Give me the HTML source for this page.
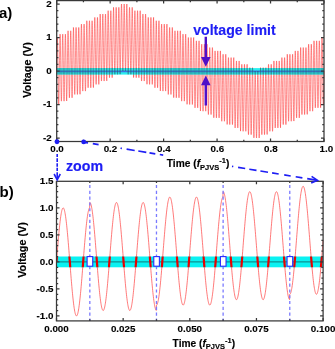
<!DOCTYPE html><html><head><meta charset="utf-8"><style>html,body{margin:0;padding:0;background:#fff;width:335px;height:349px;overflow:hidden}svg{display:block;will-change:transform}text{font-family:"Liberation Sans",sans-serif;font-weight:bold}.tk{font-size:9.8px;stroke:#000;stroke-width:0.12px}.tt{stroke:#000;stroke-width:0.15px}</style></head><body>
<svg width="335" height="349" viewBox="0 0 335 349">
<defs>
<clipPath id="clA"><rect x="56.7" y="68.1" width="267.3" height="6.5"/></clipPath></defs>
<polyline points="56.7,71 56.74,67.5 56.79,64.03 56.83,60.65 56.88,57.37 56.92,54.25 56.97,51.31 57.01,48.58 57.06,46.1 57.1,43.9 57.15,41.99 57.19,40.4 57.23,39.14 57.28,38.23 57.32,37.68 57.37,37.5 57.41,37.68 57.46,38.23 57.5,39.14 57.55,40.4 57.59,41.99 57.64,43.9 57.68,46.1 57.72,48.58 57.77,51.31 57.81,54.25 57.86,57.37 57.9,60.65 57.95,64.03 57.99,67.5 58.04,71 58.08,74.5 58.13,77.97 58.17,81.35 58.21,84.63 58.26,87.75 58.3,90.69 58.35,93.42 58.39,95.9 58.44,98.1 58.48,100.01 58.53,101.6 58.57,102.86 58.62,103.77 58.66,104.32 58.7,104.5 58.75,104.32 58.79,103.77 58.84,102.86 58.88,101.6 58.93,100.01 58.97,98.1 59.02,95.9 59.06,93.42 59.11,90.69 59.15,87.75 59.19,84.63 59.24,81.35 59.28,77.97 59.33,74.5 59.37,71 59.42,67.5 59.46,64.03 59.51,60.65 59.55,57.37 59.6,54.25 59.64,51.31 59.68,48.58 59.73,46.1 59.77,43.9 59.82,41.99 59.86,40.4 59.91,39.14 59.95,38.23 60,37.68 60.04,34.15 60.09,34.33 60.13,34.88 60.17,35.79 60.22,37.05 60.26,38.64 60.31,40.55 60.35,42.75 60.4,45.23 60.44,47.96 60.49,50.9 60.53,54.02 60.58,57.3 60.62,60.68 60.66,64.15 60.71,67.65 60.75,71.15 60.8,74.62 60.84,78 60.89,81.28 60.93,84.4 60.98,87.34 61.02,90.07 61.07,92.55 61.11,94.75 61.16,96.66 61.2,98.25 61.24,99.51 61.29,100.42 61.33,100.97 61.38,101.15 61.42,100.97 61.47,100.42 61.51,99.51 61.56,98.25 61.6,96.66 61.65,94.75 61.69,92.55 61.73,90.07 61.78,87.34 61.82,84.4 61.87,81.28 61.91,78 61.96,74.62 62,71.15 62.05,67.65 62.09,64.15 62.14,60.68 62.18,57.3 62.22,54.02 62.27,50.9 62.31,47.96 62.36,45.23 62.4,42.75 62.45,40.55 62.49,38.64 62.54,37.05 62.58,35.79 62.63,34.88 62.67,34.33 62.71,34.15 62.76,34.33 62.8,34.88 62.85,35.79 62.89,37.05 62.94,38.64 62.98,40.55 63.03,42.75 63.07,45.23 63.12,47.96 63.16,50.9 63.2,54.02 63.25,57.3 63.29,60.68 63.34,64.15 63.38,67.65 63.43,71.15 63.47,74.62 63.52,78 63.56,81.28 63.61,84.4 63.65,87.34 63.69,90.07 63.74,92.55 63.78,94.75 63.83,96.66 63.87,98.25 63.92,99.51 63.96,100.42 64.01,100.97 64.05,101.15 64.1,100.97 64.14,100.42 64.18,99.51 64.23,98.25 64.27,96.66 64.32,94.75 64.36,92.55 64.41,90.07 64.45,87.34 64.5,84.4 64.54,81.28 64.59,78 64.63,74.62 64.67,71.15 64.72,67.65 64.76,64.15 64.81,60.68 64.85,57.3 64.9,54.02 64.94,50.9 64.99,47.96 65.03,45.23 65.08,42.75 65.12,40.55 65.16,38.64 65.21,37.05 65.25,35.79 65.3,34.88 65.34,34.33 65.39,34.15 65.43,34.33 65.48,34.88 65.52,35.79 65.57,37.05 65.61,38.64 65.65,40.55 65.7,42.75 65.74,45.23 65.79,47.96 65.83,50.9 65.88,54.02 65.92,57.3 65.97,60.68 66.01,64.15 66.06,67.65 66.1,71.15 66.14,74.62 66.19,78 66.23,81.28 66.28,84.4 66.32,87.34 66.37,90.07 66.41,92.55 66.46,94.75 66.5,96.66 66.55,98.25 66.59,99.51 66.63,100.42 66.68,100.97 66.72,97.8 66.77,97.62 66.81,97.07 66.86,96.16 66.9,94.9 66.95,93.31 66.99,91.4 67.04,89.2 67.08,86.72 67.12,83.99 67.17,81.05 67.21,77.93 67.26,74.65 67.3,71.27 67.35,67.8 67.39,64.3 67.44,60.8 67.48,57.33 67.53,53.95 67.57,50.67 67.61,47.55 67.66,44.61 67.7,41.88 67.75,39.4 67.79,37.2 67.84,35.29 67.88,33.7 67.93,32.44 67.97,31.53 68.02,30.98 68.06,30.8 68.1,30.98 68.15,31.53 68.19,32.44 68.24,33.7 68.28,35.29 68.33,37.2 68.37,39.4 68.42,41.88 68.46,44.61 68.51,47.55 68.55,50.67 68.59,53.95 68.64,57.33 68.68,60.8 68.73,64.3 68.77,67.8 68.82,71.27 68.86,74.65 68.91,77.93 68.95,81.05 69,83.99 69.04,86.72 69.08,89.2 69.13,91.4 69.17,93.31 69.22,94.9 69.26,96.16 69.31,97.07 69.35,97.62 69.4,97.8 69.44,97.62 69.49,97.07 69.53,96.16 69.57,94.9 69.62,93.31 69.66,91.4 69.71,89.2 69.75,86.72 69.8,83.99 69.84,81.05 69.89,77.93 69.93,74.65 69.98,71.27 70.02,67.8 70.06,64.3 70.11,60.8 70.15,57.33 70.2,53.95 70.24,50.67 70.29,47.55 70.33,44.61 70.38,41.88 70.42,39.4 70.47,37.2 70.51,35.29 70.56,33.7 70.6,32.44 70.64,31.53 70.69,30.98 70.73,30.8 70.78,30.98 70.82,31.53 70.87,32.44 70.91,33.7 70.96,35.29 71,37.2 71.05,39.4 71.09,41.88 71.13,44.61 71.18,47.55 71.22,50.67 71.27,53.95 71.31,57.33 71.36,60.8 71.4,64.3 71.45,67.8 71.49,71.27 71.54,74.65 71.58,77.93 71.62,81.05 71.67,83.99 71.71,86.72 71.76,89.2 71.8,91.4 71.85,93.31 71.89,94.9 71.94,96.16 71.98,97.07 72.03,97.62 72.07,97.8 72.11,97.62 72.16,97.07 72.2,96.16 72.25,94.9 72.29,93.31 72.34,91.4 72.38,89.2 72.43,86.72 72.47,83.99 72.52,81.05 72.56,77.93 72.6,74.65 72.65,71.27 72.69,67.8 72.74,64.3 72.78,60.8 72.83,57.33 72.87,53.95 72.92,50.67 72.96,47.55 73.01,44.61 73.05,41.88 73.09,39.4 73.14,37.2 73.18,35.29 73.23,33.7 73.27,32.44 73.32,31.53 73.36,30.98 73.41,27.45 73.45,27.63 73.5,28.18 73.54,29.09 73.58,30.35 73.63,31.94 73.67,33.85 73.72,36.05 73.76,38.53 73.81,41.26 73.85,44.2 73.9,47.32 73.94,50.6 73.99,53.98 74.03,57.45 74.07,60.95 74.12,64.45 74.16,67.92 74.21,71.3 74.25,74.58 74.3,77.7 74.34,80.64 74.39,83.37 74.43,85.85 74.48,88.05 74.52,89.96 74.56,91.55 74.61,92.81 74.65,93.72 74.7,94.27 74.74,94.45 74.79,94.27 74.83,93.72 74.88,92.81 74.92,91.55 74.97,89.96 75.01,88.05 75.05,85.85 75.1,83.37 75.14,80.64 75.19,77.7 75.23,74.58 75.28,71.3 75.32,67.92 75.37,64.45 75.41,60.95 75.46,57.45 75.5,53.98 75.54,50.6 75.59,47.32 75.63,44.2 75.68,41.26 75.72,38.53 75.77,36.05 75.81,33.85 75.86,31.94 75.9,30.35 75.95,29.09 75.99,28.18 76.03,27.63 76.08,27.45 76.12,27.63 76.17,28.18 76.21,29.09 76.26,30.35 76.3,31.94 76.35,33.85 76.39,36.05 76.44,38.53 76.48,41.26 76.52,44.2 76.57,47.32 76.61,50.6 76.66,53.98 76.7,57.45 76.75,60.95 76.79,64.45 76.84,67.92 76.88,71.3 76.93,74.58 76.97,77.7 77.01,80.64 77.06,83.37 77.1,85.85 77.15,88.05 77.19,89.96 77.24,91.55 77.28,92.81 77.33,93.72 77.37,94.27 77.42,94.45 77.46,94.27 77.5,93.72 77.55,92.81 77.59,91.55 77.64,89.96 77.68,88.05 77.73,85.85 77.77,83.37 77.82,80.64 77.86,77.7 77.91,74.58 77.95,71.3 77.99,67.92 78.04,64.45 78.08,60.95 78.13,57.45 78.17,53.98 78.22,50.6 78.26,47.32 78.31,44.2 78.35,41.26 78.4,38.53 78.44,36.05 78.48,33.85 78.53,31.94 78.57,30.35 78.62,29.09 78.66,28.18 78.71,27.63 78.75,27.45 78.8,27.63 78.84,28.18 78.89,29.09 78.93,30.35 78.97,31.94 79.02,33.85 79.06,36.05 79.11,38.53 79.15,41.26 79.2,44.2 79.24,47.32 79.29,50.6 79.33,53.98 79.38,57.45 79.42,60.95 79.47,64.45 79.51,67.92 79.55,71.3 79.6,74.58 79.64,77.7 79.69,80.64 79.73,83.37 79.78,85.85 79.82,88.05 79.87,89.96 79.91,91.55 79.96,92.81 80,93.72 80.04,94.27 80.09,91.1 80.13,90.92 80.18,90.37 80.22,89.46 80.27,88.2 80.31,86.61 80.36,84.7 80.4,82.5 80.45,80.02 80.49,77.29 80.53,74.35 80.58,71.23 80.62,67.95 80.67,64.57 80.71,61.1 80.76,57.6 80.8,54.1 80.85,50.63 80.89,47.25 80.94,43.97 80.98,40.85 81.02,37.91 81.07,35.18 81.11,32.7 81.16,30.5 81.2,28.59 81.25,27 81.29,25.74 81.34,24.83 81.38,24.28 81.43,24.1 81.47,24.28 81.51,24.83 81.56,25.74 81.6,27 81.65,28.59 81.69,30.5 81.74,32.7 81.78,35.18 81.83,37.91 81.87,40.85 81.92,43.97 81.96,47.25 82,50.63 82.05,54.1 82.09,57.6 82.14,61.1 82.18,64.57 82.23,67.95 82.27,71.23 82.32,74.35 82.36,77.29 82.41,80.02 82.45,82.5 82.49,84.7 82.54,86.61 82.58,88.2 82.63,89.46 82.67,90.37 82.72,90.92 82.76,91.1 82.81,90.92 82.85,90.37 82.9,89.46 82.94,88.2 82.98,86.61 83.03,84.7 83.07,82.5 83.12,80.02 83.16,77.29 83.21,74.35 83.25,71.23 83.3,67.95 83.34,64.57 83.39,61.1 83.43,57.6 83.47,54.1 83.52,50.63 83.56,47.25 83.61,43.97 83.65,40.85 83.7,37.91 83.74,35.18 83.79,32.7 83.83,30.5 83.88,28.59 83.92,27 83.96,25.74 84.01,24.83 84.05,24.28 84.1,24.1 84.14,24.28 84.19,24.83 84.23,25.74 84.28,27 84.32,28.59 84.37,30.5 84.41,32.7 84.45,35.18 84.5,37.91 84.54,40.85 84.59,43.97 84.63,47.25 84.68,50.63 84.72,54.1 84.77,57.6 84.81,61.1 84.86,64.57 84.9,67.95 84.94,71.23 84.99,74.35 85.03,77.29 85.08,80.02 85.12,82.5 85.17,84.7 85.21,86.61 85.26,88.2 85.3,89.46 85.35,90.37 85.39,90.92 85.43,91.1 85.48,90.92 85.52,90.37 85.57,89.46 85.61,88.2 85.66,86.61 85.7,84.7 85.75,82.5 85.79,80.02 85.84,77.29 85.88,74.35 85.92,71.23 85.97,67.95 86.01,64.57 86.06,61.1 86.1,57.6 86.15,54.1 86.19,50.63 86.24,47.25 86.28,43.97 86.33,40.85 86.37,37.91 86.41,35.18 86.46,32.7 86.5,30.5 86.55,28.59 86.59,27 86.64,25.74 86.68,24.83 86.73,24.28 86.77,20.75 86.82,20.93 86.86,21.48 86.9,22.39 86.95,23.65 86.99,25.24 87.04,27.15 87.08,29.35 87.13,31.83 87.17,34.56 87.22,37.5 87.26,40.62 87.31,43.9 87.35,47.28 87.39,50.75 87.44,54.25 87.48,57.75 87.53,61.22 87.57,64.6 87.62,67.88 87.66,71 87.71,73.94 87.75,76.67 87.8,79.15 87.84,81.35 87.89,83.26 87.93,84.85 87.97,86.11 88.02,87.02 88.06,87.57 88.11,87.75 88.15,87.57 88.2,87.02 88.24,86.11 88.29,84.85 88.33,83.26 88.38,81.35 88.42,79.15 88.46,76.67 88.51,73.94 88.55,71 88.6,67.88 88.64,64.6 88.69,61.22 88.73,57.75 88.78,54.25 88.82,50.75 88.87,47.28 88.91,43.9 88.95,40.62 89,37.5 89.04,34.56 89.09,31.83 89.13,29.35 89.18,27.15 89.22,25.24 89.27,23.65 89.31,22.39 89.36,21.48 89.4,20.93 89.44,20.75 89.49,20.93 89.53,21.48 89.58,22.39 89.62,23.65 89.67,25.24 89.71,27.15 89.76,29.35 89.8,31.83 89.85,34.56 89.89,37.5 89.93,40.62 89.98,43.9 90.02,47.28 90.07,50.75 90.11,54.25 90.16,57.75 90.2,61.22 90.25,64.6 90.29,67.88 90.34,71 90.38,73.94 90.42,76.67 90.47,79.15 90.51,81.35 90.56,83.26 90.6,84.85 90.65,86.11 90.69,87.02 90.74,87.57 90.78,87.75 90.83,87.57 90.87,87.02 90.91,86.11 90.96,84.85 91,83.26 91.05,81.35 91.09,79.15 91.14,76.67 91.18,73.94 91.23,71 91.27,67.88 91.32,64.6 91.36,61.22 91.4,57.75 91.45,54.25 91.49,50.75 91.54,47.28 91.58,43.9 91.63,40.62 91.67,37.5 91.72,34.56 91.76,31.83 91.81,29.35 91.85,27.15 91.89,25.24 91.94,23.65 91.98,22.39 92.03,21.48 92.07,20.93 92.12,20.75 92.16,20.93 92.21,21.48 92.25,22.39 92.3,23.65 92.34,25.24 92.38,27.15 92.43,29.35 92.47,31.83 92.52,34.56 92.56,37.5 92.61,40.62 92.65,43.9 92.7,47.28 92.74,50.75 92.79,54.25 92.83,57.75 92.87,61.22 92.92,64.6 92.96,67.88 93.01,71 93.05,73.94 93.1,76.67 93.14,79.15 93.19,81.35 93.23,83.26 93.28,84.85 93.32,86.11 93.36,87.02 93.41,87.57 93.45,84.4 93.5,84.22 93.54,83.67 93.59,82.76 93.63,81.5 93.68,79.91 93.72,78 93.77,75.8 93.81,73.32 93.85,70.59 93.9,67.65 93.94,64.53 93.99,61.25 94.03,57.87 94.08,54.4 94.12,50.9 94.17,47.4 94.21,43.93 94.26,40.55 94.3,37.27 94.34,34.15 94.39,31.21 94.43,28.48 94.48,26 94.52,23.8 94.57,21.89 94.61,20.3 94.66,19.04 94.7,18.13 94.75,17.58 94.79,17.4 94.83,17.58 94.88,18.13 94.92,19.04 94.97,20.3 95.01,21.89 95.06,23.8 95.1,26 95.15,28.48 95.19,31.21 95.24,34.15 95.28,37.27 95.32,40.55 95.37,43.93 95.41,47.4 95.46,50.9 95.5,54.4 95.55,57.87 95.59,61.25 95.64,64.53 95.68,67.65 95.73,70.59 95.77,73.32 95.81,75.8 95.86,78 95.9,79.91 95.95,81.5 95.99,82.76 96.04,83.67 96.08,84.22 96.13,84.4 96.17,84.22 96.22,83.67 96.26,82.76 96.3,81.5 96.35,79.91 96.39,78 96.44,75.8 96.48,73.32 96.53,70.59 96.57,67.65 96.62,64.53 96.66,61.25 96.71,57.87 96.75,54.4 96.8,50.9 96.84,47.4 96.88,43.93 96.93,40.55 96.97,37.27 97.02,34.15 97.06,31.21 97.11,28.48 97.15,26 97.2,23.8 97.24,21.89 97.29,20.3 97.33,19.04 97.37,18.13 97.42,17.58 97.46,17.4 97.51,17.58 97.55,18.13 97.6,19.04 97.64,20.3 97.69,21.89 97.73,23.8 97.78,26 97.82,28.48 97.86,31.21 97.91,34.15 97.95,37.27 98,40.55 98.04,43.93 98.09,47.4 98.13,50.9 98.18,54.4 98.22,57.87 98.27,61.25 98.31,64.53 98.35,67.65 98.4,70.59 98.44,73.32 98.49,75.8 98.53,78 98.58,79.91 98.62,81.5 98.67,82.76 98.71,83.67 98.76,84.22 98.8,84.4 98.84,84.22 98.89,83.67 98.93,82.76 98.98,81.5 99.02,79.91 99.07,78 99.11,75.8 99.16,73.32 99.2,70.59 99.25,67.65 99.29,64.53 99.33,61.25 99.38,57.87 99.42,54.4 99.47,50.9 99.51,47.4 99.56,43.93 99.6,40.55 99.65,37.27 99.69,34.15 99.74,31.21 99.78,28.48 99.82,26 99.87,23.8 99.91,21.89 99.96,20.3 100,19.04 100.05,18.13 100.09,17.58 100.14,14.05 100.18,14.23 100.23,14.78 100.27,15.69 100.31,16.95 100.36,18.54 100.4,20.45 100.45,22.65 100.49,25.13 100.54,27.86 100.58,30.8 100.63,33.92 100.67,37.2 100.72,40.58 100.76,44.05 100.8,47.55 100.85,51.05 100.89,54.52 100.94,57.9 100.98,61.18 101.03,64.3 101.07,67.24 101.12,69.97 101.16,72.45 101.21,74.65 101.25,76.56 101.29,78.15 101.34,79.41 101.38,80.32 101.43,80.87 101.47,81.05 101.52,80.87 101.56,80.32 101.61,79.41 101.65,78.15 101.7,76.56 101.74,74.65 101.78,72.45 101.83,69.97 101.87,67.24 101.92,64.3 101.96,61.18 102.01,57.9 102.05,54.52 102.1,51.05 102.14,47.55 102.19,44.05 102.23,40.58 102.27,37.2 102.32,33.92 102.36,30.8 102.41,27.86 102.45,25.13 102.5,22.65 102.54,20.45 102.59,18.54 102.63,16.95 102.68,15.69 102.72,14.78 102.76,14.23 102.81,14.05 102.85,14.23 102.9,14.78 102.94,15.69 102.99,16.95 103.03,18.54 103.08,20.45 103.12,22.65 103.17,25.13 103.21,27.86 103.25,30.8 103.3,33.92 103.34,37.2 103.39,40.58 103.43,44.05 103.48,47.55 103.52,51.05 103.57,54.52 103.61,57.9 103.66,61.18 103.7,64.3 103.74,67.24 103.79,69.97 103.83,72.45 103.88,74.65 103.92,76.56 103.97,78.15 104.01,79.41 104.06,80.32 104.1,80.87 104.15,81.05 104.19,80.87 104.23,80.32 104.28,79.41 104.32,78.15 104.37,76.56 104.41,74.65 104.46,72.45 104.5,69.97 104.55,67.24 104.59,64.3 104.64,61.18 104.68,57.9 104.72,54.52 104.77,51.05 104.81,47.55 104.86,44.05 104.9,40.58 104.95,37.2 104.99,33.92 105.04,30.8 105.08,27.86 105.13,25.13 105.17,22.65 105.21,20.45 105.26,18.54 105.3,16.95 105.35,15.69 105.39,14.78 105.44,14.23 105.48,14.05 105.53,14.23 105.57,14.78 105.62,15.69 105.66,16.95 105.7,18.54 105.75,20.45 105.79,22.65 105.84,25.13 105.88,27.86 105.93,30.8 105.97,33.92 106.02,37.2 106.06,40.58 106.11,44.05 106.15,47.55 106.2,51.05 106.24,54.52 106.28,57.9 106.33,61.18 106.37,64.3 106.42,67.24 106.46,69.97 106.51,72.45 106.55,74.65 106.6,76.56 106.64,78.15 106.69,79.41 106.73,80.32 106.77,80.87 106.82,77.7 106.86,77.52 106.91,76.97 106.95,76.06 107,74.8 107.04,73.21 107.09,71.3 107.13,69.1 107.18,66.62 107.22,63.89 107.26,60.95 107.31,57.83 107.35,54.55 107.4,51.17 107.44,47.7 107.49,44.2 107.53,40.7 107.58,37.23 107.62,33.85 107.67,30.57 107.71,27.45 107.75,24.51 107.8,21.78 107.84,19.3 107.89,17.1 107.93,15.19 107.98,13.6 108.02,12.34 108.07,11.43 108.11,10.88 108.16,10.7 108.2,10.88 108.24,11.43 108.29,12.34 108.33,13.6 108.38,15.19 108.42,17.1 108.47,19.3 108.51,21.78 108.56,24.51 108.6,27.45 108.65,30.57 108.69,33.85 108.73,37.23 108.78,40.7 108.82,44.2 108.87,47.7 108.91,51.17 108.96,54.55 109,57.83 109.05,60.95 109.09,63.89 109.14,66.62 109.18,69.1 109.22,71.3 109.27,73.21 109.31,74.8 109.36,76.06 109.4,76.97 109.45,77.52 109.49,77.7 109.54,77.52 109.58,76.97 109.63,76.06 109.67,74.8 109.71,73.21 109.76,71.3 109.8,69.1 109.85,66.62 109.89,63.89 109.94,60.95 109.98,57.83 110.03,54.55 110.07,51.17 110.12,47.7 110.16,44.2 110.2,40.7 110.25,37.23 110.29,33.85 110.34,30.57 110.38,27.45 110.43,24.51 110.47,21.78 110.52,19.3 110.56,17.1 110.61,15.19 110.65,13.6 110.69,12.34 110.74,11.43 110.78,10.88 110.83,10.7 110.87,10.88 110.92,11.43 110.96,12.34 111.01,13.6 111.05,15.19 111.1,17.1 111.14,19.3 111.18,21.78 111.23,24.51 111.27,27.45 111.32,30.57 111.36,33.85 111.41,37.23 111.45,40.7 111.5,44.2 111.54,47.7 111.59,51.17 111.63,54.55 111.67,57.83 111.72,60.95 111.76,63.89 111.81,66.62 111.85,69.1 111.9,71.3 111.94,73.21 111.99,74.8 112.03,76.06 112.08,76.97 112.12,77.52 112.16,77.7 112.21,77.52 112.25,76.97 112.3,76.06 112.34,74.8 112.39,73.21 112.43,71.3 112.48,69.1 112.52,66.62 112.57,63.89 112.61,60.95 112.65,57.83 112.7,54.55 112.74,51.17 112.79,47.7 112.83,44.2 112.88,40.7 112.92,37.23 112.97,33.85 113.01,30.57 113.06,27.45 113.1,24.51 113.14,21.78 113.19,19.3 113.23,17.1 113.28,15.19 113.32,13.6 113.37,12.34 113.41,11.43 113.46,10.88 113.5,7.35 113.55,7.53 113.59,8.08 113.63,8.99 113.68,10.25 113.72,11.84 113.77,13.75 113.81,15.95 113.86,18.43 113.9,21.16 113.95,24.1 113.99,27.22 114.04,30.5 114.08,33.88 114.12,37.35 114.17,40.85 114.21,44.35 114.26,47.82 114.3,51.2 114.35,54.48 114.39,57.6 114.44,60.54 114.48,63.27 114.53,65.75 114.57,67.95 114.62,69.86 114.66,71.45 114.7,72.71 114.75,73.62 114.79,74.17 114.84,74.35 114.88,74.17 114.93,73.62 114.97,72.71 115.02,71.45 115.06,69.86 115.11,67.95 115.15,65.75 115.19,63.27 115.24,60.54 115.28,57.6 115.33,54.48 115.37,51.2 115.42,47.82 115.46,44.35 115.51,40.85 115.55,37.35 115.6,33.88 115.64,30.5 115.68,27.22 115.73,24.1 115.77,21.16 115.82,18.43 115.86,15.95 115.91,13.75 115.95,11.84 116,10.25 116.04,8.99 116.09,8.08 116.13,7.53 116.17,7.35 116.22,7.53 116.26,8.08 116.31,8.99 116.35,10.25 116.4,11.84 116.44,13.75 116.49,15.95 116.53,18.43 116.58,21.16 116.62,24.1 116.66,27.22 116.71,30.5 116.75,33.88 116.8,37.35 116.84,40.85 116.89,44.35 116.93,47.82 116.98,51.2 117.02,54.48 117.07,57.6 117.11,60.54 117.15,63.27 117.2,65.75 117.24,67.95 117.29,69.86 117.33,71.45 117.38,72.71 117.42,73.62 117.47,74.17 117.51,74.35 117.56,74.17 117.6,73.62 117.64,72.71 117.69,71.45 117.73,69.86 117.78,67.95 117.82,65.75 117.87,63.27 117.91,60.54 117.96,57.6 118,54.48 118.05,51.2 118.09,47.82 118.13,44.35 118.18,40.85 118.22,37.35 118.27,33.88 118.31,30.5 118.36,27.22 118.4,24.1 118.45,21.16 118.49,18.43 118.54,15.95 118.58,13.75 118.62,11.84 118.67,10.25 118.71,8.99 118.76,8.08 118.8,7.53 118.85,7.35 118.89,7.53 118.94,8.08 118.98,8.99 119.03,10.25 119.07,11.84 119.11,13.75 119.16,15.95 119.2,18.43 119.25,21.16 119.29,24.1 119.34,27.22 119.38,30.5 119.43,33.88 119.47,37.35 119.52,40.85 119.56,44.35 119.6,47.82 119.65,51.2 119.69,54.48 119.74,57.6 119.78,60.54 119.83,63.27 119.87,65.75 119.92,67.95 119.96,69.86 120.01,71.45 120.05,72.71 120.09,73.62 120.14,74.17 120.18,71 120.23,70.82 120.27,70.27 120.32,69.36 120.36,68.1 120.41,66.51 120.45,64.6 120.5,62.4 120.54,59.92 120.58,57.19 120.63,54.25 120.67,51.13 120.72,47.85 120.76,44.47 120.81,41 120.85,37.5 120.9,34 120.94,30.53 120.99,27.15 121.03,23.87 121.07,20.75 121.12,17.81 121.16,15.08 121.21,12.6 121.25,10.4 121.3,8.49 121.34,6.9 121.39,5.64 121.43,4.73 121.48,4.18 121.52,4 121.56,4.18 121.61,4.73 121.65,5.64 121.7,6.9 121.74,8.49 121.79,10.4 121.83,12.6 121.88,15.08 121.92,17.81 121.97,20.75 122.01,23.87 122.05,27.15 122.1,30.53 122.14,34 122.19,37.5 122.23,41 122.28,44.47 122.32,47.85 122.37,51.13 122.41,54.25 122.46,57.19 122.5,59.92 122.54,62.4 122.59,64.6 122.63,66.51 122.68,68.1 122.72,69.36 122.77,70.27 122.81,70.82 122.86,71 122.9,70.82 122.95,70.27 122.99,69.36 123.03,68.1 123.08,66.51 123.12,64.6 123.17,62.4 123.21,59.92 123.26,57.19 123.3,54.25 123.35,51.13 123.39,47.85 123.44,44.47 123.48,41 123.53,37.5 123.57,34 123.61,30.53 123.66,27.15 123.7,23.87 123.75,20.75 123.79,17.81 123.84,15.08 123.88,12.6 123.93,10.4 123.97,8.49 124.02,6.9 124.06,5.64 124.1,4.73 124.15,4.18 124.19,4 124.24,4.18 124.28,4.73 124.33,5.64 124.37,6.9 124.42,8.49 124.46,10.4 124.51,12.6 124.55,15.08 124.59,17.81 124.64,20.75 124.68,23.87 124.73,27.15 124.77,30.53 124.82,34 124.86,37.5 124.91,41 124.95,44.47 125,47.85 125.04,51.13 125.08,54.25 125.13,57.19 125.17,59.92 125.22,62.4 125.26,64.6 125.31,66.51 125.35,68.1 125.4,69.36 125.44,70.27 125.49,70.82 125.53,71 125.57,70.82 125.62,70.27 125.66,69.36 125.71,68.1 125.75,66.51 125.8,64.6 125.84,62.4 125.89,59.92 125.93,57.19 125.98,54.25 126.02,51.13 126.06,47.85 126.11,44.47 126.15,41 126.2,37.5 126.24,34 126.29,30.53 126.33,27.15 126.38,23.87 126.42,20.75 126.47,17.81 126.51,15.08 126.55,12.6 126.6,10.4 126.64,8.49 126.69,6.9 126.73,5.64 126.78,4.73 126.82,4.18 126.87,4 126.91,7.53 126.96,8.08 127,8.99 127.04,10.25 127.09,11.84 127.13,13.75 127.18,15.95 127.22,18.43 127.27,21.16 127.31,24.1 127.36,27.22 127.4,30.5 127.45,33.88 127.49,37.35 127.53,40.85 127.58,44.35 127.62,47.82 127.67,51.2 127.71,54.48 127.76,57.6 127.8,60.54 127.85,63.27 127.89,65.75 127.94,67.95 127.98,69.86 128.02,71.45 128.07,72.71 128.11,73.62 128.16,74.17 128.2,74.35 128.25,74.17 128.29,73.62 128.34,72.71 128.38,71.45 128.43,69.86 128.47,67.95 128.51,65.75 128.56,63.27 128.6,60.54 128.65,57.6 128.69,54.48 128.74,51.2 128.78,47.82 128.83,44.35 128.87,40.85 128.92,37.35 128.96,33.88 129,30.5 129.05,27.22 129.09,24.1 129.14,21.16 129.18,18.43 129.23,15.95 129.27,13.75 129.32,11.84 129.36,10.25 129.41,8.99 129.45,8.08 129.49,7.53 129.54,7.35 129.58,7.53 129.63,8.08 129.67,8.99 129.72,10.25 129.76,11.84 129.81,13.75 129.85,15.95 129.9,18.43 129.94,21.16 129.98,24.1 130.03,27.22 130.07,30.5 130.12,33.88 130.16,37.35 130.21,40.85 130.25,44.35 130.3,47.82 130.34,51.2 130.39,54.48 130.43,57.6 130.47,60.54 130.52,63.27 130.56,65.75 130.61,67.95 130.65,69.86 130.7,71.45 130.74,72.71 130.79,73.62 130.83,74.17 130.88,74.35 130.92,74.17 130.96,73.62 131.01,72.71 131.05,71.45 131.1,69.86 131.14,67.95 131.19,65.75 131.23,63.27 131.28,60.54 131.32,57.6 131.37,54.48 131.41,51.2 131.45,47.82 131.5,44.35 131.54,40.85 131.59,37.35 131.63,33.88 131.68,30.5 131.72,27.22 131.77,24.1 131.81,21.16 131.86,18.43 131.9,15.95 131.94,13.75 131.99,11.84 132.03,10.25 132.08,8.99 132.12,8.08 132.17,7.53 132.21,7.35 132.26,7.53 132.3,8.08 132.35,8.99 132.39,10.25 132.44,11.84 132.48,13.75 132.52,15.95 132.57,18.43 132.61,21.16 132.66,24.1 132.7,27.22 132.75,30.5 132.79,33.88 132.84,37.35 132.88,40.85 132.93,44.35 132.97,47.82 133.01,51.2 133.06,54.48 133.1,57.6 133.15,60.54 133.19,63.27 133.24,65.75 133.28,67.95 133.33,69.86 133.37,71.45 133.42,72.71 133.46,73.62 133.5,74.17 133.55,74.35 133.59,77.52 133.64,76.97 133.68,76.06 133.73,74.8 133.77,73.21 133.82,71.3 133.86,69.1 133.91,66.62 133.95,63.89 133.99,60.95 134.04,57.83 134.08,54.55 134.13,51.17 134.17,47.7 134.22,44.2 134.26,40.7 134.31,37.23 134.35,33.85 134.4,30.57 134.44,27.45 134.48,24.51 134.53,21.78 134.57,19.3 134.62,17.1 134.66,15.19 134.71,13.6 134.75,12.34 134.8,11.43 134.84,10.88 134.89,10.7 134.93,10.88 134.97,11.43 135.02,12.34 135.06,13.6 135.11,15.19 135.15,17.1 135.2,19.3 135.24,21.78 135.29,24.51 135.33,27.45 135.38,30.57 135.42,33.85 135.46,37.23 135.51,40.7 135.55,44.2 135.6,47.7 135.64,51.17 135.69,54.55 135.73,57.83 135.78,60.95 135.82,63.89 135.87,66.62 135.91,69.1 135.95,71.3 136,73.21 136.04,74.8 136.09,76.06 136.13,76.97 136.18,77.52 136.22,77.7 136.27,77.52 136.31,76.97 136.36,76.06 136.4,74.8 136.44,73.21 136.49,71.3 136.53,69.1 136.58,66.62 136.62,63.89 136.67,60.95 136.71,57.83 136.76,54.55 136.8,51.17 136.85,47.7 136.89,44.2 136.93,40.7 136.98,37.23 137.02,33.85 137.07,30.57 137.11,27.45 137.16,24.51 137.2,21.78 137.25,19.3 137.29,17.1 137.34,15.19 137.38,13.6 137.42,12.34 137.47,11.43 137.51,10.88 137.56,10.7 137.6,10.88 137.65,11.43 137.69,12.34 137.74,13.6 137.78,15.19 137.83,17.1 137.87,19.3 137.91,21.78 137.96,24.51 138,27.45 138.05,30.57 138.09,33.85 138.14,37.23 138.18,40.7 138.23,44.2 138.27,47.7 138.32,51.17 138.36,54.55 138.4,57.83 138.45,60.95 138.49,63.89 138.54,66.62 138.58,69.1 138.63,71.3 138.67,73.21 138.72,74.8 138.76,76.06 138.81,76.97 138.85,77.52 138.89,77.7 138.94,77.52 138.98,76.97 139.03,76.06 139.07,74.8 139.12,73.21 139.16,71.3 139.21,69.1 139.25,66.62 139.3,63.89 139.34,60.95 139.38,57.83 139.43,54.55 139.47,51.17 139.52,47.7 139.56,44.2 139.61,40.7 139.65,37.23 139.7,33.85 139.74,30.57 139.79,27.45 139.83,24.51 139.87,21.78 139.92,19.3 139.96,17.1 140.01,15.19 140.05,13.6 140.1,12.34 140.14,11.43 140.19,10.88 140.23,10.7 140.28,14.23 140.32,14.78 140.36,15.69 140.41,16.95 140.45,18.54 140.5,20.45 140.54,22.65 140.59,25.13 140.63,27.86 140.68,30.8 140.72,33.92 140.77,37.2 140.81,40.58 140.85,44.05 140.9,47.55 140.94,51.05 140.99,54.52 141.03,57.9 141.08,61.18 141.12,64.3 141.17,67.24 141.21,69.97 141.26,72.45 141.3,74.65 141.34,76.56 141.39,78.15 141.43,79.41 141.48,80.32 141.52,80.87 141.57,81.05 141.61,80.87 141.66,80.32 141.7,79.41 141.75,78.15 141.79,76.56 141.84,74.65 141.88,72.45 141.92,69.97 141.97,67.24 142.01,64.3 142.06,61.18 142.1,57.9 142.15,54.52 142.19,51.05 142.24,47.55 142.28,44.05 142.33,40.58 142.37,37.2 142.41,33.92 142.46,30.8 142.5,27.86 142.55,25.13 142.59,22.65 142.64,20.45 142.68,18.54 142.73,16.95 142.77,15.69 142.82,14.78 142.86,14.23 142.9,14.05 142.95,14.23 142.99,14.78 143.04,15.69 143.08,16.95 143.13,18.54 143.17,20.45 143.22,22.65 143.26,25.13 143.31,27.86 143.35,30.8 143.39,33.92 143.44,37.2 143.48,40.58 143.53,44.05 143.57,47.55 143.62,51.05 143.66,54.52 143.71,57.9 143.75,61.18 143.8,64.3 143.84,67.24 143.88,69.97 143.93,72.45 143.97,74.65 144.02,76.56 144.06,78.15 144.11,79.41 144.15,80.32 144.2,80.87 144.24,81.05 144.29,80.87 144.33,80.32 144.37,79.41 144.42,78.15 144.46,76.56 144.51,74.65 144.55,72.45 144.6,69.97 144.64,67.24 144.69,64.3 144.73,61.18 144.78,57.9 144.82,54.52 144.86,51.05 144.91,47.55 144.95,44.05 145,40.58 145.04,37.2 145.09,33.92 145.13,30.8 145.18,27.86 145.22,25.13 145.27,22.65 145.31,20.45 145.35,18.54 145.4,16.95 145.44,15.69 145.49,14.78 145.53,14.23 145.58,14.05 145.62,14.23 145.67,14.78 145.71,15.69 145.76,16.95 145.8,18.54 145.84,20.45 145.89,22.65 145.93,25.13 145.98,27.86 146.02,30.8 146.07,33.92 146.11,37.2 146.16,40.58 146.2,44.05 146.25,47.55 146.29,51.05 146.33,54.52 146.38,57.9 146.42,61.18 146.47,64.3 146.51,67.24 146.56,69.97 146.6,72.45 146.65,74.65 146.69,76.56 146.74,78.15 146.78,79.41 146.82,80.32 146.87,80.87 146.91,81.05 146.96,84.22 147,83.67 147.05,82.76 147.09,81.5 147.14,79.91 147.18,78 147.23,75.8 147.27,73.32 147.31,70.59 147.36,67.65 147.4,64.53 147.45,61.25 147.49,57.87 147.54,54.4 147.58,50.9 147.63,47.4 147.67,43.93 147.72,40.55 147.76,37.27 147.8,34.15 147.85,31.21 147.89,28.48 147.94,26 147.98,23.8 148.03,21.89 148.07,20.3 148.12,19.04 148.16,18.13 148.21,17.58 148.25,17.4 148.29,17.58 148.34,18.13 148.38,19.04 148.43,20.3 148.47,21.89 148.52,23.8 148.56,26 148.61,28.48 148.65,31.21 148.7,34.15 148.74,37.27 148.78,40.55 148.83,43.93 148.87,47.4 148.92,50.9 148.96,54.4 149.01,57.87 149.05,61.25 149.1,64.53 149.14,67.65 149.19,70.59 149.23,73.32 149.27,75.8 149.32,78 149.36,79.91 149.41,81.5 149.45,82.76 149.5,83.67 149.54,84.22 149.59,84.4 149.63,84.22 149.68,83.67 149.72,82.76 149.76,81.5 149.81,79.91 149.85,78 149.9,75.8 149.94,73.32 149.99,70.59 150.03,67.65 150.08,64.53 150.12,61.25 150.17,57.87 150.21,54.4 150.25,50.9 150.3,47.4 150.34,43.93 150.39,40.55 150.43,37.27 150.48,34.15 150.52,31.21 150.57,28.48 150.61,26 150.66,23.8 150.7,21.89 150.75,20.3 150.79,19.04 150.83,18.13 150.88,17.58 150.92,17.4 150.97,17.58 151.01,18.13 151.06,19.04 151.1,20.3 151.15,21.89 151.19,23.8 151.24,26 151.28,28.48 151.32,31.21 151.37,34.15 151.41,37.27 151.46,40.55 151.5,43.93 151.55,47.4 151.59,50.9 151.64,54.4 151.68,57.87 151.73,61.25 151.77,64.53 151.81,67.65 151.86,70.59 151.9,73.32 151.95,75.8 151.99,78 152.04,79.91 152.08,81.5 152.13,82.76 152.17,83.67 152.22,84.22 152.26,84.4 152.3,84.22 152.35,83.67 152.39,82.76 152.44,81.5 152.48,79.91 152.53,78 152.57,75.8 152.62,73.32 152.66,70.59 152.71,67.65 152.75,64.53 152.79,61.25 152.84,57.87 152.88,54.4 152.93,50.9 152.97,47.4 153.02,43.93 153.06,40.55 153.11,37.27 153.15,34.15 153.2,31.21 153.24,28.48 153.28,26 153.33,23.8 153.37,21.89 153.42,20.3 153.46,19.04 153.51,18.13 153.55,17.58 153.6,17.4 153.64,20.93 153.69,21.48 153.73,22.39 153.77,23.65 153.82,25.24 153.86,27.15 153.91,29.35 153.95,31.83 154,34.56 154.04,37.5 154.09,40.62 154.13,43.9 154.18,47.28 154.22,50.75 154.26,54.25 154.31,57.75 154.35,61.22 154.4,64.6 154.44,67.88 154.49,71 154.53,73.94 154.58,76.67 154.62,79.15 154.67,81.35 154.71,83.26 154.75,84.85 154.8,86.11 154.84,87.02 154.89,87.57 154.93,87.75 154.98,87.57 155.02,87.02 155.07,86.11 155.11,84.85 155.16,83.26 155.2,81.35 155.24,79.15 155.29,76.67 155.33,73.94 155.38,71 155.42,67.88 155.47,64.6 155.51,61.22 155.56,57.75 155.6,54.25 155.65,50.75 155.69,47.28 155.73,43.9 155.78,40.62 155.82,37.5 155.87,34.56 155.91,31.83 155.96,29.35 156,27.15 156.05,25.24 156.09,23.65 156.14,22.39 156.18,21.48 156.22,20.93 156.27,20.75 156.31,20.93 156.36,21.48 156.4,22.39 156.45,23.65 156.49,25.24 156.54,27.15 156.58,29.35 156.63,31.83 156.67,34.56 156.71,37.5 156.76,40.62 156.8,43.9 156.85,47.28 156.89,50.75 156.94,54.25 156.98,57.75 157.03,61.22 157.07,64.6 157.12,67.88 157.16,71 157.2,73.94 157.25,76.67 157.29,79.15 157.34,81.35 157.38,83.26 157.43,84.85 157.47,86.11 157.52,87.02 157.56,87.57 157.61,87.75 157.65,87.57 157.69,87.02 157.74,86.11 157.78,84.85 157.83,83.26 157.87,81.35 157.92,79.15 157.96,76.67 158.01,73.94 158.05,71 158.1,67.88 158.14,64.6 158.18,61.22 158.23,57.75 158.27,54.25 158.32,50.75 158.36,47.28 158.41,43.9 158.45,40.62 158.5,37.5 158.54,34.56 158.59,31.83 158.63,29.35 158.67,27.15 158.72,25.24 158.76,23.65 158.81,22.39 158.85,21.48 158.9,20.93 158.94,20.75 158.99,20.93 159.03,21.48 159.08,22.39 159.12,23.65 159.17,25.24 159.21,27.15 159.25,29.35 159.3,31.83 159.34,34.56 159.39,37.5 159.43,40.62 159.48,43.9 159.52,47.28 159.57,50.75 159.61,54.25 159.66,57.75 159.7,61.22 159.74,64.6 159.79,67.88 159.83,71 159.88,73.94 159.92,76.67 159.97,79.15 160.01,81.35 160.06,83.26 160.1,84.85 160.15,86.11 160.19,87.02 160.23,87.57 160.28,87.75 160.32,90.92 160.37,90.37 160.41,89.46 160.46,88.2 160.5,86.61 160.55,84.7 160.59,82.5 160.64,80.02 160.68,77.29 160.72,74.35 160.77,71.23 160.81,67.95 160.86,64.57 160.9,61.1 160.95,57.6 160.99,54.1 161.04,50.63 161.08,47.25 161.13,43.97 161.17,40.85 161.21,37.91 161.26,35.18 161.3,32.7 161.35,30.5 161.39,28.59 161.44,27 161.48,25.74 161.53,24.83 161.57,24.28 161.62,24.1 161.66,24.28 161.7,24.83 161.75,25.74 161.79,27 161.84,28.59 161.88,30.5 161.93,32.7 161.97,35.18 162.02,37.91 162.06,40.85 162.11,43.97 162.15,47.25 162.19,50.63 162.24,54.1 162.28,57.6 162.33,61.1 162.37,64.57 162.42,67.95 162.46,71.23 162.51,74.35 162.55,77.29 162.6,80.02 162.64,82.5 162.68,84.7 162.73,86.61 162.77,88.2 162.82,89.46 162.86,90.37 162.91,90.92 162.95,91.1 163,90.92 163.04,90.37 163.09,89.46 163.13,88.2 163.17,86.61 163.22,84.7 163.26,82.5 163.31,80.02 163.35,77.29 163.4,74.35 163.44,71.23 163.49,67.95 163.53,64.57 163.58,61.1 163.62,57.6 163.66,54.1 163.71,50.63 163.75,47.25 163.8,43.97 163.84,40.85 163.89,37.91 163.93,35.18 163.98,32.7 164.02,30.5 164.07,28.59 164.11,27 164.15,25.74 164.2,24.83 164.24,24.28 164.29,24.1 164.33,24.28 164.38,24.83 164.42,25.74 164.47,27 164.51,28.59 164.56,30.5 164.6,32.7 164.64,35.18 164.69,37.91 164.73,40.85 164.78,43.97 164.82,47.25 164.87,50.63 164.91,54.1 164.96,57.6 165,61.1 165.05,64.57 165.09,67.95 165.13,71.23 165.18,74.35 165.22,77.29 165.27,80.02 165.31,82.5 165.36,84.7 165.4,86.61 165.45,88.2 165.49,89.46 165.54,90.37 165.58,90.92 165.62,91.1 165.67,90.92 165.71,90.37 165.76,89.46 165.8,88.2 165.85,86.61 165.89,84.7 165.94,82.5 165.98,80.02 166.03,77.29 166.07,74.35 166.11,71.23 166.16,67.95 166.2,64.57 166.25,61.1 166.29,57.6 166.34,54.1 166.38,50.63 166.43,47.25 166.47,43.97 166.52,40.85 166.56,37.91 166.6,35.18 166.65,32.7 166.69,30.5 166.74,28.59 166.78,27 166.83,25.74 166.87,24.83 166.92,24.28 166.96,24.1 167.01,27.63 167.05,28.18 167.09,29.09 167.14,30.35 167.18,31.94 167.23,33.85 167.27,36.05 167.32,38.53 167.36,41.26 167.41,44.2 167.45,47.32 167.5,50.6 167.54,53.98 167.58,57.45 167.63,60.95 167.67,64.45 167.72,67.92 167.76,71.3 167.81,74.58 167.85,77.7 167.9,80.64 167.94,83.37 167.99,85.85 168.03,88.05 168.08,89.96 168.12,91.55 168.16,92.81 168.21,93.72 168.25,94.27 168.3,94.45 168.34,94.27 168.39,93.72 168.43,92.81 168.48,91.55 168.52,89.96 168.57,88.05 168.61,85.85 168.65,83.37 168.7,80.64 168.74,77.7 168.79,74.58 168.83,71.3 168.88,67.92 168.92,64.45 168.97,60.95 169.01,57.45 169.06,53.98 169.1,50.6 169.14,47.32 169.19,44.2 169.23,41.26 169.28,38.53 169.32,36.05 169.37,33.85 169.41,31.94 169.46,30.35 169.5,29.09 169.55,28.18 169.59,27.63 169.63,27.45 169.68,27.63 169.72,28.18 169.77,29.09 169.81,30.35 169.86,31.94 169.9,33.85 169.95,36.05 169.99,38.53 170.04,41.26 170.08,44.2 170.12,47.32 170.17,50.6 170.21,53.98 170.26,57.45 170.3,60.95 170.35,64.45 170.39,67.92 170.44,71.3 170.48,74.58 170.53,77.7 170.57,80.64 170.61,83.37 170.66,85.85 170.7,88.05 170.75,89.96 170.79,91.55 170.84,92.81 170.88,93.72 170.93,94.27 170.97,94.45 171.02,94.27 171.06,93.72 171.1,92.81 171.15,91.55 171.19,89.96 171.24,88.05 171.28,85.85 171.33,83.37 171.37,80.64 171.42,77.7 171.46,74.58 171.51,71.3 171.55,67.92 171.59,64.45 171.64,60.95 171.68,57.45 171.73,53.98 171.77,50.6 171.82,47.32 171.86,44.2 171.91,41.26 171.95,38.53 172,36.05 172.04,33.85 172.08,31.94 172.13,30.35 172.17,29.09 172.22,28.18 172.26,27.63 172.31,27.45 172.35,27.63 172.4,28.18 172.44,29.09 172.49,30.35 172.53,31.94 172.57,33.85 172.62,36.05 172.66,38.53 172.71,41.26 172.75,44.2 172.8,47.32 172.84,50.6 172.89,53.98 172.93,57.45 172.98,60.95 173.02,64.45 173.06,67.92 173.11,71.3 173.15,74.58 173.2,77.7 173.24,80.64 173.29,83.37 173.33,85.85 173.38,88.05 173.42,89.96 173.47,91.55 173.51,92.81 173.55,93.72 173.6,94.27 173.64,94.45 173.69,97.62 173.73,97.07 173.78,96.16 173.82,94.9 173.87,93.31 173.91,91.4 173.96,89.2 174,86.72 174.04,83.99 174.09,81.05 174.13,77.93 174.18,74.65 174.22,71.27 174.27,67.8 174.31,64.3 174.36,60.8 174.4,57.33 174.45,53.95 174.49,50.67 174.53,47.55 174.58,44.61 174.62,41.88 174.67,39.4 174.71,37.2 174.76,35.29 174.8,33.7 174.85,32.44 174.89,31.53 174.94,30.98 174.98,30.8 175.02,30.98 175.07,31.53 175.11,32.44 175.16,33.7 175.2,35.29 175.25,37.2 175.29,39.4 175.34,41.88 175.38,44.61 175.43,47.55 175.47,50.67 175.51,53.95 175.56,57.33 175.6,60.8 175.65,64.3 175.69,67.8 175.74,71.27 175.78,74.65 175.83,77.93 175.87,81.05 175.92,83.99 175.96,86.72 176,89.2 176.05,91.4 176.09,93.31 176.14,94.9 176.18,96.16 176.23,97.07 176.27,97.62 176.32,97.8 176.36,97.62 176.41,97.07 176.45,96.16 176.49,94.9 176.54,93.31 176.58,91.4 176.63,89.2 176.67,86.72 176.72,83.99 176.76,81.05 176.81,77.93 176.85,74.65 176.9,71.27 176.94,67.8 176.99,64.3 177.03,60.8 177.07,57.33 177.12,53.95 177.16,50.67 177.21,47.55 177.25,44.61 177.3,41.88 177.34,39.4 177.39,37.2 177.43,35.29 177.48,33.7 177.52,32.44 177.56,31.53 177.61,30.98 177.65,30.8 177.7,30.98 177.74,31.53 177.79,32.44 177.83,33.7 177.88,35.29 177.92,37.2 177.97,39.4 178.01,41.88 178.05,44.61 178.1,47.55 178.14,50.67 178.19,53.95 178.23,57.33 178.28,60.8 178.32,64.3 178.37,67.8 178.41,71.27 178.46,74.65 178.5,77.93 178.54,81.05 178.59,83.99 178.63,86.72 178.68,89.2 178.72,91.4 178.77,93.31 178.81,94.9 178.86,96.16 178.9,97.07 178.95,97.62 178.99,97.8 179.03,97.62 179.08,97.07 179.12,96.16 179.17,94.9 179.21,93.31 179.26,91.4 179.3,89.2 179.35,86.72 179.39,83.99 179.44,81.05 179.48,77.93 179.52,74.65 179.57,71.27 179.61,67.8 179.66,64.3 179.7,60.8 179.75,57.33 179.79,53.95 179.84,50.67 179.88,47.55 179.93,44.61 179.97,41.88 180.01,39.4 180.06,37.2 180.1,35.29 180.15,33.7 180.19,32.44 180.24,31.53 180.28,30.98 180.33,30.8 180.37,34.33 180.42,34.88 180.46,35.79 180.5,37.05 180.55,38.64 180.59,40.55 180.64,42.75 180.68,45.23 180.73,47.96 180.77,50.9 180.82,54.02 180.86,57.3 180.91,60.68 180.95,64.15 180.99,67.65 181.04,71.15 181.08,74.62 181.13,78 181.17,81.28 181.22,84.4 181.26,87.34 181.31,90.07 181.35,92.55 181.4,94.75 181.44,96.66 181.48,98.25 181.53,99.51 181.57,100.42 181.62,100.97 181.66,101.15 181.71,100.97 181.75,100.42 181.8,99.51 181.84,98.25 181.89,96.66 181.93,94.75 181.97,92.55 182.02,90.07 182.06,87.34 182.11,84.4 182.15,81.28 182.2,78 182.24,74.62 182.29,71.15 182.33,67.65 182.38,64.15 182.42,60.68 182.46,57.3 182.51,54.02 182.55,50.9 182.6,47.96 182.64,45.23 182.69,42.75 182.73,40.55 182.78,38.64 182.82,37.05 182.87,35.79 182.91,34.88 182.95,34.33 183,34.15 183.04,34.33 183.09,34.88 183.13,35.79 183.18,37.05 183.22,38.64 183.27,40.55 183.31,42.75 183.36,45.23 183.4,47.96 183.44,50.9 183.49,54.02 183.53,57.3 183.58,60.68 183.62,64.15 183.67,67.65 183.71,71.15 183.76,74.62 183.8,78 183.85,81.28 183.89,84.4 183.93,87.34 183.98,90.07 184.02,92.55 184.07,94.75 184.11,96.66 184.16,98.25 184.2,99.51 184.25,100.42 184.29,100.97 184.34,101.15 184.38,100.97 184.42,100.42 184.47,99.51 184.51,98.25 184.56,96.66 184.6,94.75 184.65,92.55 184.69,90.07 184.74,87.34 184.78,84.4 184.83,81.28 184.87,78 184.91,74.62 184.96,71.15 185,67.65 185.05,64.15 185.09,60.68 185.14,57.3 185.18,54.02 185.23,50.9 185.27,47.96 185.32,45.23 185.36,42.75 185.4,40.55 185.45,38.64 185.49,37.05 185.54,35.79 185.58,34.88 185.63,34.33 185.67,34.15 185.72,34.33 185.76,34.88 185.81,35.79 185.85,37.05 185.89,38.64 185.94,40.55 185.98,42.75 186.03,45.23 186.07,47.96 186.12,50.9 186.16,54.02 186.21,57.3 186.25,60.68 186.3,64.15 186.34,67.65 186.39,71.15 186.43,74.62 186.47,78 186.52,81.28 186.56,84.4 186.61,87.34 186.65,90.07 186.7,92.55 186.74,94.75 186.79,96.66 186.83,98.25 186.88,99.51 186.92,100.42 186.96,100.97 187.01,101.15 187.05,104.32 187.1,103.77 187.14,102.86 187.19,101.6 187.23,100.01 187.28,98.1 187.32,95.9 187.37,93.42 187.41,90.69 187.45,87.75 187.5,84.63 187.54,81.35 187.59,77.97 187.63,74.5 187.68,71 187.72,67.5 187.77,64.03 187.81,60.65 187.86,57.37 187.9,54.25 187.94,51.31 187.99,48.58 188.03,46.1 188.08,43.9 188.12,41.99 188.17,40.4 188.21,39.14 188.26,38.23 188.3,37.68 188.35,37.5 188.39,37.68 188.43,38.23 188.48,39.14 188.52,40.4 188.57,41.99 188.61,43.9 188.66,46.1 188.7,48.58 188.75,51.31 188.79,54.25 188.84,57.37 188.88,60.65 188.92,64.03 188.97,67.5 189.01,71 189.06,74.5 189.1,77.97 189.15,81.35 189.19,84.63 189.24,87.75 189.28,90.69 189.33,93.42 189.37,95.9 189.41,98.1 189.46,100.01 189.5,101.6 189.55,102.86 189.59,103.77 189.64,104.32 189.68,104.5 189.73,104.32 189.77,103.77 189.82,102.86 189.86,101.6 189.9,100.01 189.95,98.1 189.99,95.9 190.04,93.42 190.08,90.69 190.13,87.75 190.17,84.63 190.22,81.35 190.26,77.97 190.31,74.5 190.35,71 190.39,67.5 190.44,64.03 190.48,60.65 190.53,57.37 190.57,54.25 190.62,51.31 190.66,48.58 190.71,46.1 190.75,43.9 190.8,41.99 190.84,40.4 190.88,39.14 190.93,38.23 190.97,37.68 191.02,37.5 191.06,37.68 191.11,38.23 191.15,39.14 191.2,40.4 191.24,41.99 191.29,43.9 191.33,46.1 191.37,48.58 191.42,51.31 191.46,54.25 191.51,57.37 191.55,60.65 191.6,64.03 191.64,67.5 191.69,71 191.73,74.5 191.78,77.97 191.82,81.35 191.86,84.63 191.91,87.75 191.95,90.69 192,93.42 192.04,95.9 192.09,98.1 192.13,100.01 192.18,101.6 192.22,102.86 192.27,103.77 192.31,104.32 192.35,104.5 192.4,104.32 192.44,103.77 192.49,102.86 192.53,101.6 192.58,100.01 192.62,98.1 192.67,95.9 192.71,93.42 192.76,90.69 192.8,87.75 192.84,84.63 192.89,81.35 192.93,77.97 192.98,74.5 193.02,71 193.07,67.5 193.11,64.03 193.16,60.65 193.2,57.37 193.25,54.25 193.29,51.31 193.33,48.58 193.38,46.1 193.42,43.9 193.47,41.99 193.51,40.4 193.56,39.14 193.6,38.23 193.65,37.68 193.69,37.5 193.74,41.03 193.78,41.58 193.82,42.49 193.87,43.75 193.91,45.34 193.96,47.25 194,49.45 194.05,51.93 194.09,54.66 194.14,57.6 194.18,60.72 194.23,64 194.27,67.38 194.31,70.85 194.36,74.35 194.4,77.85 194.45,81.32 194.49,84.7 194.54,87.98 194.58,91.1 194.63,94.04 194.67,96.77 194.72,99.25 194.76,101.45 194.81,103.36 194.85,104.95 194.89,106.21 194.94,107.12 194.98,107.67 195.03,107.85 195.07,107.67 195.12,107.12 195.16,106.21 195.21,104.95 195.25,103.36 195.3,101.45 195.34,99.25 195.38,96.77 195.43,94.04 195.47,91.1 195.52,87.98 195.56,84.7 195.61,81.32 195.65,77.85 195.7,74.35 195.74,70.85 195.79,67.38 195.83,64 195.87,60.72 195.92,57.6 195.96,54.66 196.01,51.93 196.05,49.45 196.1,47.25 196.14,45.34 196.19,43.75 196.23,42.49 196.28,41.58 196.32,41.03 196.36,40.85 196.41,41.03 196.45,41.58 196.5,42.49 196.54,43.75 196.59,45.34 196.63,47.25 196.68,49.45 196.72,51.93 196.77,54.66 196.81,57.6 196.85,60.72 196.9,64 196.94,67.38 196.99,70.85 197.03,74.35 197.08,77.85 197.12,81.32 197.17,84.7 197.21,87.98 197.26,91.1 197.3,94.04 197.34,96.77 197.39,99.25 197.43,101.45 197.48,103.36 197.52,104.95 197.57,106.21 197.61,107.12 197.66,107.67 197.7,107.85 197.75,107.67 197.79,107.12 197.83,106.21 197.88,104.95 197.92,103.36 197.97,101.45 198.01,99.25 198.06,96.77 198.1,94.04 198.15,91.1 198.19,87.98 198.24,84.7 198.28,81.32 198.32,77.85 198.37,74.35 198.41,70.85 198.46,67.38 198.5,64 198.55,60.72 198.59,57.6 198.64,54.66 198.68,51.93 198.73,49.45 198.77,47.25 198.81,45.34 198.86,43.75 198.9,42.49 198.95,41.58 198.99,41.03 199.04,40.85 199.08,41.03 199.13,41.58 199.17,42.49 199.22,43.75 199.26,45.34 199.3,47.25 199.35,49.45 199.39,51.93 199.44,54.66 199.48,57.6 199.53,60.72 199.57,64 199.62,67.38 199.66,70.85 199.71,74.35 199.75,77.85 199.79,81.32 199.84,84.7 199.88,87.98 199.93,91.1 199.97,94.04 200.02,96.77 200.06,99.25 200.11,101.45 200.15,103.36 200.2,104.95 200.24,106.21 200.28,107.12 200.33,107.67 200.37,107.85 200.42,111.02 200.46,110.47 200.51,109.56 200.55,108.3 200.6,106.71 200.64,104.8 200.69,102.6 200.73,100.12 200.77,97.39 200.82,94.45 200.86,91.33 200.91,88.05 200.95,84.67 201,81.2 201.04,77.7 201.09,74.2 201.13,70.73 201.18,67.35 201.22,64.07 201.26,60.95 201.31,58.01 201.35,55.28 201.4,52.8 201.44,50.6 201.49,48.69 201.53,47.1 201.58,45.84 201.62,44.93 201.67,44.38 201.71,44.2 201.75,44.38 201.8,44.93 201.84,45.84 201.89,47.1 201.93,48.69 201.98,50.6 202.02,52.8 202.07,55.28 202.11,58.01 202.16,60.95 202.2,64.07 202.24,67.35 202.29,70.73 202.33,74.2 202.38,77.7 202.42,81.2 202.47,84.67 202.51,88.05 202.56,91.33 202.6,94.45 202.65,97.39 202.69,100.12 202.73,102.6 202.78,104.8 202.82,106.71 202.87,108.3 202.91,109.56 202.96,110.47 203,111.02 203.05,111.2 203.09,111.02 203.14,110.47 203.18,109.56 203.22,108.3 203.27,106.71 203.31,104.8 203.36,102.6 203.4,100.12 203.45,97.39 203.49,94.45 203.54,91.33 203.58,88.05 203.63,84.67 203.67,81.2 203.72,77.7 203.76,74.2 203.8,70.73 203.85,67.35 203.89,64.07 203.94,60.95 203.98,58.01 204.03,55.28 204.07,52.8 204.12,50.6 204.16,48.69 204.21,47.1 204.25,45.84 204.29,44.93 204.34,44.38 204.38,44.2 204.43,44.38 204.47,44.93 204.52,45.84 204.56,47.1 204.61,48.69 204.65,50.6 204.7,52.8 204.74,55.28 204.78,58.01 204.83,60.95 204.87,64.07 204.92,67.35 204.96,70.73 205.01,74.2 205.05,77.7 205.1,81.2 205.14,84.67 205.19,88.05 205.23,91.33 205.27,94.45 205.32,97.39 205.36,100.12 205.41,102.6 205.45,104.8 205.5,106.71 205.54,108.3 205.59,109.56 205.63,110.47 205.68,111.02 205.72,111.2 205.76,111.02 205.81,110.47 205.85,109.56 205.9,108.3 205.94,106.71 205.99,104.8 206.03,102.6 206.08,100.12 206.12,97.39 206.17,94.45 206.21,91.33 206.25,88.05 206.3,84.67 206.34,81.2 206.39,77.7 206.43,74.2 206.48,70.73 206.52,67.35 206.57,64.07 206.61,60.95 206.66,58.01 206.7,55.28 206.74,52.8 206.79,50.6 206.83,48.69 206.88,47.1 206.92,45.84 206.97,44.93 207.01,44.38 207.06,44.2 207.1,47.73 207.15,48.28 207.19,49.19 207.23,50.45 207.28,52.04 207.32,53.95 207.37,56.15 207.41,58.63 207.46,61.36 207.5,64.3 207.55,67.42 207.59,70.7 207.64,74.08 207.68,77.55 207.72,81.05 207.77,84.55 207.81,88.02 207.86,91.4 207.9,94.68 207.95,97.8 207.99,100.74 208.04,103.47 208.08,105.95 208.13,108.15 208.17,110.06 208.21,111.65 208.26,112.91 208.3,113.82 208.35,114.37 208.39,114.55 208.44,114.37 208.48,113.82 208.53,112.91 208.57,111.65 208.62,110.06 208.66,108.15 208.7,105.95 208.75,103.47 208.79,100.74 208.84,97.8 208.88,94.68 208.93,91.4 208.97,88.02 209.02,84.55 209.06,81.05 209.11,77.55 209.15,74.08 209.19,70.7 209.24,67.42 209.28,64.3 209.33,61.36 209.37,58.63 209.42,56.15 209.46,53.95 209.51,52.04 209.55,50.45 209.6,49.19 209.64,48.28 209.68,47.73 209.73,47.55 209.77,47.73 209.82,48.28 209.86,49.19 209.91,50.45 209.95,52.04 210,53.95 210.04,56.15 210.09,58.63 210.13,61.36 210.17,64.3 210.22,67.42 210.26,70.7 210.31,74.08 210.35,77.55 210.4,81.05 210.44,84.55 210.49,88.02 210.53,91.4 210.58,94.68 210.62,97.8 210.66,100.74 210.71,103.47 210.75,105.95 210.8,108.15 210.84,110.06 210.89,111.65 210.93,112.91 210.98,113.82 211.02,114.37 211.07,114.55 211.11,114.37 211.15,113.82 211.2,112.91 211.24,111.65 211.29,110.06 211.33,108.15 211.38,105.95 211.42,103.47 211.47,100.74 211.51,97.8 211.56,94.68 211.6,91.4 211.64,88.02 211.69,84.55 211.73,81.05 211.78,77.55 211.82,74.08 211.87,70.7 211.91,67.42 211.96,64.3 212,61.36 212.05,58.63 212.09,56.15 212.13,53.95 212.18,52.04 212.22,50.45 212.27,49.19 212.31,48.28 212.36,47.73 212.4,47.55 212.45,47.73 212.49,48.28 212.54,49.19 212.58,50.45 212.62,52.04 212.67,53.95 212.71,56.15 212.76,58.63 212.8,61.36 212.85,64.3 212.89,67.42 212.94,70.7 212.98,74.08 213.03,77.55 213.07,81.05 213.12,84.55 213.16,88.02 213.2,91.4 213.25,94.68 213.29,97.8 213.34,100.74 213.38,103.47 213.43,105.95 213.47,108.15 213.52,110.06 213.56,111.65 213.61,112.91 213.65,113.82 213.69,114.37 213.74,114.55 213.78,117.72 213.83,117.17 213.87,116.26 213.92,115 213.96,113.41 214.01,111.5 214.05,109.3 214.1,106.82 214.14,104.09 214.18,101.15 214.23,98.03 214.27,94.75 214.32,91.37 214.36,87.9 214.41,84.4 214.45,80.9 214.5,77.43 214.54,74.05 214.59,70.77 214.63,67.65 214.67,64.71 214.72,61.98 214.76,59.5 214.81,57.3 214.85,55.39 214.9,53.8 214.94,52.54 214.99,51.63 215.03,51.08 215.08,50.9 215.12,51.08 215.16,51.63 215.21,52.54 215.25,53.8 215.3,55.39 215.34,57.3 215.39,59.5 215.43,61.98 215.48,64.71 215.52,67.65 215.57,70.77 215.61,74.05 215.65,77.43 215.7,80.9 215.74,84.4 215.79,87.9 215.83,91.37 215.88,94.75 215.92,98.03 215.97,101.15 216.01,104.09 216.06,106.82 216.1,109.3 216.14,111.5 216.19,113.41 216.23,115 216.28,116.26 216.32,117.17 216.37,117.72 216.41,117.9 216.46,117.72 216.5,117.17 216.55,116.26 216.59,115 216.63,113.41 216.68,111.5 216.72,109.3 216.77,106.82 216.81,104.09 216.86,101.15 216.9,98.03 216.95,94.75 216.99,91.37 217.04,87.9 217.08,84.4 217.12,80.9 217.17,77.43 217.21,74.05 217.26,70.77 217.3,67.65 217.35,64.71 217.39,61.98 217.44,59.5 217.48,57.3 217.53,55.39 217.57,53.8 217.61,52.54 217.66,51.63 217.7,51.08 217.75,50.9 217.79,51.08 217.84,51.63 217.88,52.54 217.93,53.8 217.97,55.39 218.02,57.3 218.06,59.5 218.1,61.98 218.15,64.71 218.19,67.65 218.24,70.77 218.28,74.05 218.33,77.43 218.37,80.9 218.42,84.4 218.46,87.9 218.51,91.37 218.55,94.75 218.59,98.03 218.64,101.15 218.68,104.09 218.73,106.82 218.77,109.3 218.82,111.5 218.86,113.41 218.91,115 218.95,116.26 219,117.17 219.04,117.72 219.08,117.9 219.13,117.72 219.17,117.17 219.22,116.26 219.26,115 219.31,113.41 219.35,111.5 219.4,109.3 219.44,106.82 219.49,104.09 219.53,101.15 219.57,98.03 219.62,94.75 219.66,91.37 219.71,87.9 219.75,84.4 219.8,80.9 219.84,77.43 219.89,74.05 219.93,70.77 219.98,67.65 220.02,64.71 220.06,61.98 220.11,59.5 220.15,57.3 220.2,55.39 220.24,53.8 220.29,52.54 220.33,51.63 220.38,51.08 220.42,50.9 220.47,54.43 220.51,54.98 220.55,55.89 220.6,57.15 220.64,58.74 220.69,60.65 220.73,62.85 220.78,65.33 220.82,68.06 220.87,71 220.91,74.12 220.96,77.4 221,80.78 221.04,84.25 221.09,87.75 221.13,91.25 221.18,94.72 221.22,98.1 221.27,101.38 221.31,104.5 221.36,107.44 221.4,110.17 221.45,112.65 221.49,114.85 221.54,116.76 221.58,118.35 221.62,119.61 221.67,120.52 221.71,121.07 221.76,121.25 221.8,121.07 221.85,120.52 221.89,119.61 221.94,118.35 221.98,116.76 222.03,114.85 222.07,112.65 222.11,110.17 222.16,107.44 222.2,104.5 222.25,101.38 222.29,98.1 222.34,94.72 222.38,91.25 222.43,87.75 222.47,84.25 222.52,80.78 222.56,77.4 222.6,74.12 222.65,71 222.69,68.06 222.74,65.33 222.78,62.85 222.83,60.65 222.87,58.74 222.92,57.15 222.96,55.89 223.01,54.98 223.05,54.43 223.09,54.25 223.14,54.43 223.18,54.98 223.23,55.89 223.27,57.15 223.32,58.74 223.36,60.65 223.41,62.85 223.45,65.33 223.5,68.06 223.54,71 223.58,74.12 223.63,77.4 223.67,80.78 223.72,84.25 223.76,87.75 223.81,91.25 223.85,94.72 223.9,98.1 223.94,101.38 223.99,104.5 224.03,107.44 224.07,110.17 224.12,112.65 224.16,114.85 224.21,116.76 224.25,118.35 224.3,119.61 224.34,120.52 224.39,121.07 224.43,121.25 224.48,121.07 224.52,120.52 224.56,119.61 224.61,118.35 224.65,116.76 224.7,114.85 224.74,112.65 224.79,110.17 224.83,107.44 224.88,104.5 224.92,101.38 224.97,98.1 225.01,94.72 225.05,91.25 225.1,87.75 225.14,84.25 225.19,80.78 225.23,77.4 225.28,74.12 225.32,71 225.37,68.06 225.41,65.33 225.46,62.85 225.5,60.65 225.54,58.74 225.59,57.15 225.63,55.89 225.68,54.98 225.72,54.43 225.77,54.25 225.81,54.43 225.86,54.98 225.9,55.89 225.95,57.15 225.99,58.74 226.03,60.65 226.08,62.85 226.12,65.33 226.17,68.06 226.21,71 226.26,74.12 226.3,77.4 226.35,80.78 226.39,84.25 226.44,87.75 226.48,91.25 226.52,94.72 226.57,98.1 226.61,101.38 226.66,104.5 226.7,107.44 226.75,110.17 226.79,112.65 226.84,114.85 226.88,116.76 226.93,118.35 226.97,119.61 227.01,120.52 227.06,121.07 227.1,121.25 227.15,124.42 227.19,123.87 227.24,122.96 227.28,121.7 227.33,120.11 227.37,118.2 227.42,116 227.46,113.52 227.5,110.79 227.55,107.85 227.59,104.73 227.64,101.45 227.68,98.07 227.73,94.6 227.77,91.1 227.82,87.6 227.86,84.13 227.91,80.75 227.95,77.47 227.99,74.35 228.04,71.41 228.08,68.68 228.13,66.2 228.17,64 228.22,62.09 228.26,60.5 228.31,59.24 228.35,58.33 228.4,57.78 228.44,57.6 228.48,57.78 228.53,58.33 228.57,59.24 228.62,60.5 228.66,62.09 228.71,64 228.75,66.2 228.8,68.68 228.84,71.41 228.89,74.35 228.93,77.47 228.97,80.75 229.02,84.13 229.06,87.6 229.11,91.1 229.15,94.6 229.2,98.07 229.24,101.45 229.29,104.73 229.33,107.85 229.38,110.79 229.42,113.52 229.46,116 229.51,118.2 229.55,120.11 229.6,121.7 229.64,122.96 229.69,123.87 229.73,124.42 229.78,124.6 229.82,124.42 229.87,123.87 229.91,122.96 229.95,121.7 230,120.11 230.04,118.2 230.09,116 230.13,113.52 230.18,110.79 230.22,107.85 230.27,104.73 230.31,101.45 230.36,98.07 230.4,94.6 230.44,91.1 230.49,87.6 230.53,84.13 230.58,80.75 230.62,77.47 230.67,74.35 230.71,71.41 230.76,68.68 230.8,66.2 230.85,64 230.89,62.09 230.94,60.5 230.98,59.24 231.02,58.33 231.07,57.78 231.11,57.6 231.16,57.78 231.2,58.33 231.25,59.24 231.29,60.5 231.34,62.09 231.38,64 231.43,66.2 231.47,68.68 231.51,71.41 231.56,74.35 231.6,77.47 231.65,80.75 231.69,84.13 231.74,87.6 231.78,91.1 231.83,94.6 231.87,98.07 231.92,101.45 231.96,104.73 232,107.85 232.05,110.79 232.09,113.52 232.14,116 232.18,118.2 232.23,120.11 232.27,121.7 232.32,122.96 232.36,123.87 232.41,124.42 232.45,124.6 232.49,124.42 232.54,123.87 232.58,122.96 232.63,121.7 232.67,120.11 232.72,118.2 232.76,116 232.81,113.52 232.85,110.79 232.9,107.85 232.94,104.73 232.98,101.45 233.03,98.07 233.07,94.6 233.12,91.1 233.16,87.6 233.21,84.13 233.25,80.75 233.3,77.47 233.34,74.35 233.39,71.41 233.43,68.68 233.47,66.2 233.52,64 233.56,62.09 233.61,60.5 233.65,59.24 233.7,58.33 233.74,57.78 233.79,57.6 233.83,61.13 233.88,61.68 233.92,62.59 233.96,63.85 234.01,65.44 234.05,67.35 234.1,69.55 234.14,72.03 234.19,74.76 234.23,77.7 234.28,80.82 234.32,84.1 234.37,87.48 234.41,90.95 234.45,94.45 234.5,97.95 234.54,101.42 234.59,104.8 234.63,108.08 234.68,111.2 234.72,114.14 234.77,116.87 234.81,119.35 234.86,121.55 234.9,123.46 234.94,125.05 234.99,126.31 235.03,127.22 235.08,127.77 235.12,127.95 235.17,127.77 235.21,127.22 235.26,126.31 235.3,125.05 235.35,123.46 235.39,121.55 235.43,119.35 235.48,116.87 235.52,114.14 235.57,111.2 235.61,108.08 235.66,104.8 235.7,101.42 235.75,97.95 235.79,94.45 235.84,90.95 235.88,87.48 235.92,84.1 235.97,80.82 236.01,77.7 236.06,74.76 236.1,72.03 236.15,69.55 236.19,67.35 236.24,65.44 236.28,63.85 236.33,62.59 236.37,61.68 236.41,61.13 236.46,60.95 236.5,61.13 236.55,61.68 236.59,62.59 236.64,63.85 236.68,65.44 236.73,67.35 236.77,69.55 236.82,72.03 236.86,74.76 236.9,77.7 236.95,80.82 236.99,84.1 237.04,87.48 237.08,90.95 237.13,94.45 237.17,97.95 237.22,101.42 237.26,104.8 237.31,108.08 237.35,111.2 237.39,114.14 237.44,116.87 237.48,119.35 237.53,121.55 237.57,123.46 237.62,125.05 237.66,126.31 237.71,127.22 237.75,127.77 237.8,127.95 237.84,127.77 237.88,127.22 237.93,126.31 237.97,125.05 238.02,123.46 238.06,121.55 238.11,119.35 238.15,116.87 238.2,114.14 238.24,111.2 238.29,108.08 238.33,104.8 238.37,101.42 238.42,97.95 238.46,94.45 238.51,90.95 238.55,87.48 238.6,84.1 238.64,80.82 238.69,77.7 238.73,74.76 238.78,72.03 238.82,69.55 238.86,67.35 238.91,65.44 238.95,63.85 239,62.59 239.04,61.68 239.09,61.13 239.13,60.95 239.18,61.13 239.22,61.68 239.27,62.59 239.31,63.85 239.36,65.44 239.4,67.35 239.44,69.55 239.49,72.03 239.53,74.76 239.58,77.7 239.62,80.82 239.67,84.1 239.71,87.48 239.76,90.95 239.8,94.45 239.85,97.95 239.89,101.42 239.93,104.8 239.98,108.08 240.02,111.2 240.07,114.14 240.11,116.87 240.16,119.35 240.2,121.55 240.25,123.46 240.29,125.05 240.34,126.31 240.38,127.22 240.42,127.77 240.47,127.95 240.51,131.12 240.56,130.57 240.6,129.66 240.65,128.4 240.69,126.81 240.74,124.9 240.78,122.7 240.83,120.22 240.87,117.49 240.91,114.55 240.96,111.43 241,108.15 241.05,104.77 241.09,101.3 241.14,97.8 241.18,94.3 241.23,90.83 241.27,87.45 241.32,84.17 241.36,81.05 241.4,78.11 241.45,75.38 241.49,72.9 241.54,70.7 241.58,68.79 241.63,67.2 241.67,65.94 241.72,65.03 241.76,64.48 241.81,64.3 241.85,64.48 241.89,65.03 241.94,65.94 241.98,67.2 242.03,68.79 242.07,70.7 242.12,72.9 242.16,75.38 242.21,78.11 242.25,81.05 242.3,84.17 242.34,87.45 242.38,90.83 242.43,94.3 242.47,97.8 242.52,101.3 242.56,104.77 242.61,108.15 242.65,111.43 242.7,114.55 242.74,117.49 242.79,120.22 242.83,122.7 242.87,124.9 242.92,126.81 242.96,128.4 243.01,129.66 243.05,130.57 243.1,131.12 243.14,131.3 243.19,131.12 243.23,130.57 243.28,129.66 243.32,128.4 243.36,126.81 243.41,124.9 243.45,122.7 243.5,120.22 243.54,117.49 243.59,114.55 243.63,111.43 243.68,108.15 243.72,104.77 243.77,101.3 243.81,97.8 243.85,94.3 243.9,90.83 243.94,87.45 243.99,84.17 244.03,81.05 244.08,78.11 244.12,75.38 244.17,72.9 244.21,70.7 244.26,68.79 244.3,67.2 244.34,65.94 244.39,65.03 244.43,64.48 244.48,64.3 244.52,64.48 244.57,65.03 244.61,65.94 244.66,67.2 244.7,68.79 244.75,70.7 244.79,72.9 244.83,75.38 244.88,78.11 244.92,81.05 244.97,84.17 245.01,87.45 245.06,90.83 245.1,94.3 245.15,97.8 245.19,101.3 245.24,104.77 245.28,108.15 245.32,111.43 245.37,114.55 245.41,117.49 245.46,120.22 245.5,122.7 245.55,124.9 245.59,126.81 245.64,128.4 245.68,129.66 245.73,130.57 245.77,131.12 245.81,131.3 245.86,131.12 245.9,130.57 245.95,129.66 245.99,128.4 246.04,126.81 246.08,124.9 246.13,122.7 246.17,120.22 246.22,117.49 246.26,114.55 246.3,111.43 246.35,108.15 246.39,104.77 246.44,101.3 246.48,97.8 246.53,94.3 246.57,90.83 246.62,87.45 246.66,84.17 246.71,81.05 246.75,78.11 246.79,75.38 246.84,72.9 246.88,70.7 246.93,68.79 246.97,67.2 247.02,65.94 247.06,65.03 247.11,64.48 247.15,64.3 247.2,67.83 247.24,68.38 247.28,69.29 247.33,70.55 247.37,72.14 247.42,74.05 247.46,76.25 247.51,78.73 247.55,81.46 247.6,84.4 247.64,87.52 247.69,90.8 247.73,94.18 247.77,97.65 247.82,101.15 247.86,104.65 247.91,108.12 247.95,111.5 248,114.78 248.04,117.9 248.09,120.84 248.13,123.57 248.18,126.05 248.22,128.25 248.26,130.16 248.31,131.75 248.35,133.01 248.4,133.92 248.44,134.47 248.49,134.65 248.53,134.47 248.58,133.92 248.62,133.01 248.67,131.75 248.71,130.16 248.76,128.25 248.8,126.05 248.84,123.57 248.89,120.84 248.93,117.9 248.98,114.78 249.02,111.5 249.07,108.12 249.11,104.65 249.16,101.15 249.2,97.65 249.25,94.18 249.29,90.8 249.33,87.52 249.38,84.4 249.42,81.46 249.47,78.73 249.51,76.25 249.56,74.05 249.6,72.14 249.65,70.55 249.69,69.29 249.74,68.38 249.78,67.83 249.82,67.65 249.87,67.83 249.91,68.38 249.96,69.29 250,70.55 250.05,72.14 250.09,74.05 250.14,76.25 250.18,78.73 250.23,81.46 250.27,84.4 250.31,87.52 250.36,90.8 250.4,94.18 250.45,97.65 250.49,101.15 250.54,104.65 250.58,108.12 250.63,111.5 250.67,114.78 250.72,117.9 250.76,120.84 250.8,123.57 250.85,126.05 250.89,128.25 250.94,130.16 250.98,131.75 251.03,133.01 251.07,133.92 251.12,134.47 251.16,134.65 251.21,134.47 251.25,133.92 251.29,133.01 251.34,131.75 251.38,130.16 251.43,128.25 251.47,126.05 251.52,123.57 251.56,120.84 251.61,117.9 251.65,114.78 251.7,111.5 251.74,108.12 251.78,104.65 251.83,101.15 251.87,97.65 251.92,94.18 251.96,90.8 252.01,87.52 252.05,84.4 252.1,81.46 252.14,78.73 252.19,76.25 252.23,74.05 252.27,72.14 252.32,70.55 252.36,69.29 252.41,68.38 252.45,67.83 252.5,67.65 252.54,67.83 252.59,68.38 252.63,69.29 252.68,70.55 252.72,72.14 252.76,74.05 252.81,76.25 252.85,78.73 252.9,81.46 252.94,84.4 252.99,87.52 253.03,90.8 253.08,94.18 253.12,97.65 253.17,101.15 253.21,104.65 253.25,108.12 253.3,111.5 253.34,114.78 253.39,117.9 253.43,120.84 253.48,123.57 253.52,126.05 253.57,128.25 253.61,130.16 253.66,131.75 253.7,133.01 253.74,133.92 253.79,134.47 253.83,134.65 253.88,137.82 253.92,137.27 253.97,136.36 254.01,135.1 254.06,133.51 254.1,131.6 254.15,129.4 254.19,126.92 254.23,124.19 254.28,121.25 254.32,118.13 254.37,114.85 254.41,111.47 254.46,108 254.5,104.5 254.55,101 254.59,97.53 254.64,94.15 254.68,90.87 254.72,87.75 254.77,84.81 254.81,82.08 254.86,79.6 254.9,77.4 254.95,75.49 254.99,73.9 255.04,72.64 255.08,71.73 255.13,71.18 255.17,71 255.21,71.18 255.26,71.73 255.3,72.64 255.35,73.9 255.39,75.49 255.44,77.4 255.48,79.6 255.53,82.08 255.57,84.81 255.62,87.75 255.66,90.87 255.7,94.15 255.75,97.53 255.79,101 255.84,104.5 255.88,108 255.93,111.47 255.97,114.85 256.02,118.13 256.06,121.25 256.11,124.19 256.15,126.92 256.19,129.4 256.24,131.6 256.28,133.51 256.33,135.1 256.37,136.36 256.42,137.27 256.46,137.82 256.51,138 256.55,137.82 256.6,137.27 256.64,136.36 256.68,135.1 256.73,133.51 256.77,131.6 256.82,129.4 256.86,126.92 256.91,124.19 256.95,121.25 257,118.13 257.04,114.85 257.09,111.47 257.13,108 257.18,104.5 257.22,101 257.26,97.53 257.31,94.15 257.35,90.87 257.4,87.75 257.44,84.81 257.49,82.08 257.53,79.6 257.58,77.4 257.62,75.49 257.67,73.9 257.71,72.64 257.75,71.73 257.8,71.18 257.84,71 257.89,71.18 257.93,71.73 257.98,72.64 258.02,73.9 258.07,75.49 258.11,77.4 258.16,79.6 258.2,82.08 258.24,84.81 258.29,87.75 258.33,90.87 258.38,94.15 258.42,97.53 258.47,101 258.51,104.5 258.56,108 258.6,111.47 258.65,114.85 258.69,118.13 258.73,121.25 258.78,124.19 258.82,126.92 258.87,129.4 258.91,131.6 258.96,133.51 259,135.1 259.05,136.36 259.09,137.27 259.14,137.82 259.18,138 259.22,137.82 259.27,137.27 259.31,136.36 259.36,135.1 259.4,133.51 259.45,131.6 259.49,129.4 259.54,126.92 259.58,124.19 259.63,121.25 259.67,118.13 259.71,114.85 259.76,111.47 259.8,108 259.85,104.5 259.89,101 259.94,97.53 259.98,94.15 260.03,90.87 260.07,87.75 260.12,84.81 260.16,82.08 260.2,79.6 260.25,77.4 260.29,75.49 260.34,73.9 260.38,72.64 260.43,71.73 260.47,71.18 260.52,67.65 260.56,67.83 260.61,68.38 260.65,69.29 260.69,70.55 260.74,72.14 260.78,74.05 260.83,76.25 260.87,78.73 260.92,81.46 260.96,84.4 261.01,87.52 261.05,90.8 261.1,94.18 261.14,97.65 261.18,101.15 261.23,104.65 261.27,108.12 261.32,111.5 261.36,114.78 261.41,117.9 261.45,120.84 261.5,123.57 261.54,126.05 261.59,128.25 261.63,130.16 261.67,131.75 261.72,133.01 261.76,133.92 261.81,134.47 261.85,134.65 261.9,134.47 261.94,133.92 261.99,133.01 262.03,131.75 262.08,130.16 262.12,128.25 262.16,126.05 262.21,123.57 262.25,120.84 262.3,117.9 262.34,114.78 262.39,111.5 262.43,108.12 262.48,104.65 262.52,101.15 262.57,97.65 262.61,94.18 262.65,90.8 262.7,87.52 262.74,84.4 262.79,81.46 262.83,78.73 262.88,76.25 262.92,74.05 262.97,72.14 263.01,70.55 263.06,69.29 263.1,68.38 263.14,67.83 263.19,67.65 263.23,67.83 263.28,68.38 263.32,69.29 263.37,70.55 263.41,72.14 263.46,74.05 263.5,76.25 263.55,78.73 263.59,81.46 263.63,84.4 263.68,87.52 263.72,90.8 263.77,94.18 263.81,97.65 263.86,101.15 263.9,104.65 263.95,108.12 263.99,111.5 264.04,114.78 264.08,117.9 264.12,120.84 264.17,123.57 264.21,126.05 264.26,128.25 264.3,130.16 264.35,131.75 264.39,133.01 264.44,133.92 264.48,134.47 264.53,134.65 264.57,134.47 264.61,133.92 264.66,133.01 264.7,131.75 264.75,130.16 264.79,128.25 264.84,126.05 264.88,123.57 264.93,120.84 264.97,117.9 265.02,114.78 265.06,111.5 265.1,108.12 265.15,104.65 265.19,101.15 265.24,97.65 265.28,94.18 265.33,90.8 265.37,87.52 265.42,84.4 265.46,81.46 265.51,78.73 265.55,76.25 265.59,74.05 265.64,72.14 265.68,70.55 265.73,69.29 265.77,68.38 265.82,67.83 265.86,67.65 265.91,67.83 265.95,68.38 266,69.29 266.04,70.55 266.09,72.14 266.13,74.05 266.17,76.25 266.22,78.73 266.26,81.46 266.31,84.4 266.35,87.52 266.4,90.8 266.44,94.18 266.49,97.65 266.53,101.15 266.58,104.65 266.62,108.12 266.66,111.5 266.71,114.78 266.75,117.9 266.8,120.84 266.84,123.57 266.89,126.05 266.93,128.25 266.98,130.16 267.02,131.75 267.07,133.01 267.11,133.92 267.15,134.47 267.2,131.3 267.24,131.12 267.29,130.57 267.33,129.66 267.38,128.4 267.42,126.81 267.47,124.9 267.51,122.7 267.56,120.22 267.6,117.49 267.64,114.55 267.69,111.43 267.73,108.15 267.78,104.77 267.82,101.3 267.87,97.8 267.91,94.3 267.96,90.83 268,87.45 268.05,84.17 268.09,81.05 268.13,78.11 268.18,75.38 268.22,72.9 268.27,70.7 268.31,68.79 268.36,67.2 268.4,65.94 268.45,65.03 268.49,64.48 268.54,64.3 268.58,64.48 268.62,65.03 268.67,65.94 268.71,67.2 268.76,68.79 268.8,70.7 268.85,72.9 268.89,75.38 268.94,78.11 268.98,81.05 269.03,84.17 269.07,87.45 269.11,90.83 269.16,94.3 269.2,97.8 269.25,101.3 269.29,104.77 269.34,108.15 269.38,111.43 269.43,114.55 269.47,117.49 269.52,120.22 269.56,122.7 269.6,124.9 269.65,126.81 269.69,128.4 269.74,129.66 269.78,130.57 269.83,131.12 269.87,131.3 269.92,131.12 269.96,130.57 270.01,129.66 270.05,128.4 270.09,126.81 270.14,124.9 270.18,122.7 270.23,120.22 270.27,117.49 270.32,114.55 270.36,111.43 270.41,108.15 270.45,104.77 270.5,101.3 270.54,97.8 270.58,94.3 270.63,90.83 270.67,87.45 270.72,84.17 270.76,81.05 270.81,78.11 270.85,75.38 270.9,72.9 270.94,70.7 270.99,68.79 271.03,67.2 271.07,65.94 271.12,65.03 271.16,64.48 271.21,64.3 271.25,64.48 271.3,65.03 271.34,65.94 271.39,67.2 271.43,68.79 271.48,70.7 271.52,72.9 271.56,75.38 271.61,78.11 271.65,81.05 271.7,84.17 271.74,87.45 271.79,90.83 271.83,94.3 271.88,97.8 271.92,101.3 271.97,104.77 272.01,108.15 272.05,111.43 272.1,114.55 272.14,117.49 272.19,120.22 272.23,122.7 272.28,124.9 272.32,126.81 272.37,128.4 272.41,129.66 272.46,130.57 272.5,131.12 272.54,131.3 272.59,131.12 272.63,130.57 272.68,129.66 272.72,128.4 272.77,126.81 272.81,124.9 272.86,122.7 272.9,120.22 272.95,117.49 272.99,114.55 273.03,111.43 273.08,108.15 273.12,104.77 273.17,101.3 273.21,97.8 273.26,94.3 273.3,90.83 273.35,87.45 273.39,84.17 273.44,81.05 273.48,78.11 273.52,75.38 273.57,72.9 273.61,70.7 273.66,68.79 273.7,67.2 273.75,65.94 273.79,65.03 273.84,64.48 273.88,60.95 273.93,61.13 273.97,61.68 274.01,62.59 274.06,63.85 274.1,65.44 274.15,67.35 274.19,69.55 274.24,72.03 274.28,74.76 274.33,77.7 274.37,80.82 274.42,84.1 274.46,87.48 274.5,90.95 274.55,94.45 274.59,97.95 274.64,101.42 274.68,104.8 274.73,108.08 274.77,111.2 274.82,114.14 274.86,116.87 274.91,119.35 274.95,121.55 275,123.46 275.04,125.05 275.08,126.31 275.13,127.22 275.17,127.77 275.22,127.95 275.26,127.77 275.31,127.22 275.35,126.31 275.4,125.05 275.44,123.46 275.49,121.55 275.53,119.35 275.57,116.87 275.62,114.14 275.66,111.2 275.71,108.08 275.75,104.8 275.8,101.42 275.84,97.95 275.89,94.45 275.93,90.95 275.98,87.48 276.02,84.1 276.06,80.82 276.11,77.7 276.15,74.76 276.2,72.03 276.24,69.55 276.29,67.35 276.33,65.44 276.38,63.85 276.42,62.59 276.47,61.68 276.51,61.13 276.55,60.95 276.6,61.13 276.64,61.68 276.69,62.59 276.73,63.85 276.78,65.44 276.82,67.35 276.87,69.55 276.91,72.03 276.96,74.76 277,77.7 277.04,80.82 277.09,84.1 277.13,87.48 277.18,90.95 277.22,94.45 277.27,97.95 277.31,101.42 277.36,104.8 277.4,108.08 277.45,111.2 277.49,114.14 277.53,116.87 277.58,119.35 277.62,121.55 277.67,123.46 277.71,125.05 277.76,126.31 277.8,127.22 277.85,127.77 277.89,127.95 277.94,127.77 277.98,127.22 278.02,126.31 278.07,125.05 278.11,123.46 278.16,121.55 278.2,119.35 278.25,116.87 278.29,114.14 278.34,111.2 278.38,108.08 278.43,104.8 278.47,101.42 278.51,97.95 278.56,94.45 278.6,90.95 278.65,87.48 278.69,84.1 278.74,80.82 278.78,77.7 278.83,74.76 278.87,72.03 278.92,69.55 278.96,67.35 279,65.44 279.05,63.85 279.09,62.59 279.14,61.68 279.18,61.13 279.23,60.95 279.27,61.13 279.32,61.68 279.36,62.59 279.41,63.85 279.45,65.44 279.49,67.35 279.54,69.55 279.58,72.03 279.63,74.76 279.67,77.7 279.72,80.82 279.76,84.1 279.81,87.48 279.85,90.95 279.9,94.45 279.94,97.95 279.98,101.42 280.03,104.8 280.07,108.08 280.12,111.2 280.16,114.14 280.21,116.87 280.25,119.35 280.3,121.55 280.34,123.46 280.39,125.05 280.43,126.31 280.47,127.22 280.52,127.77 280.56,124.6 280.61,124.42 280.65,123.87 280.7,122.96 280.74,121.7 280.79,120.11 280.83,118.2 280.88,116 280.92,113.52 280.96,110.79 281.01,107.85 281.05,104.73 281.1,101.45 281.14,98.07 281.19,94.6 281.23,91.1 281.28,87.6 281.32,84.13 281.37,80.75 281.41,77.47 281.45,74.35 281.5,71.41 281.54,68.68 281.59,66.2 281.63,64 281.68,62.09 281.72,60.5 281.77,59.24 281.81,58.33 281.86,57.78 281.9,57.6 281.94,57.78 281.99,58.33 282.03,59.24 282.08,60.5 282.12,62.09 282.17,64 282.21,66.2 282.26,68.68 282.3,71.41 282.35,74.35 282.39,77.47 282.43,80.75 282.48,84.13 282.52,87.6 282.57,91.1 282.61,94.6 282.66,98.07 282.7,101.45 282.75,104.73 282.79,107.85 282.84,110.79 282.88,113.52 282.92,116 282.97,118.2 283.01,120.11 283.06,121.7 283.1,122.96 283.15,123.87 283.19,124.42 283.24,124.6 283.28,124.42 283.33,123.87 283.37,122.96 283.41,121.7 283.46,120.11 283.5,118.2 283.55,116 283.59,113.52 283.64,110.79 283.68,107.85 283.73,104.73 283.77,101.45 283.82,98.07 283.86,94.6 283.91,91.1 283.95,87.6 283.99,84.13 284.04,80.75 284.08,77.47 284.13,74.35 284.17,71.41 284.22,68.68 284.26,66.2 284.31,64 284.35,62.09 284.4,60.5 284.44,59.24 284.48,58.33 284.53,57.78 284.57,57.6 284.62,57.78 284.66,58.33 284.71,59.24 284.75,60.5 284.8,62.09 284.84,64 284.89,66.2 284.93,68.68 284.97,71.41 285.02,74.35 285.06,77.47 285.11,80.75 285.15,84.13 285.2,87.6 285.24,91.1 285.29,94.6 285.33,98.07 285.38,101.45 285.42,104.73 285.46,107.85 285.51,110.79 285.55,113.52 285.6,116 285.64,118.2 285.69,120.11 285.73,121.7 285.78,122.96 285.82,123.87 285.87,124.42 285.91,124.6 285.95,124.42 286,123.87 286.04,122.96 286.09,121.7 286.13,120.11 286.18,118.2 286.22,116 286.27,113.52 286.31,110.79 286.36,107.85 286.4,104.73 286.44,101.45 286.49,98.07 286.53,94.6 286.58,91.1 286.62,87.6 286.67,84.13 286.71,80.75 286.76,77.47 286.8,74.35 286.85,71.41 286.89,68.68 286.93,66.2 286.98,64 287.02,62.09 287.07,60.5 287.11,59.24 287.16,58.33 287.2,57.78 287.25,54.25 287.29,54.43 287.34,54.98 287.38,55.89 287.42,57.15 287.47,58.74 287.51,60.65 287.56,62.85 287.6,65.33 287.65,68.06 287.69,71 287.74,74.12 287.78,77.4 287.83,80.78 287.87,84.25 287.91,87.75 287.96,91.25 288,94.72 288.05,98.1 288.09,101.38 288.14,104.5 288.18,107.44 288.23,110.17 288.27,112.65 288.32,114.85 288.36,116.76 288.4,118.35 288.45,119.61 288.49,120.52 288.54,121.07 288.58,121.25 288.63,121.07 288.67,120.52 288.72,119.61 288.76,118.35 288.81,116.76 288.85,114.85 288.89,112.65 288.94,110.17 288.98,107.44 289.03,104.5 289.07,101.38 289.12,98.1 289.16,94.72 289.21,91.25 289.25,87.75 289.3,84.25 289.34,80.78 289.38,77.4 289.43,74.12 289.47,71 289.52,68.06 289.56,65.33 289.61,62.85 289.65,60.65 289.7,58.74 289.74,57.15 289.79,55.89 289.83,54.98 289.87,54.43 289.92,54.25 289.96,54.43 290.01,54.98 290.05,55.89 290.1,57.15 290.14,58.74 290.19,60.65 290.23,62.85 290.28,65.33 290.32,68.06 290.36,71 290.41,74.12 290.45,77.4 290.5,80.78 290.54,84.25 290.59,87.75 290.63,91.25 290.68,94.72 290.72,98.1 290.77,101.38 290.81,104.5 290.85,107.44 290.9,110.17 290.94,112.65 290.99,114.85 291.03,116.76 291.08,118.35 291.12,119.61 291.17,120.52 291.21,121.07 291.26,121.25 291.3,121.07 291.34,120.52 291.39,119.61 291.43,118.35 291.48,116.76 291.52,114.85 291.57,112.65 291.61,110.17 291.66,107.44 291.7,104.5 291.75,101.38 291.79,98.1 291.83,94.72 291.88,91.25 291.92,87.75 291.97,84.25 292.01,80.78 292.06,77.4 292.1,74.12 292.15,71 292.19,68.06 292.24,65.33 292.28,62.85 292.32,60.65 292.37,58.74 292.41,57.15 292.46,55.89 292.5,54.98 292.55,54.43 292.59,54.25 292.64,54.43 292.68,54.98 292.73,55.89 292.77,57.15 292.81,58.74 292.86,60.65 292.9,62.85 292.95,65.33 292.99,68.06 293.04,71 293.08,74.12 293.13,77.4 293.17,80.78 293.22,84.25 293.26,87.75 293.31,91.25 293.35,94.72 293.39,98.1 293.44,101.38 293.48,104.5 293.53,107.44 293.57,110.17 293.62,112.65 293.66,114.85 293.71,116.76 293.75,118.35 293.8,119.61 293.84,120.52 293.88,121.07 293.93,117.9 293.97,117.72 294.02,117.17 294.06,116.26 294.11,115 294.15,113.41 294.2,111.5 294.24,109.3 294.29,106.82 294.33,104.09 294.37,101.15 294.42,98.03 294.46,94.75 294.51,91.37 294.55,87.9 294.6,84.4 294.64,80.9 294.69,77.43 294.73,74.05 294.78,70.77 294.82,67.65 294.86,64.71 294.91,61.98 294.95,59.5 295,57.3 295.04,55.39 295.09,53.8 295.13,52.54 295.18,51.63 295.22,51.08 295.27,50.9 295.31,51.08 295.35,51.63 295.4,52.54 295.44,53.8 295.49,55.39 295.53,57.3 295.58,59.5 295.62,61.98 295.67,64.71 295.71,67.65 295.76,70.77 295.8,74.05 295.84,77.43 295.89,80.9 295.93,84.4 295.98,87.9 296.02,91.37 296.07,94.75 296.11,98.03 296.16,101.15 296.2,104.09 296.25,106.82 296.29,109.3 296.33,111.5 296.38,113.41 296.42,115 296.47,116.26 296.51,117.17 296.56,117.72 296.6,117.9 296.65,117.72 296.69,117.17 296.74,116.26 296.78,115 296.82,113.41 296.87,111.5 296.91,109.3 296.96,106.82 297,104.09 297.05,101.15 297.09,98.03 297.14,94.75 297.18,91.37 297.23,87.9 297.27,84.4 297.31,80.9 297.36,77.43 297.4,74.05 297.45,70.77 297.49,67.65 297.54,64.71 297.58,61.98 297.63,59.5 297.67,57.3 297.72,55.39 297.76,53.8 297.8,52.54 297.85,51.63 297.89,51.08 297.94,50.9 297.98,51.08 298.03,51.63 298.07,52.54 298.12,53.8 298.16,55.39 298.21,57.3 298.25,59.5 298.29,61.98 298.34,64.71 298.38,67.65 298.43,70.77 298.47,74.05 298.52,77.43 298.56,80.9 298.61,84.4 298.65,87.9 298.7,91.37 298.74,94.75 298.78,98.03 298.83,101.15 298.87,104.09 298.92,106.82 298.96,109.3 299.01,111.5 299.05,113.41 299.1,115 299.14,116.26 299.19,117.17 299.23,117.72 299.27,117.9 299.32,117.72 299.36,117.17 299.41,116.26 299.45,115 299.5,113.41 299.54,111.5 299.59,109.3 299.63,106.82 299.68,104.09 299.72,101.15 299.76,98.03 299.81,94.75 299.85,91.37 299.9,87.9 299.94,84.4 299.99,80.9 300.03,77.43 300.08,74.05 300.12,70.77 300.17,67.65 300.21,64.71 300.25,61.98 300.3,59.5 300.34,57.3 300.39,55.39 300.43,53.8 300.48,52.54 300.52,51.63 300.57,51.08 300.61,47.55 300.66,47.73 300.7,48.28 300.74,49.19 300.79,50.45 300.83,52.04 300.88,53.95 300.92,56.15 300.97,58.63 301.01,61.36 301.06,64.3 301.1,67.42 301.15,70.7 301.19,74.08 301.23,77.55 301.28,81.05 301.32,84.55 301.37,88.02 301.41,91.4 301.46,94.68 301.5,97.8 301.55,100.74 301.59,103.47 301.64,105.95 301.68,108.15 301.73,110.06 301.77,111.65 301.81,112.91 301.86,113.82 301.9,114.37 301.95,114.55 301.99,114.37 302.04,113.82 302.08,112.91 302.13,111.65 302.17,110.06 302.22,108.15 302.26,105.95 302.3,103.47 302.35,100.74 302.39,97.8 302.44,94.68 302.48,91.4 302.53,88.02 302.57,84.55 302.62,81.05 302.66,77.55 302.71,74.08 302.75,70.7 302.79,67.42 302.84,64.3 302.88,61.36 302.93,58.63 302.97,56.15 303.02,53.95 303.06,52.04 303.11,50.45 303.15,49.19 303.2,48.28 303.24,47.73 303.28,47.55 303.33,47.73 303.37,48.28 303.42,49.19 303.46,50.45 303.51,52.04 303.55,53.95 303.6,56.15 303.64,58.63 303.69,61.36 303.73,64.3 303.77,67.42 303.82,70.7 303.86,74.08 303.91,77.55 303.95,81.05 304,84.55 304.04,88.02 304.09,91.4 304.13,94.68 304.18,97.8 304.22,100.74 304.26,103.47 304.31,105.95 304.35,108.15 304.4,110.06 304.44,111.65 304.49,112.91 304.53,113.82 304.58,114.37 304.62,114.55 304.67,114.37 304.71,113.82 304.75,112.91 304.8,111.65 304.84,110.06 304.89,108.15 304.93,105.95 304.98,103.47 305.02,100.74 305.07,97.8 305.11,94.68 305.16,91.4 305.2,88.02 305.24,84.55 305.29,81.05 305.33,77.55 305.38,74.08 305.42,70.7 305.47,67.42 305.51,64.3 305.56,61.36 305.6,58.63 305.65,56.15 305.69,53.95 305.73,52.04 305.78,50.45 305.82,49.19 305.87,48.28 305.91,47.73 305.96,47.55 306,47.73 306.05,48.28 306.09,49.19 306.14,50.45 306.18,52.04 306.22,53.95 306.27,56.15 306.31,58.63 306.36,61.36 306.4,64.3 306.45,67.42 306.49,70.7 306.54,74.08 306.58,77.55 306.63,81.05 306.67,84.55 306.71,88.02 306.76,91.4 306.8,94.68 306.85,97.8 306.89,100.74 306.94,103.47 306.98,105.95 307.03,108.15 307.07,110.06 307.12,111.65 307.16,112.91 307.2,113.82 307.25,114.37 307.29,111.2 307.34,111.02 307.38,110.47 307.43,109.56 307.47,108.3 307.52,106.71 307.56,104.8 307.61,102.6 307.65,100.12 307.69,97.39 307.74,94.45 307.78,91.33 307.83,88.05 307.87,84.67 307.92,81.2 307.96,77.7 308.01,74.2 308.05,70.73 308.1,67.35 308.14,64.07 308.18,60.95 308.23,58.01 308.27,55.28 308.32,52.8 308.36,50.6 308.41,48.69 308.45,47.1 308.5,45.84 308.54,44.93 308.59,44.38 308.63,44.2 308.67,44.38 308.72,44.93 308.76,45.84 308.81,47.1 308.85,48.69 308.9,50.6 308.94,52.8 308.99,55.28 309.03,58.01 309.08,60.95 309.12,64.07 309.16,67.35 309.21,70.73 309.25,74.2 309.3,77.7 309.34,81.2 309.39,84.67 309.43,88.05 309.48,91.33 309.52,94.45 309.57,97.39 309.61,100.12 309.65,102.6 309.7,104.8 309.74,106.71 309.79,108.3 309.83,109.56 309.88,110.47 309.92,111.02 309.97,111.2 310.01,111.02 310.06,110.47 310.1,109.56 310.14,108.3 310.19,106.71 310.23,104.8 310.28,102.6 310.32,100.12 310.37,97.39 310.41,94.45 310.46,91.33 310.5,88.05 310.55,84.67 310.59,81.2 310.63,77.7 310.68,74.2 310.72,70.73 310.77,67.35 310.81,64.07 310.86,60.95 310.9,58.01 310.95,55.28 310.99,52.8 311.04,50.6 311.08,48.69 311.13,47.1 311.17,45.84 311.21,44.93 311.26,44.38 311.3,44.2 311.35,44.38 311.39,44.93 311.44,45.84 311.48,47.1 311.53,48.69 311.57,50.6 311.62,52.8 311.66,55.28 311.7,58.01 311.75,60.95 311.79,64.07 311.84,67.35 311.88,70.73 311.93,74.2 311.97,77.7 312.02,81.2 312.06,84.67 312.11,88.05 312.15,91.33 312.19,94.45 312.24,97.39 312.28,100.12 312.33,102.6 312.37,104.8 312.42,106.71 312.46,108.3 312.51,109.56 312.55,110.47 312.6,111.02 312.64,111.2 312.68,111.02 312.73,110.47 312.77,109.56 312.82,108.3 312.86,106.71 312.91,104.8 312.95,102.6 313,100.12 313.04,97.39 313.09,94.45 313.13,91.33 313.17,88.05 313.22,84.67 313.26,81.2 313.31,77.7 313.35,74.2 313.4,70.73 313.44,67.35 313.49,64.07 313.53,60.95 313.58,58.01 313.62,55.28 313.66,52.8 313.71,50.6 313.75,48.69 313.8,47.1 313.84,45.84 313.89,44.93 313.93,44.38 313.98,40.85 314.02,41.03 314.07,41.58 314.11,42.49 314.15,43.75 314.2,45.34 314.24,47.25 314.29,49.45 314.33,51.93 314.38,54.66 314.42,57.6 314.47,60.72 314.51,64 314.56,67.38 314.6,70.85 314.64,74.35 314.69,77.85 314.73,81.32 314.78,84.7 314.82,87.98 314.87,91.1 314.91,94.04 314.96,96.77 315,99.25 315.05,101.45 315.09,103.36 315.13,104.95 315.18,106.21 315.22,107.12 315.27,107.67 315.31,107.85 315.36,107.67 315.4,107.12 315.45,106.21 315.49,104.95 315.54,103.36 315.58,101.45 315.62,99.25 315.67,96.77 315.71,94.04 315.76,91.1 315.8,87.98 315.85,84.7 315.89,81.32 315.94,77.85 315.98,74.35 316.03,70.85 316.07,67.38 316.11,64 316.16,60.72 316.2,57.6 316.25,54.66 316.29,51.93 316.34,49.45 316.38,47.25 316.43,45.34 316.47,43.75 316.52,42.49 316.56,41.58 316.6,41.03 316.65,40.85 316.69,41.03 316.74,41.58 316.78,42.49 316.83,43.75 316.87,45.34 316.92,47.25 316.96,49.45 317.01,51.93 317.05,54.66 317.09,57.6 317.14,60.72 317.18,64 317.23,67.38 317.27,70.85 317.32,74.35 317.36,77.85 317.41,81.32 317.45,84.7 317.5,87.98 317.54,91.1 317.58,94.04 317.63,96.77 317.67,99.25 317.72,101.45 317.76,103.36 317.81,104.95 317.85,106.21 317.9,107.12 317.94,107.67 317.99,107.85 318.03,107.67 318.07,107.12 318.12,106.21 318.16,104.95 318.21,103.36 318.25,101.45 318.3,99.25 318.34,96.77 318.39,94.04 318.43,91.1 318.48,87.98 318.52,84.7 318.56,81.32 318.61,77.85 318.65,74.35 318.7,70.85 318.74,67.38 318.79,64 318.83,60.72 318.88,57.6 318.92,54.66 318.97,51.93 319.01,49.45 319.05,47.25 319.1,45.34 319.14,43.75 319.19,42.49 319.23,41.58 319.28,41.03 319.32,40.85 319.37,41.03 319.41,41.58 319.46,42.49 319.5,43.75 319.54,45.34 319.59,47.25 319.63,49.45 319.68,51.93 319.72,54.66 319.77,57.6 319.81,60.72 319.86,64 319.9,67.38 319.95,70.85 319.99,74.35 320.04,77.85 320.08,81.32 320.12,84.7 320.17,87.98 320.21,91.1 320.26,94.04 320.3,96.77 320.35,99.25 320.39,101.45 320.44,103.36 320.48,104.95 320.53,106.21 320.57,107.12 320.61,107.67 320.66,104.5 320.7,104.32 320.75,103.77 320.79,102.86 320.84,101.6 320.88,100.01 320.93,98.1 320.97,95.9 321.02,93.42 321.06,90.69 321.1,87.75 321.15,84.63 321.19,81.35 321.24,77.97 321.28,74.5 321.33,71 321.37,67.5 321.42,64.03 321.46,60.65 321.51,57.37 321.55,54.25 321.59,51.31 321.64,48.58 321.68,46.1 321.73,43.9 321.77,41.99 321.82,40.4 321.86,39.14 321.91,38.23 321.95,37.68 322,37.5 322.04,37.68 322.08,38.23 322.13,39.14 322.17,40.4 322.22,41.99 322.26,43.9 322.31,46.1 322.35,48.58 322.4,51.31 322.44,54.25 322.49,57.37 322.53,60.65 322.57,64.03 322.62,67.5 322.66,71 322.71,74.5 322.75,77.97 322.8,81.35 322.84,84.63 322.89,87.75 322.93,90.69 322.98,93.42 323.02,95.9 323.06,98.1 323.11,100.01 323.15,101.6 323.2,102.86 323.24,103.77 323.29,104.32 323.33,104.5 323.38,104.32 323.42,103.77 323.47,102.86 323.51,101.6 323.55,100.01 323.6,98.1 323.64,95.9 323.69,93.42 323.73,90.69 323.78,87.75 323.82,84.63 323.87,81.35 323.91,77.97 323.96,74.5 324,71" fill="none" stroke="#ff3030" stroke-width="0.55" stroke-linejoin="round"/>
<rect x="56.7" y="68.1" width="267.3" height="6.5" fill="#2af0f0"/>
<line x1="56.7" y1="71.35" x2="324" y2="71.35" stroke="#3c74de" stroke-width="1.6"/>
<polyline points="56.7,71 56.74,67.5 56.79,64.03 56.83,60.65 56.88,57.37 56.92,54.25 56.97,51.31 57.01,48.58 57.06,46.1 57.1,43.9 57.15,41.99 57.19,40.4 57.23,39.14 57.28,38.23 57.32,37.68 57.37,37.5 57.41,37.68 57.46,38.23 57.5,39.14 57.55,40.4 57.59,41.99 57.64,43.9 57.68,46.1 57.72,48.58 57.77,51.31 57.81,54.25 57.86,57.37 57.9,60.65 57.95,64.03 57.99,67.5 58.04,71 58.08,74.5 58.13,77.97 58.17,81.35 58.21,84.63 58.26,87.75 58.3,90.69 58.35,93.42 58.39,95.9 58.44,98.1 58.48,100.01 58.53,101.6 58.57,102.86 58.62,103.77 58.66,104.32 58.7,104.5 58.75,104.32 58.79,103.77 58.84,102.86 58.88,101.6 58.93,100.01 58.97,98.1 59.02,95.9 59.06,93.42 59.11,90.69 59.15,87.75 59.19,84.63 59.24,81.35 59.28,77.97 59.33,74.5 59.37,71 59.42,67.5 59.46,64.03 59.51,60.65 59.55,57.37 59.6,54.25 59.64,51.31 59.68,48.58 59.73,46.1 59.77,43.9 59.82,41.99 59.86,40.4 59.91,39.14 59.95,38.23 60,37.68 60.04,34.15 60.09,34.33 60.13,34.88 60.17,35.79 60.22,37.05 60.26,38.64 60.31,40.55 60.35,42.75 60.4,45.23 60.44,47.96 60.49,50.9 60.53,54.02 60.58,57.3 60.62,60.68 60.66,64.15 60.71,67.65 60.75,71.15 60.8,74.62 60.84,78 60.89,81.28 60.93,84.4 60.98,87.34 61.02,90.07 61.07,92.55 61.11,94.75 61.16,96.66 61.2,98.25 61.24,99.51 61.29,100.42 61.33,100.97 61.38,101.15 61.42,100.97 61.47,100.42 61.51,99.51 61.56,98.25 61.6,96.66 61.65,94.75 61.69,92.55 61.73,90.07 61.78,87.34 61.82,84.4 61.87,81.28 61.91,78 61.96,74.62 62,71.15 62.05,67.65 62.09,64.15 62.14,60.68 62.18,57.3 62.22,54.02 62.27,50.9 62.31,47.96 62.36,45.23 62.4,42.75 62.45,40.55 62.49,38.64 62.54,37.05 62.58,35.79 62.63,34.88 62.67,34.33 62.71,34.15 62.76,34.33 62.8,34.88 62.85,35.79 62.89,37.05 62.94,38.64 62.98,40.55 63.03,42.75 63.07,45.23 63.12,47.96 63.16,50.9 63.2,54.02 63.25,57.3 63.29,60.68 63.34,64.15 63.38,67.65 63.43,71.15 63.47,74.62 63.52,78 63.56,81.28 63.61,84.4 63.65,87.34 63.69,90.07 63.74,92.55 63.78,94.75 63.83,96.66 63.87,98.25 63.92,99.51 63.96,100.42 64.01,100.97 64.05,101.15 64.1,100.97 64.14,100.42 64.18,99.51 64.23,98.25 64.27,96.66 64.32,94.75 64.36,92.55 64.41,90.07 64.45,87.34 64.5,84.4 64.54,81.28 64.59,78 64.63,74.62 64.67,71.15 64.72,67.65 64.76,64.15 64.81,60.68 64.85,57.3 64.9,54.02 64.94,50.9 64.99,47.96 65.03,45.23 65.08,42.75 65.12,40.55 65.16,38.64 65.21,37.05 65.25,35.79 65.3,34.88 65.34,34.33 65.39,34.15 65.43,34.33 65.48,34.88 65.52,35.79 65.57,37.05 65.61,38.64 65.65,40.55 65.7,42.75 65.74,45.23 65.79,47.96 65.83,50.9 65.88,54.02 65.92,57.3 65.97,60.68 66.01,64.15 66.06,67.65 66.1,71.15 66.14,74.62 66.19,78 66.23,81.28 66.28,84.4 66.32,87.34 66.37,90.07 66.41,92.55 66.46,94.75 66.5,96.66 66.55,98.25 66.59,99.51 66.63,100.42 66.68,100.97 66.72,97.8 66.77,97.62 66.81,97.07 66.86,96.16 66.9,94.9 66.95,93.31 66.99,91.4 67.04,89.2 67.08,86.72 67.12,83.99 67.17,81.05 67.21,77.93 67.26,74.65 67.3,71.27 67.35,67.8 67.39,64.3 67.44,60.8 67.48,57.33 67.53,53.95 67.57,50.67 67.61,47.55 67.66,44.61 67.7,41.88 67.75,39.4 67.79,37.2 67.84,35.29 67.88,33.7 67.93,32.44 67.97,31.53 68.02,30.98 68.06,30.8 68.1,30.98 68.15,31.53 68.19,32.44 68.24,33.7 68.28,35.29 68.33,37.2 68.37,39.4 68.42,41.88 68.46,44.61 68.51,47.55 68.55,50.67 68.59,53.95 68.64,57.33 68.68,60.8 68.73,64.3 68.77,67.8 68.82,71.27 68.86,74.65 68.91,77.93 68.95,81.05 69,83.99 69.04,86.72 69.08,89.2 69.13,91.4 69.17,93.31 69.22,94.9 69.26,96.16 69.31,97.07 69.35,97.62 69.4,97.8 69.44,97.62 69.49,97.07 69.53,96.16 69.57,94.9 69.62,93.31 69.66,91.4 69.71,89.2 69.75,86.72 69.8,83.99 69.84,81.05 69.89,77.93 69.93,74.65 69.98,71.27 70.02,67.8 70.06,64.3 70.11,60.8 70.15,57.33 70.2,53.95 70.24,50.67 70.29,47.55 70.33,44.61 70.38,41.88 70.42,39.4 70.47,37.2 70.51,35.29 70.56,33.7 70.6,32.44 70.64,31.53 70.69,30.98 70.73,30.8 70.78,30.98 70.82,31.53 70.87,32.44 70.91,33.7 70.96,35.29 71,37.2 71.05,39.4 71.09,41.88 71.13,44.61 71.18,47.55 71.22,50.67 71.27,53.95 71.31,57.33 71.36,60.8 71.4,64.3 71.45,67.8 71.49,71.27 71.54,74.65 71.58,77.93 71.62,81.05 71.67,83.99 71.71,86.72 71.76,89.2 71.8,91.4 71.85,93.31 71.89,94.9 71.94,96.16 71.98,97.07 72.03,97.62 72.07,97.8 72.11,97.62 72.16,97.07 72.2,96.16 72.25,94.9 72.29,93.31 72.34,91.4 72.38,89.2 72.43,86.72 72.47,83.99 72.52,81.05 72.56,77.93 72.6,74.65 72.65,71.27 72.69,67.8 72.74,64.3 72.78,60.8 72.83,57.33 72.87,53.95 72.92,50.67 72.96,47.55 73.01,44.61 73.05,41.88 73.09,39.4 73.14,37.2 73.18,35.29 73.23,33.7 73.27,32.44 73.32,31.53 73.36,30.98 73.41,27.45 73.45,27.63 73.5,28.18 73.54,29.09 73.58,30.35 73.63,31.94 73.67,33.85 73.72,36.05 73.76,38.53 73.81,41.26 73.85,44.2 73.9,47.32 73.94,50.6 73.99,53.98 74.03,57.45 74.07,60.95 74.12,64.45 74.16,67.92 74.21,71.3 74.25,74.58 74.3,77.7 74.34,80.64 74.39,83.37 74.43,85.85 74.48,88.05 74.52,89.96 74.56,91.55 74.61,92.81 74.65,93.72 74.7,94.27 74.74,94.45 74.79,94.27 74.83,93.72 74.88,92.81 74.92,91.55 74.97,89.96 75.01,88.05 75.05,85.85 75.1,83.37 75.14,80.64 75.19,77.7 75.23,74.58 75.28,71.3 75.32,67.92 75.37,64.45 75.41,60.95 75.46,57.45 75.5,53.98 75.54,50.6 75.59,47.32 75.63,44.2 75.68,41.26 75.72,38.53 75.77,36.05 75.81,33.85 75.86,31.94 75.9,30.35 75.95,29.09 75.99,28.18 76.03,27.63 76.08,27.45 76.12,27.63 76.17,28.18 76.21,29.09 76.26,30.35 76.3,31.94 76.35,33.85 76.39,36.05 76.44,38.53 76.48,41.26 76.52,44.2 76.57,47.32 76.61,50.6 76.66,53.98 76.7,57.45 76.75,60.95 76.79,64.45 76.84,67.92 76.88,71.3 76.93,74.58 76.97,77.7 77.01,80.64 77.06,83.37 77.1,85.85 77.15,88.05 77.19,89.96 77.24,91.55 77.28,92.81 77.33,93.72 77.37,94.27 77.42,94.45 77.46,94.27 77.5,93.72 77.55,92.81 77.59,91.55 77.64,89.96 77.68,88.05 77.73,85.85 77.77,83.37 77.82,80.64 77.86,77.7 77.91,74.58 77.95,71.3 77.99,67.92 78.04,64.45 78.08,60.95 78.13,57.45 78.17,53.98 78.22,50.6 78.26,47.32 78.31,44.2 78.35,41.26 78.4,38.53 78.44,36.05 78.48,33.85 78.53,31.94 78.57,30.35 78.62,29.09 78.66,28.18 78.71,27.63 78.75,27.45 78.8,27.63 78.84,28.18 78.89,29.09 78.93,30.35 78.97,31.94 79.02,33.85 79.06,36.05 79.11,38.53 79.15,41.26 79.2,44.2 79.24,47.32 79.29,50.6 79.33,53.98 79.38,57.45 79.42,60.95 79.47,64.45 79.51,67.92 79.55,71.3 79.6,74.58 79.64,77.7 79.69,80.64 79.73,83.37 79.78,85.85 79.82,88.05 79.87,89.96 79.91,91.55 79.96,92.81 80,93.72 80.04,94.27 80.09,91.1 80.13,90.92 80.18,90.37 80.22,89.46 80.27,88.2 80.31,86.61 80.36,84.7 80.4,82.5 80.45,80.02 80.49,77.29 80.53,74.35 80.58,71.23 80.62,67.95 80.67,64.57 80.71,61.1 80.76,57.6 80.8,54.1 80.85,50.63 80.89,47.25 80.94,43.97 80.98,40.85 81.02,37.91 81.07,35.18 81.11,32.7 81.16,30.5 81.2,28.59 81.25,27 81.29,25.74 81.34,24.83 81.38,24.28 81.43,24.1 81.47,24.28 81.51,24.83 81.56,25.74 81.6,27 81.65,28.59 81.69,30.5 81.74,32.7 81.78,35.18 81.83,37.91 81.87,40.85 81.92,43.97 81.96,47.25 82,50.63 82.05,54.1 82.09,57.6 82.14,61.1 82.18,64.57 82.23,67.95 82.27,71.23 82.32,74.35 82.36,77.29 82.41,80.02 82.45,82.5 82.49,84.7 82.54,86.61 82.58,88.2 82.63,89.46 82.67,90.37 82.72,90.92 82.76,91.1 82.81,90.92 82.85,90.37 82.9,89.46 82.94,88.2 82.98,86.61 83.03,84.7 83.07,82.5 83.12,80.02 83.16,77.29 83.21,74.35 83.25,71.23 83.3,67.95 83.34,64.57 83.39,61.1 83.43,57.6 83.47,54.1 83.52,50.63 83.56,47.25 83.61,43.97 83.65,40.85 83.7,37.91 83.74,35.18 83.79,32.7 83.83,30.5 83.88,28.59 83.92,27 83.96,25.74 84.01,24.83 84.05,24.28 84.1,24.1 84.14,24.28 84.19,24.83 84.23,25.74 84.28,27 84.32,28.59 84.37,30.5 84.41,32.7 84.45,35.18 84.5,37.91 84.54,40.85 84.59,43.97 84.63,47.25 84.68,50.63 84.72,54.1 84.77,57.6 84.81,61.1 84.86,64.57 84.9,67.95 84.94,71.23 84.99,74.35 85.03,77.29 85.08,80.02 85.12,82.5 85.17,84.7 85.21,86.61 85.26,88.2 85.3,89.46 85.35,90.37 85.39,90.92 85.43,91.1 85.48,90.92 85.52,90.37 85.57,89.46 85.61,88.2 85.66,86.61 85.7,84.7 85.75,82.5 85.79,80.02 85.84,77.29 85.88,74.35 85.92,71.23 85.97,67.95 86.01,64.57 86.06,61.1 86.1,57.6 86.15,54.1 86.19,50.63 86.24,47.25 86.28,43.97 86.33,40.85 86.37,37.91 86.41,35.18 86.46,32.7 86.5,30.5 86.55,28.59 86.59,27 86.64,25.74 86.68,24.83 86.73,24.28 86.77,20.75 86.82,20.93 86.86,21.48 86.9,22.39 86.95,23.65 86.99,25.24 87.04,27.15 87.08,29.35 87.13,31.83 87.17,34.56 87.22,37.5 87.26,40.62 87.31,43.9 87.35,47.28 87.39,50.75 87.44,54.25 87.48,57.75 87.53,61.22 87.57,64.6 87.62,67.88 87.66,71 87.71,73.94 87.75,76.67 87.8,79.15 87.84,81.35 87.89,83.26 87.93,84.85 87.97,86.11 88.02,87.02 88.06,87.57 88.11,87.75 88.15,87.57 88.2,87.02 88.24,86.11 88.29,84.85 88.33,83.26 88.38,81.35 88.42,79.15 88.46,76.67 88.51,73.94 88.55,71 88.6,67.88 88.64,64.6 88.69,61.22 88.73,57.75 88.78,54.25 88.82,50.75 88.87,47.28 88.91,43.9 88.95,40.62 89,37.5 89.04,34.56 89.09,31.83 89.13,29.35 89.18,27.15 89.22,25.24 89.27,23.65 89.31,22.39 89.36,21.48 89.4,20.93 89.44,20.75 89.49,20.93 89.53,21.48 89.58,22.39 89.62,23.65 89.67,25.24 89.71,27.15 89.76,29.35 89.8,31.83 89.85,34.56 89.89,37.5 89.93,40.62 89.98,43.9 90.02,47.28 90.07,50.75 90.11,54.25 90.16,57.75 90.2,61.22 90.25,64.6 90.29,67.88 90.34,71 90.38,73.94 90.42,76.67 90.47,79.15 90.51,81.35 90.56,83.26 90.6,84.85 90.65,86.11 90.69,87.02 90.74,87.57 90.78,87.75 90.83,87.57 90.87,87.02 90.91,86.11 90.96,84.85 91,83.26 91.05,81.35 91.09,79.15 91.14,76.67 91.18,73.94 91.23,71 91.27,67.88 91.32,64.6 91.36,61.22 91.4,57.75 91.45,54.25 91.49,50.75 91.54,47.28 91.58,43.9 91.63,40.62 91.67,37.5 91.72,34.56 91.76,31.83 91.81,29.35 91.85,27.15 91.89,25.24 91.94,23.65 91.98,22.39 92.03,21.48 92.07,20.93 92.12,20.75 92.16,20.93 92.21,21.48 92.25,22.39 92.3,23.65 92.34,25.24 92.38,27.15 92.43,29.35 92.47,31.83 92.52,34.56 92.56,37.5 92.61,40.62 92.65,43.9 92.7,47.28 92.74,50.75 92.79,54.25 92.83,57.75 92.87,61.22 92.92,64.6 92.96,67.88 93.01,71 93.05,73.94 93.1,76.67 93.14,79.15 93.19,81.35 93.23,83.26 93.28,84.85 93.32,86.11 93.36,87.02 93.41,87.57 93.45,84.4 93.5,84.22 93.54,83.67 93.59,82.76 93.63,81.5 93.68,79.91 93.72,78 93.77,75.8 93.81,73.32 93.85,70.59 93.9,67.65 93.94,64.53 93.99,61.25 94.03,57.87 94.08,54.4 94.12,50.9 94.17,47.4 94.21,43.93 94.26,40.55 94.3,37.27 94.34,34.15 94.39,31.21 94.43,28.48 94.48,26 94.52,23.8 94.57,21.89 94.61,20.3 94.66,19.04 94.7,18.13 94.75,17.58 94.79,17.4 94.83,17.58 94.88,18.13 94.92,19.04 94.97,20.3 95.01,21.89 95.06,23.8 95.1,26 95.15,28.48 95.19,31.21 95.24,34.15 95.28,37.27 95.32,40.55 95.37,43.93 95.41,47.4 95.46,50.9 95.5,54.4 95.55,57.87 95.59,61.25 95.64,64.53 95.68,67.65 95.73,70.59 95.77,73.32 95.81,75.8 95.86,78 95.9,79.91 95.95,81.5 95.99,82.76 96.04,83.67 96.08,84.22 96.13,84.4 96.17,84.22 96.22,83.67 96.26,82.76 96.3,81.5 96.35,79.91 96.39,78 96.44,75.8 96.48,73.32 96.53,70.59 96.57,67.65 96.62,64.53 96.66,61.25 96.71,57.87 96.75,54.4 96.8,50.9 96.84,47.4 96.88,43.93 96.93,40.55 96.97,37.27 97.02,34.15 97.06,31.21 97.11,28.48 97.15,26 97.2,23.8 97.24,21.89 97.29,20.3 97.33,19.04 97.37,18.13 97.42,17.58 97.46,17.4 97.51,17.58 97.55,18.13 97.6,19.04 97.64,20.3 97.69,21.89 97.73,23.8 97.78,26 97.82,28.48 97.86,31.21 97.91,34.15 97.95,37.27 98,40.55 98.04,43.93 98.09,47.4 98.13,50.9 98.18,54.4 98.22,57.87 98.27,61.25 98.31,64.53 98.35,67.65 98.4,70.59 98.44,73.32 98.49,75.8 98.53,78 98.58,79.91 98.62,81.5 98.67,82.76 98.71,83.67 98.76,84.22 98.8,84.4 98.84,84.22 98.89,83.67 98.93,82.76 98.98,81.5 99.02,79.91 99.07,78 99.11,75.8 99.16,73.32 99.2,70.59 99.25,67.65 99.29,64.53 99.33,61.25 99.38,57.87 99.42,54.4 99.47,50.9 99.51,47.4 99.56,43.93 99.6,40.55 99.65,37.27 99.69,34.15 99.74,31.21 99.78,28.48 99.82,26 99.87,23.8 99.91,21.89 99.96,20.3 100,19.04 100.05,18.13 100.09,17.58 100.14,14.05 100.18,14.23 100.23,14.78 100.27,15.69 100.31,16.95 100.36,18.54 100.4,20.45 100.45,22.65 100.49,25.13 100.54,27.86 100.58,30.8 100.63,33.92 100.67,37.2 100.72,40.58 100.76,44.05 100.8,47.55 100.85,51.05 100.89,54.52 100.94,57.9 100.98,61.18 101.03,64.3 101.07,67.24 101.12,69.97 101.16,72.45 101.21,74.65 101.25,76.56 101.29,78.15 101.34,79.41 101.38,80.32 101.43,80.87 101.47,81.05 101.52,80.87 101.56,80.32 101.61,79.41 101.65,78.15 101.7,76.56 101.74,74.65 101.78,72.45 101.83,69.97 101.87,67.24 101.92,64.3 101.96,61.18 102.01,57.9 102.05,54.52 102.1,51.05 102.14,47.55 102.19,44.05 102.23,40.58 102.27,37.2 102.32,33.92 102.36,30.8 102.41,27.86 102.45,25.13 102.5,22.65 102.54,20.45 102.59,18.54 102.63,16.95 102.68,15.69 102.72,14.78 102.76,14.23 102.81,14.05 102.85,14.23 102.9,14.78 102.94,15.69 102.99,16.95 103.03,18.54 103.08,20.45 103.12,22.65 103.17,25.13 103.21,27.86 103.25,30.8 103.3,33.92 103.34,37.2 103.39,40.58 103.43,44.05 103.48,47.55 103.52,51.05 103.57,54.52 103.61,57.9 103.66,61.18 103.7,64.3 103.74,67.24 103.79,69.97 103.83,72.45 103.88,74.65 103.92,76.56 103.97,78.15 104.01,79.41 104.06,80.32 104.1,80.87 104.15,81.05 104.19,80.87 104.23,80.32 104.28,79.41 104.32,78.15 104.37,76.56 104.41,74.65 104.46,72.45 104.5,69.97 104.55,67.24 104.59,64.3 104.64,61.18 104.68,57.9 104.72,54.52 104.77,51.05 104.81,47.55 104.86,44.05 104.9,40.58 104.95,37.2 104.99,33.92 105.04,30.8 105.08,27.86 105.13,25.13 105.17,22.65 105.21,20.45 105.26,18.54 105.3,16.95 105.35,15.69 105.39,14.78 105.44,14.23 105.48,14.05 105.53,14.23 105.57,14.78 105.62,15.69 105.66,16.95 105.7,18.54 105.75,20.45 105.79,22.65 105.84,25.13 105.88,27.86 105.93,30.8 105.97,33.92 106.02,37.2 106.06,40.58 106.11,44.05 106.15,47.55 106.2,51.05 106.24,54.52 106.28,57.9 106.33,61.18 106.37,64.3 106.42,67.24 106.46,69.97 106.51,72.45 106.55,74.65 106.6,76.56 106.64,78.15 106.69,79.41 106.73,80.32 106.77,80.87 106.82,77.7 106.86,77.52 106.91,76.97 106.95,76.06 107,74.8 107.04,73.21 107.09,71.3 107.13,69.1 107.18,66.62 107.22,63.89 107.26,60.95 107.31,57.83 107.35,54.55 107.4,51.17 107.44,47.7 107.49,44.2 107.53,40.7 107.58,37.23 107.62,33.85 107.67,30.57 107.71,27.45 107.75,24.51 107.8,21.78 107.84,19.3 107.89,17.1 107.93,15.19 107.98,13.6 108.02,12.34 108.07,11.43 108.11,10.88 108.16,10.7 108.2,10.88 108.24,11.43 108.29,12.34 108.33,13.6 108.38,15.19 108.42,17.1 108.47,19.3 108.51,21.78 108.56,24.51 108.6,27.45 108.65,30.57 108.69,33.85 108.73,37.23 108.78,40.7 108.82,44.2 108.87,47.7 108.91,51.17 108.96,54.55 109,57.83 109.05,60.95 109.09,63.89 109.14,66.62 109.18,69.1 109.22,71.3 109.27,73.21 109.31,74.8 109.36,76.06 109.4,76.97 109.45,77.52 109.49,77.7 109.54,77.52 109.58,76.97 109.63,76.06 109.67,74.8 109.71,73.21 109.76,71.3 109.8,69.1 109.85,66.62 109.89,63.89 109.94,60.95 109.98,57.83 110.03,54.55 110.07,51.17 110.12,47.7 110.16,44.2 110.2,40.7 110.25,37.23 110.29,33.85 110.34,30.57 110.38,27.45 110.43,24.51 110.47,21.78 110.52,19.3 110.56,17.1 110.61,15.19 110.65,13.6 110.69,12.34 110.74,11.43 110.78,10.88 110.83,10.7 110.87,10.88 110.92,11.43 110.96,12.34 111.01,13.6 111.05,15.19 111.1,17.1 111.14,19.3 111.18,21.78 111.23,24.51 111.27,27.45 111.32,30.57 111.36,33.85 111.41,37.23 111.45,40.7 111.5,44.2 111.54,47.7 111.59,51.17 111.63,54.55 111.67,57.83 111.72,60.95 111.76,63.89 111.81,66.62 111.85,69.1 111.9,71.3 111.94,73.21 111.99,74.8 112.03,76.06 112.08,76.97 112.12,77.52 112.16,77.7 112.21,77.52 112.25,76.97 112.3,76.06 112.34,74.8 112.39,73.21 112.43,71.3 112.48,69.1 112.52,66.62 112.57,63.89 112.61,60.95 112.65,57.83 112.7,54.55 112.74,51.17 112.79,47.7 112.83,44.2 112.88,40.7 112.92,37.23 112.97,33.85 113.01,30.57 113.06,27.45 113.1,24.51 113.14,21.78 113.19,19.3 113.23,17.1 113.28,15.19 113.32,13.6 113.37,12.34 113.41,11.43 113.46,10.88 113.5,7.35 113.55,7.53 113.59,8.08 113.63,8.99 113.68,10.25 113.72,11.84 113.77,13.75 113.81,15.95 113.86,18.43 113.9,21.16 113.95,24.1 113.99,27.22 114.04,30.5 114.08,33.88 114.12,37.35 114.17,40.85 114.21,44.35 114.26,47.82 114.3,51.2 114.35,54.48 114.39,57.6 114.44,60.54 114.48,63.27 114.53,65.75 114.57,67.95 114.62,69.86 114.66,71.45 114.7,72.71 114.75,73.62 114.79,74.17 114.84,74.35 114.88,74.17 114.93,73.62 114.97,72.71 115.02,71.45 115.06,69.86 115.11,67.95 115.15,65.75 115.19,63.27 115.24,60.54 115.28,57.6 115.33,54.48 115.37,51.2 115.42,47.82 115.46,44.35 115.51,40.85 115.55,37.35 115.6,33.88 115.64,30.5 115.68,27.22 115.73,24.1 115.77,21.16 115.82,18.43 115.86,15.95 115.91,13.75 115.95,11.84 116,10.25 116.04,8.99 116.09,8.08 116.13,7.53 116.17,7.35 116.22,7.53 116.26,8.08 116.31,8.99 116.35,10.25 116.4,11.84 116.44,13.75 116.49,15.95 116.53,18.43 116.58,21.16 116.62,24.1 116.66,27.22 116.71,30.5 116.75,33.88 116.8,37.35 116.84,40.85 116.89,44.35 116.93,47.82 116.98,51.2 117.02,54.48 117.07,57.6 117.11,60.54 117.15,63.27 117.2,65.75 117.24,67.95 117.29,69.86 117.33,71.45 117.38,72.71 117.42,73.62 117.47,74.17 117.51,74.35 117.56,74.17 117.6,73.62 117.64,72.71 117.69,71.45 117.73,69.86 117.78,67.95 117.82,65.75 117.87,63.27 117.91,60.54 117.96,57.6 118,54.48 118.05,51.2 118.09,47.82 118.13,44.35 118.18,40.85 118.22,37.35 118.27,33.88 118.31,30.5 118.36,27.22 118.4,24.1 118.45,21.16 118.49,18.43 118.54,15.95 118.58,13.75 118.62,11.84 118.67,10.25 118.71,8.99 118.76,8.08 118.8,7.53 118.85,7.35 118.89,7.53 118.94,8.08 118.98,8.99 119.03,10.25 119.07,11.84 119.11,13.75 119.16,15.95 119.2,18.43 119.25,21.16 119.29,24.1 119.34,27.22 119.38,30.5 119.43,33.88 119.47,37.35 119.52,40.85 119.56,44.35 119.6,47.82 119.65,51.2 119.69,54.48 119.74,57.6 119.78,60.54 119.83,63.27 119.87,65.75 119.92,67.95 119.96,69.86 120.01,71.45 120.05,72.71 120.09,73.62 120.14,74.17 120.18,71 120.23,70.82 120.27,70.27 120.32,69.36 120.36,68.1 120.41,66.51 120.45,64.6 120.5,62.4 120.54,59.92 120.58,57.19 120.63,54.25 120.67,51.13 120.72,47.85 120.76,44.47 120.81,41 120.85,37.5 120.9,34 120.94,30.53 120.99,27.15 121.03,23.87 121.07,20.75 121.12,17.81 121.16,15.08 121.21,12.6 121.25,10.4 121.3,8.49 121.34,6.9 121.39,5.64 121.43,4.73 121.48,4.18 121.52,4 121.56,4.18 121.61,4.73 121.65,5.64 121.7,6.9 121.74,8.49 121.79,10.4 121.83,12.6 121.88,15.08 121.92,17.81 121.97,20.75 122.01,23.87 122.05,27.15 122.1,30.53 122.14,34 122.19,37.5 122.23,41 122.28,44.47 122.32,47.85 122.37,51.13 122.41,54.25 122.46,57.19 122.5,59.92 122.54,62.4 122.59,64.6 122.63,66.51 122.68,68.1 122.72,69.36 122.77,70.27 122.81,70.82 122.86,71 122.9,70.82 122.95,70.27 122.99,69.36 123.03,68.1 123.08,66.51 123.12,64.6 123.17,62.4 123.21,59.92 123.26,57.19 123.3,54.25 123.35,51.13 123.39,47.85 123.44,44.47 123.48,41 123.53,37.5 123.57,34 123.61,30.53 123.66,27.15 123.7,23.87 123.75,20.75 123.79,17.81 123.84,15.08 123.88,12.6 123.93,10.4 123.97,8.49 124.02,6.9 124.06,5.64 124.1,4.73 124.15,4.18 124.19,4 124.24,4.18 124.28,4.73 124.33,5.64 124.37,6.9 124.42,8.49 124.46,10.4 124.51,12.6 124.55,15.08 124.59,17.81 124.64,20.75 124.68,23.87 124.73,27.15 124.77,30.53 124.82,34 124.86,37.5 124.91,41 124.95,44.47 125,47.85 125.04,51.13 125.08,54.25 125.13,57.19 125.17,59.92 125.22,62.4 125.26,64.6 125.31,66.51 125.35,68.1 125.4,69.36 125.44,70.27 125.49,70.82 125.53,71 125.57,70.82 125.62,70.27 125.66,69.36 125.71,68.1 125.75,66.51 125.8,64.6 125.84,62.4 125.89,59.92 125.93,57.19 125.98,54.25 126.02,51.13 126.06,47.85 126.11,44.47 126.15,41 126.2,37.5 126.24,34 126.29,30.53 126.33,27.15 126.38,23.87 126.42,20.75 126.47,17.81 126.51,15.08 126.55,12.6 126.6,10.4 126.64,8.49 126.69,6.9 126.73,5.64 126.78,4.73 126.82,4.18 126.87,4 126.91,7.53 126.96,8.08 127,8.99 127.04,10.25 127.09,11.84 127.13,13.75 127.18,15.95 127.22,18.43 127.27,21.16 127.31,24.1 127.36,27.22 127.4,30.5 127.45,33.88 127.49,37.35 127.53,40.85 127.58,44.35 127.62,47.82 127.67,51.2 127.71,54.48 127.76,57.6 127.8,60.54 127.85,63.27 127.89,65.75 127.94,67.95 127.98,69.86 128.02,71.45 128.07,72.71 128.11,73.62 128.16,74.17 128.2,74.35 128.25,74.17 128.29,73.62 128.34,72.71 128.38,71.45 128.43,69.86 128.47,67.95 128.51,65.75 128.56,63.27 128.6,60.54 128.65,57.6 128.69,54.48 128.74,51.2 128.78,47.82 128.83,44.35 128.87,40.85 128.92,37.35 128.96,33.88 129,30.5 129.05,27.22 129.09,24.1 129.14,21.16 129.18,18.43 129.23,15.95 129.27,13.75 129.32,11.84 129.36,10.25 129.41,8.99 129.45,8.08 129.49,7.53 129.54,7.35 129.58,7.53 129.63,8.08 129.67,8.99 129.72,10.25 129.76,11.84 129.81,13.75 129.85,15.95 129.9,18.43 129.94,21.16 129.98,24.1 130.03,27.22 130.07,30.5 130.12,33.88 130.16,37.35 130.21,40.85 130.25,44.35 130.3,47.82 130.34,51.2 130.39,54.48 130.43,57.6 130.47,60.54 130.52,63.27 130.56,65.75 130.61,67.95 130.65,69.86 130.7,71.45 130.74,72.71 130.79,73.62 130.83,74.17 130.88,74.35 130.92,74.17 130.96,73.62 131.01,72.71 131.05,71.45 131.1,69.86 131.14,67.95 131.19,65.75 131.23,63.27 131.28,60.54 131.32,57.6 131.37,54.48 131.41,51.2 131.45,47.82 131.5,44.35 131.54,40.85 131.59,37.35 131.63,33.88 131.68,30.5 131.72,27.22 131.77,24.1 131.81,21.16 131.86,18.43 131.9,15.95 131.94,13.75 131.99,11.84 132.03,10.25 132.08,8.99 132.12,8.08 132.17,7.53 132.21,7.35 132.26,7.53 132.3,8.08 132.35,8.99 132.39,10.25 132.44,11.84 132.48,13.75 132.52,15.95 132.57,18.43 132.61,21.16 132.66,24.1 132.7,27.22 132.75,30.5 132.79,33.88 132.84,37.35 132.88,40.85 132.93,44.35 132.97,47.82 133.01,51.2 133.06,54.48 133.1,57.6 133.15,60.54 133.19,63.27 133.24,65.75 133.28,67.95 133.33,69.86 133.37,71.45 133.42,72.71 133.46,73.62 133.5,74.17 133.55,74.35 133.59,77.52 133.64,76.97 133.68,76.06 133.73,74.8 133.77,73.21 133.82,71.3 133.86,69.1 133.91,66.62 133.95,63.89 133.99,60.95 134.04,57.83 134.08,54.55 134.13,51.17 134.17,47.7 134.22,44.2 134.26,40.7 134.31,37.23 134.35,33.85 134.4,30.57 134.44,27.45 134.48,24.51 134.53,21.78 134.57,19.3 134.62,17.1 134.66,15.19 134.71,13.6 134.75,12.34 134.8,11.43 134.84,10.88 134.89,10.7 134.93,10.88 134.97,11.43 135.02,12.34 135.06,13.6 135.11,15.19 135.15,17.1 135.2,19.3 135.24,21.78 135.29,24.51 135.33,27.45 135.38,30.57 135.42,33.85 135.46,37.23 135.51,40.7 135.55,44.2 135.6,47.7 135.64,51.17 135.69,54.55 135.73,57.83 135.78,60.95 135.82,63.89 135.87,66.62 135.91,69.1 135.95,71.3 136,73.21 136.04,74.8 136.09,76.06 136.13,76.97 136.18,77.52 136.22,77.7 136.27,77.52 136.31,76.97 136.36,76.06 136.4,74.8 136.44,73.21 136.49,71.3 136.53,69.1 136.58,66.62 136.62,63.89 136.67,60.95 136.71,57.83 136.76,54.55 136.8,51.17 136.85,47.7 136.89,44.2 136.93,40.7 136.98,37.23 137.02,33.85 137.07,30.57 137.11,27.45 137.16,24.51 137.2,21.78 137.25,19.3 137.29,17.1 137.34,15.19 137.38,13.6 137.42,12.34 137.47,11.43 137.51,10.88 137.56,10.7 137.6,10.88 137.65,11.43 137.69,12.34 137.74,13.6 137.78,15.19 137.83,17.1 137.87,19.3 137.91,21.78 137.96,24.51 138,27.45 138.05,30.57 138.09,33.85 138.14,37.23 138.18,40.7 138.23,44.2 138.27,47.7 138.32,51.17 138.36,54.55 138.4,57.83 138.45,60.95 138.49,63.89 138.54,66.62 138.58,69.1 138.63,71.3 138.67,73.21 138.72,74.8 138.76,76.06 138.81,76.97 138.85,77.52 138.89,77.7 138.94,77.52 138.98,76.97 139.03,76.06 139.07,74.8 139.12,73.21 139.16,71.3 139.21,69.1 139.25,66.62 139.3,63.89 139.34,60.95 139.38,57.83 139.43,54.55 139.47,51.17 139.52,47.7 139.56,44.2 139.61,40.7 139.65,37.23 139.7,33.85 139.74,30.57 139.79,27.45 139.83,24.51 139.87,21.78 139.92,19.3 139.96,17.1 140.01,15.19 140.05,13.6 140.1,12.34 140.14,11.43 140.19,10.88 140.23,10.7 140.28,14.23 140.32,14.78 140.36,15.69 140.41,16.95 140.45,18.54 140.5,20.45 140.54,22.65 140.59,25.13 140.63,27.86 140.68,30.8 140.72,33.92 140.77,37.2 140.81,40.58 140.85,44.05 140.9,47.55 140.94,51.05 140.99,54.52 141.03,57.9 141.08,61.18 141.12,64.3 141.17,67.24 141.21,69.97 141.26,72.45 141.3,74.65 141.34,76.56 141.39,78.15 141.43,79.41 141.48,80.32 141.52,80.87 141.57,81.05 141.61,80.87 141.66,80.32 141.7,79.41 141.75,78.15 141.79,76.56 141.84,74.65 141.88,72.45 141.92,69.97 141.97,67.24 142.01,64.3 142.06,61.18 142.1,57.9 142.15,54.52 142.19,51.05 142.24,47.55 142.28,44.05 142.33,40.58 142.37,37.2 142.41,33.92 142.46,30.8 142.5,27.86 142.55,25.13 142.59,22.65 142.64,20.45 142.68,18.54 142.73,16.95 142.77,15.69 142.82,14.78 142.86,14.23 142.9,14.05 142.95,14.23 142.99,14.78 143.04,15.69 143.08,16.95 143.13,18.54 143.17,20.45 143.22,22.65 143.26,25.13 143.31,27.86 143.35,30.8 143.39,33.92 143.44,37.2 143.48,40.58 143.53,44.05 143.57,47.55 143.62,51.05 143.66,54.52 143.71,57.9 143.75,61.18 143.8,64.3 143.84,67.24 143.88,69.97 143.93,72.45 143.97,74.65 144.02,76.56 144.06,78.15 144.11,79.41 144.15,80.32 144.2,80.87 144.24,81.05 144.29,80.87 144.33,80.32 144.37,79.41 144.42,78.15 144.46,76.56 144.51,74.65 144.55,72.45 144.6,69.97 144.64,67.24 144.69,64.3 144.73,61.18 144.78,57.9 144.82,54.52 144.86,51.05 144.91,47.55 144.95,44.05 145,40.58 145.04,37.2 145.09,33.92 145.13,30.8 145.18,27.86 145.22,25.13 145.27,22.65 145.31,20.45 145.35,18.54 145.4,16.95 145.44,15.69 145.49,14.78 145.53,14.23 145.58,14.05 145.62,14.23 145.67,14.78 145.71,15.69 145.76,16.95 145.8,18.54 145.84,20.45 145.89,22.65 145.93,25.13 145.98,27.86 146.02,30.8 146.07,33.92 146.11,37.2 146.16,40.58 146.2,44.05 146.25,47.55 146.29,51.05 146.33,54.52 146.38,57.9 146.42,61.18 146.47,64.3 146.51,67.24 146.56,69.97 146.6,72.45 146.65,74.65 146.69,76.56 146.74,78.15 146.78,79.41 146.82,80.32 146.87,80.87 146.91,81.05 146.96,84.22 147,83.67 147.05,82.76 147.09,81.5 147.14,79.91 147.18,78 147.23,75.8 147.27,73.32 147.31,70.59 147.36,67.65 147.4,64.53 147.45,61.25 147.49,57.87 147.54,54.4 147.58,50.9 147.63,47.4 147.67,43.93 147.72,40.55 147.76,37.27 147.8,34.15 147.85,31.21 147.89,28.48 147.94,26 147.98,23.8 148.03,21.89 148.07,20.3 148.12,19.04 148.16,18.13 148.21,17.58 148.25,17.4 148.29,17.58 148.34,18.13 148.38,19.04 148.43,20.3 148.47,21.89 148.52,23.8 148.56,26 148.61,28.48 148.65,31.21 148.7,34.15 148.74,37.27 148.78,40.55 148.83,43.93 148.87,47.4 148.92,50.9 148.96,54.4 149.01,57.87 149.05,61.25 149.1,64.53 149.14,67.65 149.19,70.59 149.23,73.32 149.27,75.8 149.32,78 149.36,79.91 149.41,81.5 149.45,82.76 149.5,83.67 149.54,84.22 149.59,84.4 149.63,84.22 149.68,83.67 149.72,82.76 149.76,81.5 149.81,79.91 149.85,78 149.9,75.8 149.94,73.32 149.99,70.59 150.03,67.65 150.08,64.53 150.12,61.25 150.17,57.87 150.21,54.4 150.25,50.9 150.3,47.4 150.34,43.93 150.39,40.55 150.43,37.27 150.48,34.15 150.52,31.21 150.57,28.48 150.61,26 150.66,23.8 150.7,21.89 150.75,20.3 150.79,19.04 150.83,18.13 150.88,17.58 150.92,17.4 150.97,17.58 151.01,18.13 151.06,19.04 151.1,20.3 151.15,21.89 151.19,23.8 151.24,26 151.28,28.48 151.32,31.21 151.37,34.15 151.41,37.27 151.46,40.55 151.5,43.93 151.55,47.4 151.59,50.9 151.64,54.4 151.68,57.87 151.73,61.25 151.77,64.53 151.81,67.65 151.86,70.59 151.9,73.32 151.95,75.8 151.99,78 152.04,79.91 152.08,81.5 152.13,82.76 152.17,83.67 152.22,84.22 152.26,84.4 152.3,84.22 152.35,83.67 152.39,82.76 152.44,81.5 152.48,79.91 152.53,78 152.57,75.8 152.62,73.32 152.66,70.59 152.71,67.65 152.75,64.53 152.79,61.25 152.84,57.87 152.88,54.4 152.93,50.9 152.97,47.4 153.02,43.93 153.06,40.55 153.11,37.27 153.15,34.15 153.2,31.21 153.24,28.48 153.28,26 153.33,23.8 153.37,21.89 153.42,20.3 153.46,19.04 153.51,18.13 153.55,17.58 153.6,17.4 153.64,20.93 153.69,21.48 153.73,22.39 153.77,23.65 153.82,25.24 153.86,27.15 153.91,29.35 153.95,31.83 154,34.56 154.04,37.5 154.09,40.62 154.13,43.9 154.18,47.28 154.22,50.75 154.26,54.25 154.31,57.75 154.35,61.22 154.4,64.6 154.44,67.88 154.49,71 154.53,73.94 154.58,76.67 154.62,79.15 154.67,81.35 154.71,83.26 154.75,84.85 154.8,86.11 154.84,87.02 154.89,87.57 154.93,87.75 154.98,87.57 155.02,87.02 155.07,86.11 155.11,84.85 155.16,83.26 155.2,81.35 155.24,79.15 155.29,76.67 155.33,73.94 155.38,71 155.42,67.88 155.47,64.6 155.51,61.22 155.56,57.75 155.6,54.25 155.65,50.75 155.69,47.28 155.73,43.9 155.78,40.62 155.82,37.5 155.87,34.56 155.91,31.83 155.96,29.35 156,27.15 156.05,25.24 156.09,23.65 156.14,22.39 156.18,21.48 156.22,20.93 156.27,20.75 156.31,20.93 156.36,21.48 156.4,22.39 156.45,23.65 156.49,25.24 156.54,27.15 156.58,29.35 156.63,31.83 156.67,34.56 156.71,37.5 156.76,40.62 156.8,43.9 156.85,47.28 156.89,50.75 156.94,54.25 156.98,57.75 157.03,61.22 157.07,64.6 157.12,67.88 157.16,71 157.2,73.94 157.25,76.67 157.29,79.15 157.34,81.35 157.38,83.26 157.43,84.85 157.47,86.11 157.52,87.02 157.56,87.57 157.61,87.75 157.65,87.57 157.69,87.02 157.74,86.11 157.78,84.85 157.83,83.26 157.87,81.35 157.92,79.15 157.96,76.67 158.01,73.94 158.05,71 158.1,67.88 158.14,64.6 158.18,61.22 158.23,57.75 158.27,54.25 158.32,50.75 158.36,47.28 158.41,43.9 158.45,40.62 158.5,37.5 158.54,34.56 158.59,31.83 158.63,29.35 158.67,27.15 158.72,25.24 158.76,23.65 158.81,22.39 158.85,21.48 158.9,20.93 158.94,20.75 158.99,20.93 159.03,21.48 159.08,22.39 159.12,23.65 159.17,25.24 159.21,27.15 159.25,29.35 159.3,31.83 159.34,34.56 159.39,37.5 159.43,40.62 159.48,43.9 159.52,47.28 159.57,50.75 159.61,54.25 159.66,57.75 159.7,61.22 159.74,64.6 159.79,67.88 159.83,71 159.88,73.94 159.92,76.67 159.97,79.15 160.01,81.35 160.06,83.26 160.1,84.85 160.15,86.11 160.19,87.02 160.23,87.57 160.28,87.75 160.32,90.92 160.37,90.37 160.41,89.46 160.46,88.2 160.5,86.61 160.55,84.7 160.59,82.5 160.64,80.02 160.68,77.29 160.72,74.35 160.77,71.23 160.81,67.95 160.86,64.57 160.9,61.1 160.95,57.6 160.99,54.1 161.04,50.63 161.08,47.25 161.13,43.97 161.17,40.85 161.21,37.91 161.26,35.18 161.3,32.7 161.35,30.5 161.39,28.59 161.44,27 161.48,25.74 161.53,24.83 161.57,24.28 161.62,24.1 161.66,24.28 161.7,24.83 161.75,25.74 161.79,27 161.84,28.59 161.88,30.5 161.93,32.7 161.97,35.18 162.02,37.91 162.06,40.85 162.11,43.97 162.15,47.25 162.19,50.63 162.24,54.1 162.28,57.6 162.33,61.1 162.37,64.57 162.42,67.95 162.46,71.23 162.51,74.35 162.55,77.29 162.6,80.02 162.64,82.5 162.68,84.7 162.73,86.61 162.77,88.2 162.82,89.46 162.86,90.37 162.91,90.92 162.95,91.1 163,90.92 163.04,90.37 163.09,89.46 163.13,88.2 163.17,86.61 163.22,84.7 163.26,82.5 163.31,80.02 163.35,77.29 163.4,74.35 163.44,71.23 163.49,67.95 163.53,64.57 163.58,61.1 163.62,57.6 163.66,54.1 163.71,50.63 163.75,47.25 163.8,43.97 163.84,40.85 163.89,37.91 163.93,35.18 163.98,32.7 164.02,30.5 164.07,28.59 164.11,27 164.15,25.74 164.2,24.83 164.24,24.28 164.29,24.1 164.33,24.28 164.38,24.83 164.42,25.74 164.47,27 164.51,28.59 164.56,30.5 164.6,32.7 164.64,35.18 164.69,37.91 164.73,40.85 164.78,43.97 164.82,47.25 164.87,50.63 164.91,54.1 164.96,57.6 165,61.1 165.05,64.57 165.09,67.95 165.13,71.23 165.18,74.35 165.22,77.29 165.27,80.02 165.31,82.5 165.36,84.7 165.4,86.61 165.45,88.2 165.49,89.46 165.54,90.37 165.58,90.92 165.62,91.1 165.67,90.92 165.71,90.37 165.76,89.46 165.8,88.2 165.85,86.61 165.89,84.7 165.94,82.5 165.98,80.02 166.03,77.29 166.07,74.35 166.11,71.23 166.16,67.95 166.2,64.57 166.25,61.1 166.29,57.6 166.34,54.1 166.38,50.63 166.43,47.25 166.47,43.97 166.52,40.85 166.56,37.91 166.6,35.18 166.65,32.7 166.69,30.5 166.74,28.59 166.78,27 166.83,25.74 166.87,24.83 166.92,24.28 166.96,24.1 167.01,27.63 167.05,28.18 167.09,29.09 167.14,30.35 167.18,31.94 167.23,33.85 167.27,36.05 167.32,38.53 167.36,41.26 167.41,44.2 167.45,47.32 167.5,50.6 167.54,53.98 167.58,57.45 167.63,60.95 167.67,64.45 167.72,67.92 167.76,71.3 167.81,74.58 167.85,77.7 167.9,80.64 167.94,83.37 167.99,85.85 168.03,88.05 168.08,89.96 168.12,91.55 168.16,92.81 168.21,93.72 168.25,94.27 168.3,94.45 168.34,94.27 168.39,93.72 168.43,92.81 168.48,91.55 168.52,89.96 168.57,88.05 168.61,85.85 168.65,83.37 168.7,80.64 168.74,77.7 168.79,74.58 168.83,71.3 168.88,67.92 168.92,64.45 168.97,60.95 169.01,57.45 169.06,53.98 169.1,50.6 169.14,47.32 169.19,44.2 169.23,41.26 169.28,38.53 169.32,36.05 169.37,33.85 169.41,31.94 169.46,30.35 169.5,29.09 169.55,28.18 169.59,27.63 169.63,27.45 169.68,27.63 169.72,28.18 169.77,29.09 169.81,30.35 169.86,31.94 169.9,33.85 169.95,36.05 169.99,38.53 170.04,41.26 170.08,44.2 170.12,47.32 170.17,50.6 170.21,53.98 170.26,57.45 170.3,60.95 170.35,64.45 170.39,67.92 170.44,71.3 170.48,74.58 170.53,77.7 170.57,80.64 170.61,83.37 170.66,85.85 170.7,88.05 170.75,89.96 170.79,91.55 170.84,92.81 170.88,93.72 170.93,94.27 170.97,94.45 171.02,94.27 171.06,93.72 171.1,92.81 171.15,91.55 171.19,89.96 171.24,88.05 171.28,85.85 171.33,83.37 171.37,80.64 171.42,77.7 171.46,74.58 171.51,71.3 171.55,67.92 171.59,64.45 171.64,60.95 171.68,57.45 171.73,53.98 171.77,50.6 171.82,47.32 171.86,44.2 171.91,41.26 171.95,38.53 172,36.05 172.04,33.85 172.08,31.94 172.13,30.35 172.17,29.09 172.22,28.18 172.26,27.63 172.31,27.45 172.35,27.63 172.4,28.18 172.44,29.09 172.49,30.35 172.53,31.94 172.57,33.85 172.62,36.05 172.66,38.53 172.71,41.26 172.75,44.2 172.8,47.32 172.84,50.6 172.89,53.98 172.93,57.45 172.98,60.95 173.02,64.45 173.06,67.92 173.11,71.3 173.15,74.58 173.2,77.7 173.24,80.64 173.29,83.37 173.33,85.85 173.38,88.05 173.42,89.96 173.47,91.55 173.51,92.81 173.55,93.72 173.6,94.27 173.64,94.45 173.69,97.62 173.73,97.07 173.78,96.16 173.82,94.9 173.87,93.31 173.91,91.4 173.96,89.2 174,86.72 174.04,83.99 174.09,81.05 174.13,77.93 174.18,74.65 174.22,71.27 174.27,67.8 174.31,64.3 174.36,60.8 174.4,57.33 174.45,53.95 174.49,50.67 174.53,47.55 174.58,44.61 174.62,41.88 174.67,39.4 174.71,37.2 174.76,35.29 174.8,33.7 174.85,32.44 174.89,31.53 174.94,30.98 174.98,30.8 175.02,30.98 175.07,31.53 175.11,32.44 175.16,33.7 175.2,35.29 175.25,37.2 175.29,39.4 175.34,41.88 175.38,44.61 175.43,47.55 175.47,50.67 175.51,53.95 175.56,57.33 175.6,60.8 175.65,64.3 175.69,67.8 175.74,71.27 175.78,74.65 175.83,77.93 175.87,81.05 175.92,83.99 175.96,86.72 176,89.2 176.05,91.4 176.09,93.31 176.14,94.9 176.18,96.16 176.23,97.07 176.27,97.62 176.32,97.8 176.36,97.62 176.41,97.07 176.45,96.16 176.49,94.9 176.54,93.31 176.58,91.4 176.63,89.2 176.67,86.72 176.72,83.99 176.76,81.05 176.81,77.93 176.85,74.65 176.9,71.27 176.94,67.8 176.99,64.3 177.03,60.8 177.07,57.33 177.12,53.95 177.16,50.67 177.21,47.55 177.25,44.61 177.3,41.88 177.34,39.4 177.39,37.2 177.43,35.29 177.48,33.7 177.52,32.44 177.56,31.53 177.61,30.98 177.65,30.8 177.7,30.98 177.74,31.53 177.79,32.44 177.83,33.7 177.88,35.29 177.92,37.2 177.97,39.4 178.01,41.88 178.05,44.61 178.1,47.55 178.14,50.67 178.19,53.95 178.23,57.33 178.28,60.8 178.32,64.3 178.37,67.8 178.41,71.27 178.46,74.65 178.5,77.93 178.54,81.05 178.59,83.99 178.63,86.72 178.68,89.2 178.72,91.4 178.77,93.31 178.81,94.9 178.86,96.16 178.9,97.07 178.95,97.62 178.99,97.8 179.03,97.62 179.08,97.07 179.12,96.16 179.17,94.9 179.21,93.31 179.26,91.4 179.3,89.2 179.35,86.72 179.39,83.99 179.44,81.05 179.48,77.93 179.52,74.65 179.57,71.27 179.61,67.8 179.66,64.3 179.7,60.8 179.75,57.33 179.79,53.95 179.84,50.67 179.88,47.55 179.93,44.61 179.97,41.88 180.01,39.4 180.06,37.2 180.1,35.29 180.15,33.7 180.19,32.44 180.24,31.53 180.28,30.98 180.33,30.8 180.37,34.33 180.42,34.88 180.46,35.79 180.5,37.05 180.55,38.64 180.59,40.55 180.64,42.75 180.68,45.23 180.73,47.96 180.77,50.9 180.82,54.02 180.86,57.3 180.91,60.68 180.95,64.15 180.99,67.65 181.04,71.15 181.08,74.62 181.13,78 181.17,81.28 181.22,84.4 181.26,87.34 181.31,90.07 181.35,92.55 181.4,94.75 181.44,96.66 181.48,98.25 181.53,99.51 181.57,100.42 181.62,100.97 181.66,101.15 181.71,100.97 181.75,100.42 181.8,99.51 181.84,98.25 181.89,96.66 181.93,94.75 181.97,92.55 182.02,90.07 182.06,87.34 182.11,84.4 182.15,81.28 182.2,78 182.24,74.62 182.29,71.15 182.33,67.65 182.38,64.15 182.42,60.68 182.46,57.3 182.51,54.02 182.55,50.9 182.6,47.96 182.64,45.23 182.69,42.75 182.73,40.55 182.78,38.64 182.82,37.05 182.87,35.79 182.91,34.88 182.95,34.33 183,34.15 183.04,34.33 183.09,34.88 183.13,35.79 183.18,37.05 183.22,38.64 183.27,40.55 183.31,42.75 183.36,45.23 183.4,47.96 183.44,50.9 183.49,54.02 183.53,57.3 183.58,60.68 183.62,64.15 183.67,67.65 183.71,71.15 183.76,74.62 183.8,78 183.85,81.28 183.89,84.4 183.93,87.34 183.98,90.07 184.02,92.55 184.07,94.75 184.11,96.66 184.16,98.25 184.2,99.51 184.25,100.42 184.29,100.97 184.34,101.15 184.38,100.97 184.42,100.42 184.47,99.51 184.51,98.25 184.56,96.66 184.6,94.75 184.65,92.55 184.69,90.07 184.74,87.34 184.78,84.4 184.83,81.28 184.87,78 184.91,74.62 184.96,71.15 185,67.65 185.05,64.15 185.09,60.68 185.14,57.3 185.18,54.02 185.23,50.9 185.27,47.96 185.32,45.23 185.36,42.75 185.4,40.55 185.45,38.64 185.49,37.05 185.54,35.79 185.58,34.88 185.63,34.33 185.67,34.15 185.72,34.33 185.76,34.88 185.81,35.79 185.85,37.05 185.89,38.64 185.94,40.55 185.98,42.75 186.03,45.23 186.07,47.96 186.12,50.9 186.16,54.02 186.21,57.3 186.25,60.68 186.3,64.15 186.34,67.65 186.39,71.15 186.43,74.62 186.47,78 186.52,81.28 186.56,84.4 186.61,87.34 186.65,90.07 186.7,92.55 186.74,94.75 186.79,96.66 186.83,98.25 186.88,99.51 186.92,100.42 186.96,100.97 187.01,101.15 187.05,104.32 187.1,103.77 187.14,102.86 187.19,101.6 187.23,100.01 187.28,98.1 187.32,95.9 187.37,93.42 187.41,90.69 187.45,87.75 187.5,84.63 187.54,81.35 187.59,77.97 187.63,74.5 187.68,71 187.72,67.5 187.77,64.03 187.81,60.65 187.86,57.37 187.9,54.25 187.94,51.31 187.99,48.58 188.03,46.1 188.08,43.9 188.12,41.99 188.17,40.4 188.21,39.14 188.26,38.23 188.3,37.68 188.35,37.5 188.39,37.68 188.43,38.23 188.48,39.14 188.52,40.4 188.57,41.99 188.61,43.9 188.66,46.1 188.7,48.58 188.75,51.31 188.79,54.25 188.84,57.37 188.88,60.65 188.92,64.03 188.97,67.5 189.01,71 189.06,74.5 189.1,77.97 189.15,81.35 189.19,84.63 189.24,87.75 189.28,90.69 189.33,93.42 189.37,95.9 189.41,98.1 189.46,100.01 189.5,101.6 189.55,102.86 189.59,103.77 189.64,104.32 189.68,104.5 189.73,104.32 189.77,103.77 189.82,102.86 189.86,101.6 189.9,100.01 189.95,98.1 189.99,95.9 190.04,93.42 190.08,90.69 190.13,87.75 190.17,84.63 190.22,81.35 190.26,77.97 190.31,74.5 190.35,71 190.39,67.5 190.44,64.03 190.48,60.65 190.53,57.37 190.57,54.25 190.62,51.31 190.66,48.58 190.71,46.1 190.75,43.9 190.8,41.99 190.84,40.4 190.88,39.14 190.93,38.23 190.97,37.68 191.02,37.5 191.06,37.68 191.11,38.23 191.15,39.14 191.2,40.4 191.24,41.99 191.29,43.9 191.33,46.1 191.37,48.58 191.42,51.31 191.46,54.25 191.51,57.37 191.55,60.65 191.6,64.03 191.64,67.5 191.69,71 191.73,74.5 191.78,77.97 191.82,81.35 191.86,84.63 191.91,87.75 191.95,90.69 192,93.42 192.04,95.9 192.09,98.1 192.13,100.01 192.18,101.6 192.22,102.86 192.27,103.77 192.31,104.32 192.35,104.5 192.4,104.32 192.44,103.77 192.49,102.86 192.53,101.6 192.58,100.01 192.62,98.1 192.67,95.9 192.71,93.42 192.76,90.69 192.8,87.75 192.84,84.63 192.89,81.35 192.93,77.97 192.98,74.5 193.02,71 193.07,67.5 193.11,64.03 193.16,60.65 193.2,57.37 193.25,54.25 193.29,51.31 193.33,48.58 193.38,46.1 193.42,43.9 193.47,41.99 193.51,40.4 193.56,39.14 193.6,38.23 193.65,37.68 193.69,37.5 193.74,41.03 193.78,41.58 193.82,42.49 193.87,43.75 193.91,45.34 193.96,47.25 194,49.45 194.05,51.93 194.09,54.66 194.14,57.6 194.18,60.72 194.23,64 194.27,67.38 194.31,70.85 194.36,74.35 194.4,77.85 194.45,81.32 194.49,84.7 194.54,87.98 194.58,91.1 194.63,94.04 194.67,96.77 194.72,99.25 194.76,101.45 194.81,103.36 194.85,104.95 194.89,106.21 194.94,107.12 194.98,107.67 195.03,107.85 195.07,107.67 195.12,107.12 195.16,106.21 195.21,104.95 195.25,103.36 195.3,101.45 195.34,99.25 195.38,96.77 195.43,94.04 195.47,91.1 195.52,87.98 195.56,84.7 195.61,81.32 195.65,77.85 195.7,74.35 195.74,70.85 195.79,67.38 195.83,64 195.87,60.72 195.92,57.6 195.96,54.66 196.01,51.93 196.05,49.45 196.1,47.25 196.14,45.34 196.19,43.75 196.23,42.49 196.28,41.58 196.32,41.03 196.36,40.85 196.41,41.03 196.45,41.58 196.5,42.49 196.54,43.75 196.59,45.34 196.63,47.25 196.68,49.45 196.72,51.93 196.77,54.66 196.81,57.6 196.85,60.72 196.9,64 196.94,67.38 196.99,70.85 197.03,74.35 197.08,77.85 197.12,81.32 197.17,84.7 197.21,87.98 197.26,91.1 197.3,94.04 197.34,96.77 197.39,99.25 197.43,101.45 197.48,103.36 197.52,104.95 197.57,106.21 197.61,107.12 197.66,107.67 197.7,107.85 197.75,107.67 197.79,107.12 197.83,106.21 197.88,104.95 197.92,103.36 197.97,101.45 198.01,99.25 198.06,96.77 198.1,94.04 198.15,91.1 198.19,87.98 198.24,84.7 198.28,81.32 198.32,77.85 198.37,74.35 198.41,70.85 198.46,67.38 198.5,64 198.55,60.72 198.59,57.6 198.64,54.66 198.68,51.93 198.73,49.45 198.77,47.25 198.81,45.34 198.86,43.75 198.9,42.49 198.95,41.58 198.99,41.03 199.04,40.85 199.08,41.03 199.13,41.58 199.17,42.49 199.22,43.75 199.26,45.34 199.3,47.25 199.35,49.45 199.39,51.93 199.44,54.66 199.48,57.6 199.53,60.72 199.57,64 199.62,67.38 199.66,70.85 199.71,74.35 199.75,77.85 199.79,81.32 199.84,84.7 199.88,87.98 199.93,91.1 199.97,94.04 200.02,96.77 200.06,99.25 200.11,101.45 200.15,103.36 200.2,104.95 200.24,106.21 200.28,107.12 200.33,107.67 200.37,107.85 200.42,111.02 200.46,110.47 200.51,109.56 200.55,108.3 200.6,106.71 200.64,104.8 200.69,102.6 200.73,100.12 200.77,97.39 200.82,94.45 200.86,91.33 200.91,88.05 200.95,84.67 201,81.2 201.04,77.7 201.09,74.2 201.13,70.73 201.18,67.35 201.22,64.07 201.26,60.95 201.31,58.01 201.35,55.28 201.4,52.8 201.44,50.6 201.49,48.69 201.53,47.1 201.58,45.84 201.62,44.93 201.67,44.38 201.71,44.2 201.75,44.38 201.8,44.93 201.84,45.84 201.89,47.1 201.93,48.69 201.98,50.6 202.02,52.8 202.07,55.28 202.11,58.01 202.16,60.95 202.2,64.07 202.24,67.35 202.29,70.73 202.33,74.2 202.38,77.7 202.42,81.2 202.47,84.67 202.51,88.05 202.56,91.33 202.6,94.45 202.65,97.39 202.69,100.12 202.73,102.6 202.78,104.8 202.82,106.71 202.87,108.3 202.91,109.56 202.96,110.47 203,111.02 203.05,111.2 203.09,111.02 203.14,110.47 203.18,109.56 203.22,108.3 203.27,106.71 203.31,104.8 203.36,102.6 203.4,100.12 203.45,97.39 203.49,94.45 203.54,91.33 203.58,88.05 203.63,84.67 203.67,81.2 203.72,77.7 203.76,74.2 203.8,70.73 203.85,67.35 203.89,64.07 203.94,60.95 203.98,58.01 204.03,55.28 204.07,52.8 204.12,50.6 204.16,48.69 204.21,47.1 204.25,45.84 204.29,44.93 204.34,44.38 204.38,44.2 204.43,44.38 204.47,44.93 204.52,45.84 204.56,47.1 204.61,48.69 204.65,50.6 204.7,52.8 204.74,55.28 204.78,58.01 204.83,60.95 204.87,64.07 204.92,67.35 204.96,70.73 205.01,74.2 205.05,77.7 205.1,81.2 205.14,84.67 205.19,88.05 205.23,91.33 205.27,94.45 205.32,97.39 205.36,100.12 205.41,102.6 205.45,104.8 205.5,106.71 205.54,108.3 205.59,109.56 205.63,110.47 205.68,111.02 205.72,111.2 205.76,111.02 205.81,110.47 205.85,109.56 205.9,108.3 205.94,106.71 205.99,104.8 206.03,102.6 206.08,100.12 206.12,97.39 206.17,94.45 206.21,91.33 206.25,88.05 206.3,84.67 206.34,81.2 206.39,77.7 206.43,74.2 206.48,70.73 206.52,67.35 206.57,64.07 206.61,60.95 206.66,58.01 206.7,55.28 206.74,52.8 206.79,50.6 206.83,48.69 206.88,47.1 206.92,45.84 206.97,44.93 207.01,44.38 207.06,44.2 207.1,47.73 207.15,48.28 207.19,49.19 207.23,50.45 207.28,52.04 207.32,53.95 207.37,56.15 207.41,58.63 207.46,61.36 207.5,64.3 207.55,67.42 207.59,70.7 207.64,74.08 207.68,77.55 207.72,81.05 207.77,84.55 207.81,88.02 207.86,91.4 207.9,94.68 207.95,97.8 207.99,100.74 208.04,103.47 208.08,105.95 208.13,108.15 208.17,110.06 208.21,111.65 208.26,112.91 208.3,113.82 208.35,114.37 208.39,114.55 208.44,114.37 208.48,113.82 208.53,112.91 208.57,111.65 208.62,110.06 208.66,108.15 208.7,105.95 208.75,103.47 208.79,100.74 208.84,97.8 208.88,94.68 208.93,91.4 208.97,88.02 209.02,84.55 209.06,81.05 209.11,77.55 209.15,74.08 209.19,70.7 209.24,67.42 209.28,64.3 209.33,61.36 209.37,58.63 209.42,56.15 209.46,53.95 209.51,52.04 209.55,50.45 209.6,49.19 209.64,48.28 209.68,47.73 209.73,47.55 209.77,47.73 209.82,48.28 209.86,49.19 209.91,50.45 209.95,52.04 210,53.95 210.04,56.15 210.09,58.63 210.13,61.36 210.17,64.3 210.22,67.42 210.26,70.7 210.31,74.08 210.35,77.55 210.4,81.05 210.44,84.55 210.49,88.02 210.53,91.4 210.58,94.68 210.62,97.8 210.66,100.74 210.71,103.47 210.75,105.95 210.8,108.15 210.84,110.06 210.89,111.65 210.93,112.91 210.98,113.82 211.02,114.37 211.07,114.55 211.11,114.37 211.15,113.82 211.2,112.91 211.24,111.65 211.29,110.06 211.33,108.15 211.38,105.95 211.42,103.47 211.47,100.74 211.51,97.8 211.56,94.68 211.6,91.4 211.64,88.02 211.69,84.55 211.73,81.05 211.78,77.55 211.82,74.08 211.87,70.7 211.91,67.42 211.96,64.3 212,61.36 212.05,58.63 212.09,56.15 212.13,53.95 212.18,52.04 212.22,50.45 212.27,49.19 212.31,48.28 212.36,47.73 212.4,47.55 212.45,47.73 212.49,48.28 212.54,49.19 212.58,50.45 212.62,52.04 212.67,53.95 212.71,56.15 212.76,58.63 212.8,61.36 212.85,64.3 212.89,67.42 212.94,70.7 212.98,74.08 213.03,77.55 213.07,81.05 213.12,84.55 213.16,88.02 213.2,91.4 213.25,94.68 213.29,97.8 213.34,100.74 213.38,103.47 213.43,105.95 213.47,108.15 213.52,110.06 213.56,111.65 213.61,112.91 213.65,113.82 213.69,114.37 213.74,114.55 213.78,117.72 213.83,117.17 213.87,116.26 213.92,115 213.96,113.41 214.01,111.5 214.05,109.3 214.1,106.82 214.14,104.09 214.18,101.15 214.23,98.03 214.27,94.75 214.32,91.37 214.36,87.9 214.41,84.4 214.45,80.9 214.5,77.43 214.54,74.05 214.59,70.77 214.63,67.65 214.67,64.71 214.72,61.98 214.76,59.5 214.81,57.3 214.85,55.39 214.9,53.8 214.94,52.54 214.99,51.63 215.03,51.08 215.08,50.9 215.12,51.08 215.16,51.63 215.21,52.54 215.25,53.8 215.3,55.39 215.34,57.3 215.39,59.5 215.43,61.98 215.48,64.71 215.52,67.65 215.57,70.77 215.61,74.05 215.65,77.43 215.7,80.9 215.74,84.4 215.79,87.9 215.83,91.37 215.88,94.75 215.92,98.03 215.97,101.15 216.01,104.09 216.06,106.82 216.1,109.3 216.14,111.5 216.19,113.41 216.23,115 216.28,116.26 216.32,117.17 216.37,117.72 216.41,117.9 216.46,117.72 216.5,117.17 216.55,116.26 216.59,115 216.63,113.41 216.68,111.5 216.72,109.3 216.77,106.82 216.81,104.09 216.86,101.15 216.9,98.03 216.95,94.75 216.99,91.37 217.04,87.9 217.08,84.4 217.12,80.9 217.17,77.43 217.21,74.05 217.26,70.77 217.3,67.65 217.35,64.71 217.39,61.98 217.44,59.5 217.48,57.3 217.53,55.39 217.57,53.8 217.61,52.54 217.66,51.63 217.7,51.08 217.75,50.9 217.79,51.08 217.84,51.63 217.88,52.54 217.93,53.8 217.97,55.39 218.02,57.3 218.06,59.5 218.1,61.98 218.15,64.71 218.19,67.65 218.24,70.77 218.28,74.05 218.33,77.43 218.37,80.9 218.42,84.4 218.46,87.9 218.51,91.37 218.55,94.75 218.59,98.03 218.64,101.15 218.68,104.09 218.73,106.82 218.77,109.3 218.82,111.5 218.86,113.41 218.91,115 218.95,116.26 219,117.17 219.04,117.72 219.08,117.9 219.13,117.72 219.17,117.17 219.22,116.26 219.26,115 219.31,113.41 219.35,111.5 219.4,109.3 219.44,106.82 219.49,104.09 219.53,101.15 219.57,98.03 219.62,94.75 219.66,91.37 219.71,87.9 219.75,84.4 219.8,80.9 219.84,77.43 219.89,74.05 219.93,70.77 219.98,67.65 220.02,64.71 220.06,61.98 220.11,59.5 220.15,57.3 220.2,55.39 220.24,53.8 220.29,52.54 220.33,51.63 220.38,51.08 220.42,50.9 220.47,54.43 220.51,54.98 220.55,55.89 220.6,57.15 220.64,58.74 220.69,60.65 220.73,62.85 220.78,65.33 220.82,68.06 220.87,71 220.91,74.12 220.96,77.4 221,80.78 221.04,84.25 221.09,87.75 221.13,91.25 221.18,94.72 221.22,98.1 221.27,101.38 221.31,104.5 221.36,107.44 221.4,110.17 221.45,112.65 221.49,114.85 221.54,116.76 221.58,118.35 221.62,119.61 221.67,120.52 221.71,121.07 221.76,121.25 221.8,121.07 221.85,120.52 221.89,119.61 221.94,118.35 221.98,116.76 222.03,114.85 222.07,112.65 222.11,110.17 222.16,107.44 222.2,104.5 222.25,101.38 222.29,98.1 222.34,94.72 222.38,91.25 222.43,87.75 222.47,84.25 222.52,80.78 222.56,77.4 222.6,74.12 222.65,71 222.69,68.06 222.74,65.33 222.78,62.85 222.83,60.65 222.87,58.74 222.92,57.15 222.96,55.89 223.01,54.98 223.05,54.43 223.09,54.25 223.14,54.43 223.18,54.98 223.23,55.89 223.27,57.15 223.32,58.74 223.36,60.65 223.41,62.85 223.45,65.33 223.5,68.06 223.54,71 223.58,74.12 223.63,77.4 223.67,80.78 223.72,84.25 223.76,87.75 223.81,91.25 223.85,94.72 223.9,98.1 223.94,101.38 223.99,104.5 224.03,107.44 224.07,110.17 224.12,112.65 224.16,114.85 224.21,116.76 224.25,118.35 224.3,119.61 224.34,120.52 224.39,121.07 224.43,121.25 224.48,121.07 224.52,120.52 224.56,119.61 224.61,118.35 224.65,116.76 224.7,114.85 224.74,112.65 224.79,110.17 224.83,107.44 224.88,104.5 224.92,101.38 224.97,98.1 225.01,94.72 225.05,91.25 225.1,87.75 225.14,84.25 225.19,80.78 225.23,77.4 225.28,74.12 225.32,71 225.37,68.06 225.41,65.33 225.46,62.85 225.5,60.65 225.54,58.74 225.59,57.15 225.63,55.89 225.68,54.98 225.72,54.43 225.77,54.25 225.81,54.43 225.86,54.98 225.9,55.89 225.95,57.15 225.99,58.74 226.03,60.65 226.08,62.85 226.12,65.33 226.17,68.06 226.21,71 226.26,74.12 226.3,77.4 226.35,80.78 226.39,84.25 226.44,87.75 226.48,91.25 226.52,94.72 226.57,98.1 226.61,101.38 226.66,104.5 226.7,107.44 226.75,110.17 226.79,112.65 226.84,114.85 226.88,116.76 226.93,118.35 226.97,119.61 227.01,120.52 227.06,121.07 227.1,121.25 227.15,124.42 227.19,123.87 227.24,122.96 227.28,121.7 227.33,120.11 227.37,118.2 227.42,116 227.46,113.52 227.5,110.79 227.55,107.85 227.59,104.73 227.64,101.45 227.68,98.07 227.73,94.6 227.77,91.1 227.82,87.6 227.86,84.13 227.91,80.75 227.95,77.47 227.99,74.35 228.04,71.41 228.08,68.68 228.13,66.2 228.17,64 228.22,62.09 228.26,60.5 228.31,59.24 228.35,58.33 228.4,57.78 228.44,57.6 228.48,57.78 228.53,58.33 228.57,59.24 228.62,60.5 228.66,62.09 228.71,64 228.75,66.2 228.8,68.68 228.84,71.41 228.89,74.35 228.93,77.47 228.97,80.75 229.02,84.13 229.06,87.6 229.11,91.1 229.15,94.6 229.2,98.07 229.24,101.45 229.29,104.73 229.33,107.85 229.38,110.79 229.42,113.52 229.46,116 229.51,118.2 229.55,120.11 229.6,121.7 229.64,122.96 229.69,123.87 229.73,124.42 229.78,124.6 229.82,124.42 229.87,123.87 229.91,122.96 229.95,121.7 230,120.11 230.04,118.2 230.09,116 230.13,113.52 230.18,110.79 230.22,107.85 230.27,104.73 230.31,101.45 230.36,98.07 230.4,94.6 230.44,91.1 230.49,87.6 230.53,84.13 230.58,80.75 230.62,77.47 230.67,74.35 230.71,71.41 230.76,68.68 230.8,66.2 230.85,64 230.89,62.09 230.94,60.5 230.98,59.24 231.02,58.33 231.07,57.78 231.11,57.6 231.16,57.78 231.2,58.33 231.25,59.24 231.29,60.5 231.34,62.09 231.38,64 231.43,66.2 231.47,68.68 231.51,71.41 231.56,74.35 231.6,77.47 231.65,80.75 231.69,84.13 231.74,87.6 231.78,91.1 231.83,94.6 231.87,98.07 231.92,101.45 231.96,104.73 232,107.85 232.05,110.79 232.09,113.52 232.14,116 232.18,118.2 232.23,120.11 232.27,121.7 232.32,122.96 232.36,123.87 232.41,124.42 232.45,124.6 232.49,124.42 232.54,123.87 232.58,122.96 232.63,121.7 232.67,120.11 232.72,118.2 232.76,116 232.81,113.52 232.85,110.79 232.9,107.85 232.94,104.73 232.98,101.45 233.03,98.07 233.07,94.6 233.12,91.1 233.16,87.6 233.21,84.13 233.25,80.75 233.3,77.47 233.34,74.35 233.39,71.41 233.43,68.68 233.47,66.2 233.52,64 233.56,62.09 233.61,60.5 233.65,59.24 233.7,58.33 233.74,57.78 233.79,57.6 233.83,61.13 233.88,61.68 233.92,62.59 233.96,63.85 234.01,65.44 234.05,67.35 234.1,69.55 234.14,72.03 234.19,74.76 234.23,77.7 234.28,80.82 234.32,84.1 234.37,87.48 234.41,90.95 234.45,94.45 234.5,97.95 234.54,101.42 234.59,104.8 234.63,108.08 234.68,111.2 234.72,114.14 234.77,116.87 234.81,119.35 234.86,121.55 234.9,123.46 234.94,125.05 234.99,126.31 235.03,127.22 235.08,127.77 235.12,127.95 235.17,127.77 235.21,127.22 235.26,126.31 235.3,125.05 235.35,123.46 235.39,121.55 235.43,119.35 235.48,116.87 235.52,114.14 235.57,111.2 235.61,108.08 235.66,104.8 235.7,101.42 235.75,97.95 235.79,94.45 235.84,90.95 235.88,87.48 235.92,84.1 235.97,80.82 236.01,77.7 236.06,74.76 236.1,72.03 236.15,69.55 236.19,67.35 236.24,65.44 236.28,63.85 236.33,62.59 236.37,61.68 236.41,61.13 236.46,60.95 236.5,61.13 236.55,61.68 236.59,62.59 236.64,63.85 236.68,65.44 236.73,67.35 236.77,69.55 236.82,72.03 236.86,74.76 236.9,77.7 236.95,80.82 236.99,84.1 237.04,87.48 237.08,90.95 237.13,94.45 237.17,97.95 237.22,101.42 237.26,104.8 237.31,108.08 237.35,111.2 237.39,114.14 237.44,116.87 237.48,119.35 237.53,121.55 237.57,123.46 237.62,125.05 237.66,126.31 237.71,127.22 237.75,127.77 237.8,127.95 237.84,127.77 237.88,127.22 237.93,126.31 237.97,125.05 238.02,123.46 238.06,121.55 238.11,119.35 238.15,116.87 238.2,114.14 238.24,111.2 238.29,108.08 238.33,104.8 238.37,101.42 238.42,97.95 238.46,94.45 238.51,90.95 238.55,87.48 238.6,84.1 238.64,80.82 238.69,77.7 238.73,74.76 238.78,72.03 238.82,69.55 238.86,67.35 238.91,65.44 238.95,63.85 239,62.59 239.04,61.68 239.09,61.13 239.13,60.95 239.18,61.13 239.22,61.68 239.27,62.59 239.31,63.85 239.36,65.44 239.4,67.35 239.44,69.55 239.49,72.03 239.53,74.76 239.58,77.7 239.62,80.82 239.67,84.1 239.71,87.48 239.76,90.95 239.8,94.45 239.85,97.95 239.89,101.42 239.93,104.8 239.98,108.08 240.02,111.2 240.07,114.14 240.11,116.87 240.16,119.35 240.2,121.55 240.25,123.46 240.29,125.05 240.34,126.31 240.38,127.22 240.42,127.77 240.47,127.95 240.51,131.12 240.56,130.57 240.6,129.66 240.65,128.4 240.69,126.81 240.74,124.9 240.78,122.7 240.83,120.22 240.87,117.49 240.91,114.55 240.96,111.43 241,108.15 241.05,104.77 241.09,101.3 241.14,97.8 241.18,94.3 241.23,90.83 241.27,87.45 241.32,84.17 241.36,81.05 241.4,78.11 241.45,75.38 241.49,72.9 241.54,70.7 241.58,68.79 241.63,67.2 241.67,65.94 241.72,65.03 241.76,64.48 241.81,64.3 241.85,64.48 241.89,65.03 241.94,65.94 241.98,67.2 242.03,68.79 242.07,70.7 242.12,72.9 242.16,75.38 242.21,78.11 242.25,81.05 242.3,84.17 242.34,87.45 242.38,90.83 242.43,94.3 242.47,97.8 242.52,101.3 242.56,104.77 242.61,108.15 242.65,111.43 242.7,114.55 242.74,117.49 242.79,120.22 242.83,122.7 242.87,124.9 242.92,126.81 242.96,128.4 243.01,129.66 243.05,130.57 243.1,131.12 243.14,131.3 243.19,131.12 243.23,130.57 243.28,129.66 243.32,128.4 243.36,126.81 243.41,124.9 243.45,122.7 243.5,120.22 243.54,117.49 243.59,114.55 243.63,111.43 243.68,108.15 243.72,104.77 243.77,101.3 243.81,97.8 243.85,94.3 243.9,90.83 243.94,87.45 243.99,84.17 244.03,81.05 244.08,78.11 244.12,75.38 244.17,72.9 244.21,70.7 244.26,68.79 244.3,67.2 244.34,65.94 244.39,65.03 244.43,64.48 244.48,64.3 244.52,64.48 244.57,65.03 244.61,65.94 244.66,67.2 244.7,68.79 244.75,70.7 244.79,72.9 244.83,75.38 244.88,78.11 244.92,81.05 244.97,84.17 245.01,87.45 245.06,90.83 245.1,94.3 245.15,97.8 245.19,101.3 245.24,104.77 245.28,108.15 245.32,111.43 245.37,114.55 245.41,117.49 245.46,120.22 245.5,122.7 245.55,124.9 245.59,126.81 245.64,128.4 245.68,129.66 245.73,130.57 245.77,131.12 245.81,131.3 245.86,131.12 245.9,130.57 245.95,129.66 245.99,128.4 246.04,126.81 246.08,124.9 246.13,122.7 246.17,120.22 246.22,117.49 246.26,114.55 246.3,111.43 246.35,108.15 246.39,104.77 246.44,101.3 246.48,97.8 246.53,94.3 246.57,90.83 246.62,87.45 246.66,84.17 246.71,81.05 246.75,78.11 246.79,75.38 246.84,72.9 246.88,70.7 246.93,68.79 246.97,67.2 247.02,65.94 247.06,65.03 247.11,64.48 247.15,64.3 247.2,67.83 247.24,68.38 247.28,69.29 247.33,70.55 247.37,72.14 247.42,74.05 247.46,76.25 247.51,78.73 247.55,81.46 247.6,84.4 247.64,87.52 247.69,90.8 247.73,94.18 247.77,97.65 247.82,101.15 247.86,104.65 247.91,108.12 247.95,111.5 248,114.78 248.04,117.9 248.09,120.84 248.13,123.57 248.18,126.05 248.22,128.25 248.26,130.16 248.31,131.75 248.35,133.01 248.4,133.92 248.44,134.47 248.49,134.65 248.53,134.47 248.58,133.92 248.62,133.01 248.67,131.75 248.71,130.16 248.76,128.25 248.8,126.05 248.84,123.57 248.89,120.84 248.93,117.9 248.98,114.78 249.02,111.5 249.07,108.12 249.11,104.65 249.16,101.15 249.2,97.65 249.25,94.18 249.29,90.8 249.33,87.52 249.38,84.4 249.42,81.46 249.47,78.73 249.51,76.25 249.56,74.05 249.6,72.14 249.65,70.55 249.69,69.29 249.74,68.38 249.78,67.83 249.82,67.65 249.87,67.83 249.91,68.38 249.96,69.29 250,70.55 250.05,72.14 250.09,74.05 250.14,76.25 250.18,78.73 250.23,81.46 250.27,84.4 250.31,87.52 250.36,90.8 250.4,94.18 250.45,97.65 250.49,101.15 250.54,104.65 250.58,108.12 250.63,111.5 250.67,114.78 250.72,117.9 250.76,120.84 250.8,123.57 250.85,126.05 250.89,128.25 250.94,130.16 250.98,131.75 251.03,133.01 251.07,133.92 251.12,134.47 251.16,134.65 251.21,134.47 251.25,133.92 251.29,133.01 251.34,131.75 251.38,130.16 251.43,128.25 251.47,126.05 251.52,123.57 251.56,120.84 251.61,117.9 251.65,114.78 251.7,111.5 251.74,108.12 251.78,104.65 251.83,101.15 251.87,97.65 251.92,94.18 251.96,90.8 252.01,87.52 252.05,84.4 252.1,81.46 252.14,78.73 252.19,76.25 252.23,74.05 252.27,72.14 252.32,70.55 252.36,69.29 252.41,68.38 252.45,67.83 252.5,67.65 252.54,67.83 252.59,68.38 252.63,69.29 252.68,70.55 252.72,72.14 252.76,74.05 252.81,76.25 252.85,78.73 252.9,81.46 252.94,84.4 252.99,87.52 253.03,90.8 253.08,94.18 253.12,97.65 253.17,101.15 253.21,104.65 253.25,108.12 253.3,111.5 253.34,114.78 253.39,117.9 253.43,120.84 253.48,123.57 253.52,126.05 253.57,128.25 253.61,130.16 253.66,131.75 253.7,133.01 253.74,133.92 253.79,134.47 253.83,134.65 253.88,137.82 253.92,137.27 253.97,136.36 254.01,135.1 254.06,133.51 254.1,131.6 254.15,129.4 254.19,126.92 254.23,124.19 254.28,121.25 254.32,118.13 254.37,114.85 254.41,111.47 254.46,108 254.5,104.5 254.55,101 254.59,97.53 254.64,94.15 254.68,90.87 254.72,87.75 254.77,84.81 254.81,82.08 254.86,79.6 254.9,77.4 254.95,75.49 254.99,73.9 255.04,72.64 255.08,71.73 255.13,71.18 255.17,71 255.21,71.18 255.26,71.73 255.3,72.64 255.35,73.9 255.39,75.49 255.44,77.4 255.48,79.6 255.53,82.08 255.57,84.81 255.62,87.75 255.66,90.87 255.7,94.15 255.75,97.53 255.79,101 255.84,104.5 255.88,108 255.93,111.47 255.97,114.85 256.02,118.13 256.06,121.25 256.11,124.19 256.15,126.92 256.19,129.4 256.24,131.6 256.28,133.51 256.33,135.1 256.37,136.36 256.42,137.27 256.46,137.82 256.51,138 256.55,137.82 256.6,137.27 256.64,136.36 256.68,135.1 256.73,133.51 256.77,131.6 256.82,129.4 256.86,126.92 256.91,124.19 256.95,121.25 257,118.13 257.04,114.85 257.09,111.47 257.13,108 257.18,104.5 257.22,101 257.26,97.53 257.31,94.15 257.35,90.87 257.4,87.75 257.44,84.81 257.49,82.08 257.53,79.6 257.58,77.4 257.62,75.49 257.67,73.9 257.71,72.64 257.75,71.73 257.8,71.18 257.84,71 257.89,71.18 257.93,71.73 257.98,72.64 258.02,73.9 258.07,75.49 258.11,77.4 258.16,79.6 258.2,82.08 258.24,84.81 258.29,87.75 258.33,90.87 258.38,94.15 258.42,97.53 258.47,101 258.51,104.5 258.56,108 258.6,111.47 258.65,114.85 258.69,118.13 258.73,121.25 258.78,124.19 258.82,126.92 258.87,129.4 258.91,131.6 258.96,133.51 259,135.1 259.05,136.36 259.09,137.27 259.14,137.82 259.18,138 259.22,137.82 259.27,137.27 259.31,136.36 259.36,135.1 259.4,133.51 259.45,131.6 259.49,129.4 259.54,126.92 259.58,124.19 259.63,121.25 259.67,118.13 259.71,114.85 259.76,111.47 259.8,108 259.85,104.5 259.89,101 259.94,97.53 259.98,94.15 260.03,90.87 260.07,87.75 260.12,84.81 260.16,82.08 260.2,79.6 260.25,77.4 260.29,75.49 260.34,73.9 260.38,72.64 260.43,71.73 260.47,71.18 260.52,67.65 260.56,67.83 260.61,68.38 260.65,69.29 260.69,70.55 260.74,72.14 260.78,74.05 260.83,76.25 260.87,78.73 260.92,81.46 260.96,84.4 261.01,87.52 261.05,90.8 261.1,94.18 261.14,97.65 261.18,101.15 261.23,104.65 261.27,108.12 261.32,111.5 261.36,114.78 261.41,117.9 261.45,120.84 261.5,123.57 261.54,126.05 261.59,128.25 261.63,130.16 261.67,131.75 261.72,133.01 261.76,133.92 261.81,134.47 261.85,134.65 261.9,134.47 261.94,133.92 261.99,133.01 262.03,131.75 262.08,130.16 262.12,128.25 262.16,126.05 262.21,123.57 262.25,120.84 262.3,117.9 262.34,114.78 262.39,111.5 262.43,108.12 262.48,104.65 262.52,101.15 262.57,97.65 262.61,94.18 262.65,90.8 262.7,87.52 262.74,84.4 262.79,81.46 262.83,78.73 262.88,76.25 262.92,74.05 262.97,72.14 263.01,70.55 263.06,69.29 263.1,68.38 263.14,67.83 263.19,67.65 263.23,67.83 263.28,68.38 263.32,69.29 263.37,70.55 263.41,72.14 263.46,74.05 263.5,76.25 263.55,78.73 263.59,81.46 263.63,84.4 263.68,87.52 263.72,90.8 263.77,94.18 263.81,97.65 263.86,101.15 263.9,104.65 263.95,108.12 263.99,111.5 264.04,114.78 264.08,117.9 264.12,120.84 264.17,123.57 264.21,126.05 264.26,128.25 264.3,130.16 264.35,131.75 264.39,133.01 264.44,133.92 264.48,134.47 264.53,134.65 264.57,134.47 264.61,133.92 264.66,133.01 264.7,131.75 264.75,130.16 264.79,128.25 264.84,126.05 264.88,123.57 264.93,120.84 264.97,117.9 265.02,114.78 265.06,111.5 265.1,108.12 265.15,104.65 265.19,101.15 265.24,97.65 265.28,94.18 265.33,90.8 265.37,87.52 265.42,84.4 265.46,81.46 265.51,78.73 265.55,76.25 265.59,74.05 265.64,72.14 265.68,70.55 265.73,69.29 265.77,68.38 265.82,67.83 265.86,67.65 265.91,67.83 265.95,68.38 266,69.29 266.04,70.55 266.09,72.14 266.13,74.05 266.17,76.25 266.22,78.73 266.26,81.46 266.31,84.4 266.35,87.52 266.4,90.8 266.44,94.18 266.49,97.65 266.53,101.15 266.58,104.65 266.62,108.12 266.66,111.5 266.71,114.78 266.75,117.9 266.8,120.84 266.84,123.57 266.89,126.05 266.93,128.25 266.98,130.16 267.02,131.75 267.07,133.01 267.11,133.92 267.15,134.47 267.2,131.3 267.24,131.12 267.29,130.57 267.33,129.66 267.38,128.4 267.42,126.81 267.47,124.9 267.51,122.7 267.56,120.22 267.6,117.49 267.64,114.55 267.69,111.43 267.73,108.15 267.78,104.77 267.82,101.3 267.87,97.8 267.91,94.3 267.96,90.83 268,87.45 268.05,84.17 268.09,81.05 268.13,78.11 268.18,75.38 268.22,72.9 268.27,70.7 268.31,68.79 268.36,67.2 268.4,65.94 268.45,65.03 268.49,64.48 268.54,64.3 268.58,64.48 268.62,65.03 268.67,65.94 268.71,67.2 268.76,68.79 268.8,70.7 268.85,72.9 268.89,75.38 268.94,78.11 268.98,81.05 269.03,84.17 269.07,87.45 269.11,90.83 269.16,94.3 269.2,97.8 269.25,101.3 269.29,104.77 269.34,108.15 269.38,111.43 269.43,114.55 269.47,117.49 269.52,120.22 269.56,122.7 269.6,124.9 269.65,126.81 269.69,128.4 269.74,129.66 269.78,130.57 269.83,131.12 269.87,131.3 269.92,131.12 269.96,130.57 270.01,129.66 270.05,128.4 270.09,126.81 270.14,124.9 270.18,122.7 270.23,120.22 270.27,117.49 270.32,114.55 270.36,111.43 270.41,108.15 270.45,104.77 270.5,101.3 270.54,97.8 270.58,94.3 270.63,90.83 270.67,87.45 270.72,84.17 270.76,81.05 270.81,78.11 270.85,75.38 270.9,72.9 270.94,70.7 270.99,68.79 271.03,67.2 271.07,65.94 271.12,65.03 271.16,64.48 271.21,64.3 271.25,64.48 271.3,65.03 271.34,65.94 271.39,67.2 271.43,68.79 271.48,70.7 271.52,72.9 271.56,75.38 271.61,78.11 271.65,81.05 271.7,84.17 271.74,87.45 271.79,90.83 271.83,94.3 271.88,97.8 271.92,101.3 271.97,104.77 272.01,108.15 272.05,111.43 272.1,114.55 272.14,117.49 272.19,120.22 272.23,122.7 272.28,124.9 272.32,126.81 272.37,128.4 272.41,129.66 272.46,130.57 272.5,131.12 272.54,131.3 272.59,131.12 272.63,130.57 272.68,129.66 272.72,128.4 272.77,126.81 272.81,124.9 272.86,122.7 272.9,120.22 272.95,117.49 272.99,114.55 273.03,111.43 273.08,108.15 273.12,104.77 273.17,101.3 273.21,97.8 273.26,94.3 273.3,90.83 273.35,87.45 273.39,84.17 273.44,81.05 273.48,78.11 273.52,75.38 273.57,72.9 273.61,70.7 273.66,68.79 273.7,67.2 273.75,65.94 273.79,65.03 273.84,64.48 273.88,60.95 273.93,61.13 273.97,61.68 274.01,62.59 274.06,63.85 274.1,65.44 274.15,67.35 274.19,69.55 274.24,72.03 274.28,74.76 274.33,77.7 274.37,80.82 274.42,84.1 274.46,87.48 274.5,90.95 274.55,94.45 274.59,97.95 274.64,101.42 274.68,104.8 274.73,108.08 274.77,111.2 274.82,114.14 274.86,116.87 274.91,119.35 274.95,121.55 275,123.46 275.04,125.05 275.08,126.31 275.13,127.22 275.17,127.77 275.22,127.95 275.26,127.77 275.31,127.22 275.35,126.31 275.4,125.05 275.44,123.46 275.49,121.55 275.53,119.35 275.57,116.87 275.62,114.14 275.66,111.2 275.71,108.08 275.75,104.8 275.8,101.42 275.84,97.95 275.89,94.45 275.93,90.95 275.98,87.48 276.02,84.1 276.06,80.82 276.11,77.7 276.15,74.76 276.2,72.03 276.24,69.55 276.29,67.35 276.33,65.44 276.38,63.85 276.42,62.59 276.47,61.68 276.51,61.13 276.55,60.95 276.6,61.13 276.64,61.68 276.69,62.59 276.73,63.85 276.78,65.44 276.82,67.35 276.87,69.55 276.91,72.03 276.96,74.76 277,77.7 277.04,80.82 277.09,84.1 277.13,87.48 277.18,90.95 277.22,94.45 277.27,97.95 277.31,101.42 277.36,104.8 277.4,108.08 277.45,111.2 277.49,114.14 277.53,116.87 277.58,119.35 277.62,121.55 277.67,123.46 277.71,125.05 277.76,126.31 277.8,127.22 277.85,127.77 277.89,127.95 277.94,127.77 277.98,127.22 278.02,126.31 278.07,125.05 278.11,123.46 278.16,121.55 278.2,119.35 278.25,116.87 278.29,114.14 278.34,111.2 278.38,108.08 278.43,104.8 278.47,101.42 278.51,97.95 278.56,94.45 278.6,90.95 278.65,87.48 278.69,84.1 278.74,80.82 278.78,77.7 278.83,74.76 278.87,72.03 278.92,69.55 278.96,67.35 279,65.44 279.05,63.85 279.09,62.59 279.14,61.68 279.18,61.13 279.23,60.95 279.27,61.13 279.32,61.68 279.36,62.59 279.41,63.85 279.45,65.44 279.49,67.35 279.54,69.55 279.58,72.03 279.63,74.76 279.67,77.7 279.72,80.82 279.76,84.1 279.81,87.48 279.85,90.95 279.9,94.45 279.94,97.95 279.98,101.42 280.03,104.8 280.07,108.08 280.12,111.2 280.16,114.14 280.21,116.87 280.25,119.35 280.3,121.55 280.34,123.46 280.39,125.05 280.43,126.31 280.47,127.22 280.52,127.77 280.56,124.6 280.61,124.42 280.65,123.87 280.7,122.96 280.74,121.7 280.79,120.11 280.83,118.2 280.88,116 280.92,113.52 280.96,110.79 281.01,107.85 281.05,104.73 281.1,101.45 281.14,98.07 281.19,94.6 281.23,91.1 281.28,87.6 281.32,84.13 281.37,80.75 281.41,77.47 281.45,74.35 281.5,71.41 281.54,68.68 281.59,66.2 281.63,64 281.68,62.09 281.72,60.5 281.77,59.24 281.81,58.33 281.86,57.78 281.9,57.6 281.94,57.78 281.99,58.33 282.03,59.24 282.08,60.5 282.12,62.09 282.17,64 282.21,66.2 282.26,68.68 282.3,71.41 282.35,74.35 282.39,77.47 282.43,80.75 282.48,84.13 282.52,87.6 282.57,91.1 282.61,94.6 282.66,98.07 282.7,101.45 282.75,104.73 282.79,107.85 282.84,110.79 282.88,113.52 282.92,116 282.97,118.2 283.01,120.11 283.06,121.7 283.1,122.96 283.15,123.87 283.19,124.42 283.24,124.6 283.28,124.42 283.33,123.87 283.37,122.96 283.41,121.7 283.46,120.11 283.5,118.2 283.55,116 283.59,113.52 283.64,110.79 283.68,107.85 283.73,104.73 283.77,101.45 283.82,98.07 283.86,94.6 283.91,91.1 283.95,87.6 283.99,84.13 284.04,80.75 284.08,77.47 284.13,74.35 284.17,71.41 284.22,68.68 284.26,66.2 284.31,64 284.35,62.09 284.4,60.5 284.44,59.24 284.48,58.33 284.53,57.78 284.57,57.6 284.62,57.78 284.66,58.33 284.71,59.24 284.75,60.5 284.8,62.09 284.84,64 284.89,66.2 284.93,68.68 284.97,71.41 285.02,74.35 285.06,77.47 285.11,80.75 285.15,84.13 285.2,87.6 285.24,91.1 285.29,94.6 285.33,98.07 285.38,101.45 285.42,104.73 285.46,107.85 285.51,110.79 285.55,113.52 285.6,116 285.64,118.2 285.69,120.11 285.73,121.7 285.78,122.96 285.82,123.87 285.87,124.42 285.91,124.6 285.95,124.42 286,123.87 286.04,122.96 286.09,121.7 286.13,120.11 286.18,118.2 286.22,116 286.27,113.52 286.31,110.79 286.36,107.85 286.4,104.73 286.44,101.45 286.49,98.07 286.53,94.6 286.58,91.1 286.62,87.6 286.67,84.13 286.71,80.75 286.76,77.47 286.8,74.35 286.85,71.41 286.89,68.68 286.93,66.2 286.98,64 287.02,62.09 287.07,60.5 287.11,59.24 287.16,58.33 287.2,57.78 287.25,54.25 287.29,54.43 287.34,54.98 287.38,55.89 287.42,57.15 287.47,58.74 287.51,60.65 287.56,62.85 287.6,65.33 287.65,68.06 287.69,71 287.74,74.12 287.78,77.4 287.83,80.78 287.87,84.25 287.91,87.75 287.96,91.25 288,94.72 288.05,98.1 288.09,101.38 288.14,104.5 288.18,107.44 288.23,110.17 288.27,112.65 288.32,114.85 288.36,116.76 288.4,118.35 288.45,119.61 288.49,120.52 288.54,121.07 288.58,121.25 288.63,121.07 288.67,120.52 288.72,119.61 288.76,118.35 288.81,116.76 288.85,114.85 288.89,112.65 288.94,110.17 288.98,107.44 289.03,104.5 289.07,101.38 289.12,98.1 289.16,94.72 289.21,91.25 289.25,87.75 289.3,84.25 289.34,80.78 289.38,77.4 289.43,74.12 289.47,71 289.52,68.06 289.56,65.33 289.61,62.85 289.65,60.65 289.7,58.74 289.74,57.15 289.79,55.89 289.83,54.98 289.87,54.43 289.92,54.25 289.96,54.43 290.01,54.98 290.05,55.89 290.1,57.15 290.14,58.74 290.19,60.65 290.23,62.85 290.28,65.33 290.32,68.06 290.36,71 290.41,74.12 290.45,77.4 290.5,80.78 290.54,84.25 290.59,87.75 290.63,91.25 290.68,94.72 290.72,98.1 290.77,101.38 290.81,104.5 290.85,107.44 290.9,110.17 290.94,112.65 290.99,114.85 291.03,116.76 291.08,118.35 291.12,119.61 291.17,120.52 291.21,121.07 291.26,121.25 291.3,121.07 291.34,120.52 291.39,119.61 291.43,118.35 291.48,116.76 291.52,114.85 291.57,112.65 291.61,110.17 291.66,107.44 291.7,104.5 291.75,101.38 291.79,98.1 291.83,94.72 291.88,91.25 291.92,87.75 291.97,84.25 292.01,80.78 292.06,77.4 292.1,74.12 292.15,71 292.19,68.06 292.24,65.33 292.28,62.85 292.32,60.65 292.37,58.74 292.41,57.15 292.46,55.89 292.5,54.98 292.55,54.43 292.59,54.25 292.64,54.43 292.68,54.98 292.73,55.89 292.77,57.15 292.81,58.74 292.86,60.65 292.9,62.85 292.95,65.33 292.99,68.06 293.04,71 293.08,74.12 293.13,77.4 293.17,80.78 293.22,84.25 293.26,87.75 293.31,91.25 293.35,94.72 293.39,98.1 293.44,101.38 293.48,104.5 293.53,107.44 293.57,110.17 293.62,112.65 293.66,114.85 293.71,116.76 293.75,118.35 293.8,119.61 293.84,120.52 293.88,121.07 293.93,117.9 293.97,117.72 294.02,117.17 294.06,116.26 294.11,115 294.15,113.41 294.2,111.5 294.24,109.3 294.29,106.82 294.33,104.09 294.37,101.15 294.42,98.03 294.46,94.75 294.51,91.37 294.55,87.9 294.6,84.4 294.64,80.9 294.69,77.43 294.73,74.05 294.78,70.77 294.82,67.65 294.86,64.71 294.91,61.98 294.95,59.5 295,57.3 295.04,55.39 295.09,53.8 295.13,52.54 295.18,51.63 295.22,51.08 295.27,50.9 295.31,51.08 295.35,51.63 295.4,52.54 295.44,53.8 295.49,55.39 295.53,57.3 295.58,59.5 295.62,61.98 295.67,64.71 295.71,67.65 295.76,70.77 295.8,74.05 295.84,77.43 295.89,80.9 295.93,84.4 295.98,87.9 296.02,91.37 296.07,94.75 296.11,98.03 296.16,101.15 296.2,104.09 296.25,106.82 296.29,109.3 296.33,111.5 296.38,113.41 296.42,115 296.47,116.26 296.51,117.17 296.56,117.72 296.6,117.9 296.65,117.72 296.69,117.17 296.74,116.26 296.78,115 296.82,113.41 296.87,111.5 296.91,109.3 296.96,106.82 297,104.09 297.05,101.15 297.09,98.03 297.14,94.75 297.18,91.37 297.23,87.9 297.27,84.4 297.31,80.9 297.36,77.43 297.4,74.05 297.45,70.77 297.49,67.65 297.54,64.71 297.58,61.98 297.63,59.5 297.67,57.3 297.72,55.39 297.76,53.8 297.8,52.54 297.85,51.63 297.89,51.08 297.94,50.9 297.98,51.08 298.03,51.63 298.07,52.54 298.12,53.8 298.16,55.39 298.21,57.3 298.25,59.5 298.29,61.98 298.34,64.71 298.38,67.65 298.43,70.77 298.47,74.05 298.52,77.43 298.56,80.9 298.61,84.4 298.65,87.9 298.7,91.37 298.74,94.75 298.78,98.03 298.83,101.15 298.87,104.09 298.92,106.82 298.96,109.3 299.01,111.5 299.05,113.41 299.1,115 299.14,116.26 299.19,117.17 299.23,117.72 299.27,117.9 299.32,117.72 299.36,117.17 299.41,116.26 299.45,115 299.5,113.41 299.54,111.5 299.59,109.3 299.63,106.82 299.68,104.09 299.72,101.15 299.76,98.03 299.81,94.75 299.85,91.37 299.9,87.9 299.94,84.4 299.99,80.9 300.03,77.43 300.08,74.05 300.12,70.77 300.17,67.65 300.21,64.71 300.25,61.98 300.3,59.5 300.34,57.3 300.39,55.39 300.43,53.8 300.48,52.54 300.52,51.63 300.57,51.08 300.61,47.55 300.66,47.73 300.7,48.28 300.74,49.19 300.79,50.45 300.83,52.04 300.88,53.95 300.92,56.15 300.97,58.63 301.01,61.36 301.06,64.3 301.1,67.42 301.15,70.7 301.19,74.08 301.23,77.55 301.28,81.05 301.32,84.55 301.37,88.02 301.41,91.4 301.46,94.68 301.5,97.8 301.55,100.74 301.59,103.47 301.64,105.95 301.68,108.15 301.73,110.06 301.77,111.65 301.81,112.91 301.86,113.82 301.9,114.37 301.95,114.55 301.99,114.37 302.04,113.82 302.08,112.91 302.13,111.65 302.17,110.06 302.22,108.15 302.26,105.95 302.3,103.47 302.35,100.74 302.39,97.8 302.44,94.68 302.48,91.4 302.53,88.02 302.57,84.55 302.62,81.05 302.66,77.55 302.71,74.08 302.75,70.7 302.79,67.42 302.84,64.3 302.88,61.36 302.93,58.63 302.97,56.15 303.02,53.95 303.06,52.04 303.11,50.45 303.15,49.19 303.2,48.28 303.24,47.73 303.28,47.55 303.33,47.73 303.37,48.28 303.42,49.19 303.46,50.45 303.51,52.04 303.55,53.95 303.6,56.15 303.64,58.63 303.69,61.36 303.73,64.3 303.77,67.42 303.82,70.7 303.86,74.08 303.91,77.55 303.95,81.05 304,84.55 304.04,88.02 304.09,91.4 304.13,94.68 304.18,97.8 304.22,100.74 304.26,103.47 304.31,105.95 304.35,108.15 304.4,110.06 304.44,111.65 304.49,112.91 304.53,113.82 304.58,114.37 304.62,114.55 304.67,114.37 304.71,113.82 304.75,112.91 304.8,111.65 304.84,110.06 304.89,108.15 304.93,105.95 304.98,103.47 305.02,100.74 305.07,97.8 305.11,94.68 305.16,91.4 305.2,88.02 305.24,84.55 305.29,81.05 305.33,77.55 305.38,74.08 305.42,70.7 305.47,67.42 305.51,64.3 305.56,61.36 305.6,58.63 305.65,56.15 305.69,53.95 305.73,52.04 305.78,50.45 305.82,49.19 305.87,48.28 305.91,47.73 305.96,47.55 306,47.73 306.05,48.28 306.09,49.19 306.14,50.45 306.18,52.04 306.22,53.95 306.27,56.15 306.31,58.63 306.36,61.36 306.4,64.3 306.45,67.42 306.49,70.7 306.54,74.08 306.58,77.55 306.63,81.05 306.67,84.55 306.71,88.02 306.76,91.4 306.8,94.68 306.85,97.8 306.89,100.74 306.94,103.47 306.98,105.95 307.03,108.15 307.07,110.06 307.12,111.65 307.16,112.91 307.2,113.82 307.25,114.37 307.29,111.2 307.34,111.02 307.38,110.47 307.43,109.56 307.47,108.3 307.52,106.71 307.56,104.8 307.61,102.6 307.65,100.12 307.69,97.39 307.74,94.45 307.78,91.33 307.83,88.05 307.87,84.67 307.92,81.2 307.96,77.7 308.01,74.2 308.05,70.73 308.1,67.35 308.14,64.07 308.18,60.95 308.23,58.01 308.27,55.28 308.32,52.8 308.36,50.6 308.41,48.69 308.45,47.1 308.5,45.84 308.54,44.93 308.59,44.38 308.63,44.2 308.67,44.38 308.72,44.93 308.76,45.84 308.81,47.1 308.85,48.69 308.9,50.6 308.94,52.8 308.99,55.28 309.03,58.01 309.08,60.95 309.12,64.07 309.16,67.35 309.21,70.73 309.25,74.2 309.3,77.7 309.34,81.2 309.39,84.67 309.43,88.05 309.48,91.33 309.52,94.45 309.57,97.39 309.61,100.12 309.65,102.6 309.7,104.8 309.74,106.71 309.79,108.3 309.83,109.56 309.88,110.47 309.92,111.02 309.97,111.2 310.01,111.02 310.06,110.47 310.1,109.56 310.14,108.3 310.19,106.71 310.23,104.8 310.28,102.6 310.32,100.12 310.37,97.39 310.41,94.45 310.46,91.33 310.5,88.05 310.55,84.67 310.59,81.2 310.63,77.7 310.68,74.2 310.72,70.73 310.77,67.35 310.81,64.07 310.86,60.95 310.9,58.01 310.95,55.28 310.99,52.8 311.04,50.6 311.08,48.69 311.13,47.1 311.17,45.84 311.21,44.93 311.26,44.38 311.3,44.2 311.35,44.38 311.39,44.93 311.44,45.84 311.48,47.1 311.53,48.69 311.57,50.6 311.62,52.8 311.66,55.28 311.7,58.01 311.75,60.95 311.79,64.07 311.84,67.35 311.88,70.73 311.93,74.2 311.97,77.7 312.02,81.2 312.06,84.67 312.11,88.05 312.15,91.33 312.19,94.45 312.24,97.39 312.28,100.12 312.33,102.6 312.37,104.8 312.42,106.71 312.46,108.3 312.51,109.56 312.55,110.47 312.6,111.02 312.64,111.2 312.68,111.02 312.73,110.47 312.77,109.56 312.82,108.3 312.86,106.71 312.91,104.8 312.95,102.6 313,100.12 313.04,97.39 313.09,94.45 313.13,91.33 313.17,88.05 313.22,84.67 313.26,81.2 313.31,77.7 313.35,74.2 313.4,70.73 313.44,67.35 313.49,64.07 313.53,60.95 313.58,58.01 313.62,55.28 313.66,52.8 313.71,50.6 313.75,48.69 313.8,47.1 313.84,45.84 313.89,44.93 313.93,44.38 313.98,40.85 314.02,41.03 314.07,41.58 314.11,42.49 314.15,43.75 314.2,45.34 314.24,47.25 314.29,49.45 314.33,51.93 314.38,54.66 314.42,57.6 314.47,60.72 314.51,64 314.56,67.38 314.6,70.85 314.64,74.35 314.69,77.85 314.73,81.32 314.78,84.7 314.82,87.98 314.87,91.1 314.91,94.04 314.96,96.77 315,99.25 315.05,101.45 315.09,103.36 315.13,104.95 315.18,106.21 315.22,107.12 315.27,107.67 315.31,107.85 315.36,107.67 315.4,107.12 315.45,106.21 315.49,104.95 315.54,103.36 315.58,101.45 315.62,99.25 315.67,96.77 315.71,94.04 315.76,91.1 315.8,87.98 315.85,84.7 315.89,81.32 315.94,77.85 315.98,74.35 316.03,70.85 316.07,67.38 316.11,64 316.16,60.72 316.2,57.6 316.25,54.66 316.29,51.93 316.34,49.45 316.38,47.25 316.43,45.34 316.47,43.75 316.52,42.49 316.56,41.58 316.6,41.03 316.65,40.85 316.69,41.03 316.74,41.58 316.78,42.49 316.83,43.75 316.87,45.34 316.92,47.25 316.96,49.45 317.01,51.93 317.05,54.66 317.09,57.6 317.14,60.72 317.18,64 317.23,67.38 317.27,70.85 317.32,74.35 317.36,77.85 317.41,81.32 317.45,84.7 317.5,87.98 317.54,91.1 317.58,94.04 317.63,96.77 317.67,99.25 317.72,101.45 317.76,103.36 317.81,104.95 317.85,106.21 317.9,107.12 317.94,107.67 317.99,107.85 318.03,107.67 318.07,107.12 318.12,106.21 318.16,104.95 318.21,103.36 318.25,101.45 318.3,99.25 318.34,96.77 318.39,94.04 318.43,91.1 318.48,87.98 318.52,84.7 318.56,81.32 318.61,77.85 318.65,74.35 318.7,70.85 318.74,67.38 318.79,64 318.83,60.72 318.88,57.6 318.92,54.66 318.97,51.93 319.01,49.45 319.05,47.25 319.1,45.34 319.14,43.75 319.19,42.49 319.23,41.58 319.28,41.03 319.32,40.85 319.37,41.03 319.41,41.58 319.46,42.49 319.5,43.75 319.54,45.34 319.59,47.25 319.63,49.45 319.68,51.93 319.72,54.66 319.77,57.6 319.81,60.72 319.86,64 319.9,67.38 319.95,70.85 319.99,74.35 320.04,77.85 320.08,81.32 320.12,84.7 320.17,87.98 320.21,91.1 320.26,94.04 320.3,96.77 320.35,99.25 320.39,101.45 320.44,103.36 320.48,104.95 320.53,106.21 320.57,107.12 320.61,107.67 320.66,104.5 320.7,104.32 320.75,103.77 320.79,102.86 320.84,101.6 320.88,100.01 320.93,98.1 320.97,95.9 321.02,93.42 321.06,90.69 321.1,87.75 321.15,84.63 321.19,81.35 321.24,77.97 321.28,74.5 321.33,71 321.37,67.5 321.42,64.03 321.46,60.65 321.51,57.37 321.55,54.25 321.59,51.31 321.64,48.58 321.68,46.1 321.73,43.9 321.77,41.99 321.82,40.4 321.86,39.14 321.91,38.23 321.95,37.68 322,37.5 322.04,37.68 322.08,38.23 322.13,39.14 322.17,40.4 322.22,41.99 322.26,43.9 322.31,46.1 322.35,48.58 322.4,51.31 322.44,54.25 322.49,57.37 322.53,60.65 322.57,64.03 322.62,67.5 322.66,71 322.71,74.5 322.75,77.97 322.8,81.35 322.84,84.63 322.89,87.75 322.93,90.69 322.98,93.42 323.02,95.9 323.06,98.1 323.11,100.01 323.15,101.6 323.2,102.86 323.24,103.77 323.29,104.32 323.33,104.5 323.38,104.32 323.42,103.77 323.47,102.86 323.51,101.6 323.55,100.01 323.6,98.1 323.64,95.9 323.69,93.42 323.73,90.69 323.78,87.75 323.82,84.63 323.87,81.35 323.91,77.97 323.96,74.5 324,71" fill="none" stroke="#2a6a70" stroke-width="0.9" opacity="0.6" clip-path="url(#clA)"/>
<rect x="56.7" y="0.6" width="267.3" height="140.9" fill="none" stroke="#383838" stroke-width="1.25"/>
<path d="M56.7 141.5v-3M56.7 0.6v3M83.43 141.5v-1.7M83.43 0.6v1.7M110.16 141.5v-3M110.16 0.6v3M136.89 141.5v-1.7M136.89 0.6v1.7M163.62 141.5v-3M163.62 0.6v3M190.35 141.5v-1.7M190.35 0.6v1.7M217.08 141.5v-3M217.08 0.6v3M243.81 141.5v-1.7M243.81 0.6v1.7M270.54 141.5v-3M270.54 0.6v3M297.27 141.5v-1.7M297.27 0.6v1.7M324 141.5v-3M324 0.6v3M56.7 138h3M324 138h-3M56.7 131.3h1.7M324 131.3h-1.7M56.7 124.6h1.7M324 124.6h-1.7M56.7 117.9h1.7M324 117.9h-1.7M56.7 111.2h1.7M324 111.2h-1.7M56.7 104.5h3M324 104.5h-3M56.7 97.8h1.7M324 97.8h-1.7M56.7 91.1h1.7M324 91.1h-1.7M56.7 84.4h1.7M324 84.4h-1.7M56.7 77.7h1.7M324 77.7h-1.7M56.7 71h3M324 71h-3M56.7 64.3h1.7M324 64.3h-1.7M56.7 57.6h1.7M324 57.6h-1.7M56.7 50.9h1.7M324 50.9h-1.7M56.7 44.2h1.7M324 44.2h-1.7M56.7 37.5h3M324 37.5h-3M56.7 30.8h1.7M324 30.8h-1.7M56.7 24.1h1.7M324 24.1h-1.7M56.7 17.4h1.7M324 17.4h-1.7M56.7 10.7h1.7M324 10.7h-1.7M56.7 4h3M324 4h-3" stroke="#383838" stroke-width="1.25" fill="none"/>
<text class="tk" x="51.6" y="6.8" text-anchor="end">2</text>
<text class="tk" x="51.6" y="40.3" text-anchor="end">1</text>
<text class="tk" x="51.6" y="73.8" text-anchor="end">0</text>
<text class="tk" x="51.6" y="107.3" text-anchor="end">-1</text>
<text class="tk" x="51.6" y="140.8" text-anchor="end">-2</text>
<text class="tk" x="57" y="152.3" text-anchor="middle">0.0</text>
<text class="tk" x="110.46" y="152.3" text-anchor="middle">0.2</text>
<text class="tk" x="163.92" y="152.3" text-anchor="middle">0.4</text>
<text class="tk" x="217.38" y="152.3" text-anchor="middle">0.6</text>
<text class="tk" x="270.84" y="152.3" text-anchor="middle">0.8</text>
<text class="tk" x="326.3" y="152.3" text-anchor="middle">1.0</text>
<defs>
<clipPath id="clB"><rect x="56.5" y="256.5" width="266.6" height="10.8"/></clipPath></defs>
<polyline points="56.5,261.9 56.72,259.07 56.94,256.26 57.17,253.45 57.39,250.67 57.61,247.92 57.83,245.21 58.06,242.55 58.28,239.94 58.5,237.38 58.72,234.9 58.94,232.49 59.17,230.16 59.39,227.92 59.61,225.77 59.83,223.72 60.05,221.77 60.28,219.93 60.5,218.21 60.72,216.61 60.94,215.13 61.17,213.79 61.39,212.57 61.61,211.49 61.83,210.54 62.05,209.74 62.28,209.08 62.5,208.56 62.72,208.2 62.94,207.97 63.16,207.9 63.39,207.97 63.61,208.2 63.83,208.56 64.05,209.08 64.28,209.74 64.5,210.54 64.72,211.49 64.94,212.57 65.16,213.79 65.39,215.13 65.61,216.61 65.83,218.21 66.05,219.93 66.28,221.77 66.5,223.72 66.72,225.77 66.94,227.92 67.16,230.16 67.39,232.49 67.61,234.9 67.83,237.38 68.05,239.94 68.27,242.55 68.5,245.21 68.72,247.92 68.94,250.67 69.16,253.45 69.39,256.26 69.61,259.07 69.83,261.9 70.05,264.73 70.27,267.54 70.5,270.35 70.72,273.13 70.94,275.88 71.16,278.59 71.39,281.25 71.61,283.86 71.83,286.42 72.05,288.9 72.27,291.31 72.5,293.64 72.72,295.88 72.94,298.03 73.16,300.08 73.38,302.03 73.61,303.87 73.83,305.59 74.05,307.19 74.27,308.67 74.5,310.01 74.72,311.23 74.94,312.31 75.16,313.26 75.38,314.06 75.61,314.72 75.83,315.24 76.05,315.6 76.27,315.83 76.5,315.9 76.72,315.83 76.94,315.6 77.16,315.24 77.38,314.72 77.61,314.06 77.83,313.26 78.05,312.31 78.27,311.23 78.49,310.01 78.72,308.67 78.94,307.19 79.16,305.59 79.38,303.87 79.61,302.03 79.83,300.08 80.05,298.03 80.27,295.88 80.49,293.64 80.72,291.31 80.94,288.9 81.16,286.42 81.38,283.86 81.6,281.25 81.83,278.59 82.05,275.88 82.27,273.13 82.49,270.35 82.72,267.54 82.94,264.73 83.16,261.9 83.38,259.07 83.6,256.26 83.83,253.45 84.05,250.67 84.27,247.92 84.49,245.21 84.72,242.55 84.94,239.94 85.16,237.38 85.38,234.9 85.6,232.49 85.83,230.16 86.05,227.92 86.27,225.77 86.49,223.72 86.71,221.77 86.94,219.93 87.16,218.21 87.38,216.61 87.6,215.13 87.83,213.79 88.05,212.57 88.27,211.49 88.49,210.54 88.71,209.74 88.94,209.08 89.16,208.56 89.38,208.2 89.6,207.97 89.83,202.5 90.05,202.57 90.27,202.8 90.49,203.16 90.71,203.68 90.94,204.34 91.16,205.14 91.38,206.09 91.6,207.17 91.82,208.39 92.05,209.73 92.27,211.21 92.49,212.81 92.71,214.53 92.94,216.37 93.16,218.32 93.38,220.37 93.6,222.52 93.82,224.76 94.05,227.09 94.27,229.5 94.49,231.98 94.71,234.54 94.93,237.15 95.16,239.81 95.38,242.52 95.6,245.27 95.82,248.05 96.05,250.86 96.27,253.67 96.49,256.5 96.71,259.33 96.93,262.14 97.16,264.95 97.38,267.73 97.6,270.48 97.82,273.19 98.05,275.85 98.27,278.46 98.49,281.02 98.71,283.5 98.93,285.91 99.16,288.24 99.38,290.48 99.6,292.63 99.82,294.68 100.04,296.63 100.27,298.47 100.49,300.19 100.71,301.79 100.93,303.27 101.16,304.61 101.38,305.83 101.6,306.91 101.82,307.86 102.04,308.66 102.27,309.32 102.49,309.84 102.71,310.2 102.93,310.43 103.16,310.5 103.38,310.43 103.6,310.2 103.82,309.84 104.04,309.32 104.27,308.66 104.49,307.86 104.71,306.91 104.93,305.83 105.15,304.61 105.38,303.27 105.6,301.79 105.82,300.19 106.04,298.47 106.27,296.63 106.49,294.68 106.71,292.63 106.93,290.48 107.15,288.24 107.38,285.91 107.6,283.5 107.82,281.02 108.04,278.46 108.26,275.85 108.49,273.19 108.71,270.48 108.93,267.73 109.15,264.95 109.38,262.14 109.6,259.33 109.82,256.5 110.04,253.67 110.26,250.86 110.49,248.05 110.71,245.27 110.93,242.52 111.15,239.81 111.38,237.15 111.6,234.54 111.82,231.98 112.04,229.5 112.26,227.09 112.49,224.76 112.71,222.52 112.93,220.37 113.15,218.32 113.37,216.37 113.6,214.53 113.82,212.81 114.04,211.21 114.26,209.73 114.49,208.39 114.71,207.17 114.93,206.09 115.15,205.14 115.37,204.34 115.6,203.68 115.82,203.16 116.04,202.8 116.26,202.57 116.48,202.5 116.71,202.57 116.93,202.8 117.15,203.16 117.37,203.68 117.6,204.34 117.82,205.14 118.04,206.09 118.26,207.17 118.48,208.39 118.71,209.73 118.93,211.21 119.15,212.81 119.37,214.53 119.6,216.37 119.82,218.32 120.04,220.37 120.26,222.52 120.48,224.76 120.71,227.09 120.93,229.5 121.15,231.98 121.37,234.54 121.59,237.15 121.82,239.81 122.04,242.52 122.26,245.27 122.48,248.05 122.71,250.86 122.93,253.67 123.15,256.5 123.37,259.33 123.59,262.14 123.82,264.95 124.04,267.73 124.26,270.48 124.48,273.19 124.71,275.85 124.93,278.46 125.15,281.02 125.37,283.5 125.59,285.91 125.82,288.24 126.04,290.48 126.26,292.63 126.48,294.68 126.7,296.63 126.93,298.47 127.15,300.19 127.37,301.79 127.59,303.27 127.82,304.61 128.04,305.83 128.26,306.91 128.48,307.86 128.7,308.66 128.93,309.32 129.15,309.84 129.37,310.2 129.59,310.43 129.81,310.5 130.04,310.43 130.26,310.2 130.48,309.84 130.7,309.32 130.93,308.66 131.15,307.86 131.37,306.91 131.59,305.83 131.81,304.61 132.04,303.27 132.26,301.79 132.48,300.19 132.7,298.47 132.93,296.63 133.15,294.68 133.37,292.63 133.59,290.48 133.81,288.24 134.04,285.91 134.26,283.5 134.48,281.02 134.7,278.46 134.92,275.85 135.15,273.19 135.37,270.48 135.59,267.73 135.81,264.95 136.04,262.14 136.26,259.33 136.48,256.5 136.7,253.67 136.92,250.86 137.15,248.05 137.37,245.27 137.59,242.52 137.81,239.81 138.04,237.15 138.26,234.54 138.48,231.98 138.7,229.5 138.92,227.09 139.15,224.76 139.37,222.52 139.59,220.37 139.81,218.32 140.03,216.37 140.26,214.53 140.48,212.81 140.7,211.21 140.92,209.73 141.15,208.39 141.37,207.17 141.59,206.09 141.81,205.14 142.03,204.34 142.26,203.68 142.48,203.16 142.7,202.8 142.92,202.57 143.14,202.5 143.37,202.57 143.59,202.8 143.81,203.16 144.03,203.68 144.26,204.34 144.48,205.14 144.7,206.09 144.92,207.17 145.14,208.39 145.37,209.73 145.59,211.21 145.81,212.81 146.03,214.53 146.26,216.37 146.48,218.32 146.7,220.37 146.92,222.52 147.14,224.76 147.37,227.09 147.59,229.5 147.81,231.98 148.03,234.54 148.25,237.15 148.48,239.81 148.7,242.52 148.92,245.27 149.14,248.05 149.37,250.86 149.59,253.67 149.81,256.5 150.03,259.33 150.25,262.14 150.48,264.95 150.7,267.73 150.92,270.48 151.14,273.19 151.37,275.85 151.59,278.46 151.81,281.02 152.03,283.5 152.25,285.91 152.48,288.24 152.7,290.48 152.92,292.63 153.14,294.68 153.36,296.63 153.59,298.47 153.81,300.19 154.03,301.79 154.25,303.27 154.48,304.61 154.7,305.83 154.92,306.91 155.14,307.86 155.36,308.66 155.59,309.32 155.81,309.84 156.03,310.2 156.25,310.43 156.47,305.1 156.7,305.03 156.92,304.8 157.14,304.44 157.36,303.92 157.59,303.26 157.81,302.46 158.03,301.51 158.25,300.43 158.47,299.21 158.7,297.87 158.92,296.39 159.14,294.79 159.36,293.07 159.59,291.23 159.81,289.28 160.03,287.23 160.25,285.08 160.47,282.84 160.7,280.51 160.92,278.1 161.14,275.62 161.36,273.06 161.58,270.45 161.81,267.79 162.03,265.08 162.25,262.33 162.47,259.55 162.7,256.74 162.92,253.93 163.14,251.1 163.36,248.27 163.58,245.46 163.81,242.65 164.03,239.87 164.25,237.12 164.47,234.41 164.7,231.75 164.92,229.14 165.14,226.58 165.36,224.1 165.58,221.69 165.81,219.36 166.03,217.12 166.25,214.97 166.47,212.92 166.69,210.97 166.92,209.13 167.14,207.41 167.36,205.81 167.58,204.33 167.81,202.99 168.03,201.77 168.25,200.69 168.47,199.74 168.69,198.94 168.92,198.28 169.14,197.76 169.36,197.4 169.58,197.17 169.81,197.1 170.03,197.17 170.25,197.4 170.47,197.76 170.69,198.28 170.92,198.94 171.14,199.74 171.36,200.69 171.58,201.77 171.8,202.99 172.03,204.33 172.25,205.81 172.47,207.41 172.69,209.13 172.92,210.97 173.14,212.92 173.36,214.97 173.58,217.12 173.8,219.36 174.03,221.69 174.25,224.1 174.47,226.58 174.69,229.14 174.91,231.75 175.14,234.41 175.36,237.12 175.58,239.87 175.8,242.65 176.03,245.46 176.25,248.27 176.47,251.1 176.69,253.93 176.91,256.74 177.14,259.55 177.36,262.33 177.58,265.08 177.8,267.79 178.03,270.45 178.25,273.06 178.47,275.62 178.69,278.1 178.91,280.51 179.14,282.84 179.36,285.08 179.58,287.23 179.8,289.28 180.02,291.23 180.25,293.07 180.47,294.79 180.69,296.39 180.91,297.87 181.14,299.21 181.36,300.43 181.58,301.51 181.8,302.46 182.02,303.26 182.25,303.92 182.47,304.44 182.69,304.8 182.91,305.03 183.13,305.1 183.36,305.03 183.58,304.8 183.8,304.44 184.02,303.92 184.25,303.26 184.47,302.46 184.69,301.51 184.91,300.43 185.13,299.21 185.36,297.87 185.58,296.39 185.8,294.79 186.02,293.07 186.25,291.23 186.47,289.28 186.69,287.23 186.91,285.08 187.13,282.84 187.36,280.51 187.58,278.1 187.8,275.62 188.02,273.06 188.24,270.45 188.47,267.79 188.69,265.08 188.91,262.33 189.13,259.55 189.36,256.74 189.58,253.93 189.8,251.1 190.02,248.27 190.24,245.46 190.47,242.65 190.69,239.87 190.91,237.12 191.13,234.41 191.36,231.75 191.58,229.14 191.8,226.58 192.02,224.1 192.24,221.69 192.47,219.36 192.69,217.12 192.91,214.97 193.13,212.92 193.35,210.97 193.58,209.13 193.8,207.41 194.02,205.81 194.24,204.33 194.47,202.99 194.69,201.77 194.91,200.69 195.13,199.74 195.35,198.94 195.58,198.28 195.8,197.76 196.02,197.4 196.24,197.17 196.47,197.1 196.69,197.17 196.91,197.4 197.13,197.76 197.35,198.28 197.58,198.94 197.8,199.74 198.02,200.69 198.24,201.77 198.46,202.99 198.69,204.33 198.91,205.81 199.13,207.41 199.35,209.13 199.58,210.97 199.8,212.92 200.02,214.97 200.24,217.12 200.46,219.36 200.69,221.69 200.91,224.1 201.13,226.58 201.35,229.14 201.57,231.75 201.8,234.41 202.02,237.12 202.24,239.87 202.46,242.65 202.69,245.46 202.91,248.27 203.13,251.1 203.35,253.93 203.57,256.74 203.8,259.55 204.02,262.33 204.24,265.08 204.46,267.79 204.69,270.45 204.91,273.06 205.13,275.62 205.35,278.1 205.57,280.51 205.8,282.84 206.02,285.08 206.24,287.23 206.46,289.28 206.68,291.23 206.91,293.07 207.13,294.79 207.35,296.39 207.57,297.87 207.8,299.21 208.02,300.43 208.24,301.51 208.46,302.46 208.68,303.26 208.91,303.92 209.13,304.44 209.35,304.8 209.57,305.03 209.8,305.1 210.02,305.03 210.24,304.8 210.46,304.44 210.68,303.92 210.91,303.26 211.13,302.46 211.35,301.51 211.57,300.43 211.79,299.21 212.02,297.87 212.24,296.39 212.46,294.79 212.68,293.07 212.91,291.23 213.13,289.28 213.35,287.23 213.57,285.08 213.79,282.84 214.02,280.51 214.24,278.1 214.46,275.62 214.68,273.06 214.9,270.45 215.13,267.79 215.35,265.08 215.57,262.33 215.79,259.55 216.02,256.74 216.24,253.93 216.46,251.1 216.68,248.27 216.9,245.46 217.13,242.65 217.35,239.87 217.57,237.12 217.79,234.41 218.02,231.75 218.24,229.14 218.46,226.58 218.68,224.1 218.9,221.69 219.13,219.36 219.35,217.12 219.57,214.97 219.79,212.92 220.01,210.97 220.24,209.13 220.46,207.41 220.68,205.81 220.9,204.33 221.13,202.99 221.35,201.77 221.57,200.69 221.79,199.74 222.01,198.94 222.24,198.28 222.46,197.76 222.68,197.4 222.9,197.17 223.12,191.7 223.35,191.77 223.57,192 223.79,192.36 224.01,192.88 224.24,193.54 224.46,194.34 224.68,195.29 224.9,196.37 225.12,197.59 225.35,198.93 225.57,200.41 225.79,202.01 226.01,203.73 226.24,205.57 226.46,207.52 226.68,209.57 226.9,211.72 227.12,213.96 227.35,216.29 227.57,218.7 227.79,221.18 228.01,223.74 228.23,226.35 228.46,229.01 228.68,231.72 228.9,234.47 229.12,237.25 229.35,240.06 229.57,242.87 229.79,245.7 230.01,248.53 230.23,251.34 230.46,254.15 230.68,256.93 230.9,259.68 231.12,262.39 231.35,265.05 231.57,267.66 231.79,270.22 232.01,272.7 232.23,275.11 232.46,277.44 232.68,279.68 232.9,281.83 233.12,283.88 233.34,285.83 233.57,287.67 233.79,289.39 234.01,290.99 234.23,292.47 234.46,293.81 234.68,295.03 234.9,296.11 235.12,297.06 235.34,297.86 235.57,298.52 235.79,299.04 236.01,299.4 236.23,299.63 236.46,299.7 236.68,299.63 236.9,299.4 237.12,299.04 237.34,298.52 237.57,297.86 237.79,297.06 238.01,296.11 238.23,295.03 238.45,293.81 238.68,292.47 238.9,290.99 239.12,289.39 239.34,287.67 239.57,285.83 239.79,283.88 240.01,281.83 240.23,279.68 240.45,277.44 240.68,275.11 240.9,272.7 241.12,270.22 241.34,267.66 241.56,265.05 241.79,262.39 242.01,259.68 242.23,256.93 242.45,254.15 242.68,251.34 242.9,248.53 243.12,245.7 243.34,242.87 243.56,240.06 243.79,237.25 244.01,234.47 244.23,231.72 244.45,229.01 244.68,226.35 244.9,223.74 245.12,221.18 245.34,218.7 245.56,216.29 245.79,213.96 246.01,211.72 246.23,209.57 246.45,207.52 246.67,205.57 246.9,203.73 247.12,202.01 247.34,200.41 247.56,198.93 247.79,197.59 248.01,196.37 248.23,195.29 248.45,194.34 248.67,193.54 248.9,192.88 249.12,192.36 249.34,192 249.56,191.77 249.78,191.7 250.01,191.77 250.23,192 250.45,192.36 250.67,192.88 250.9,193.54 251.12,194.34 251.34,195.29 251.56,196.37 251.78,197.59 252.01,198.93 252.23,200.41 252.45,202.01 252.67,203.73 252.9,205.57 253.12,207.52 253.34,209.57 253.56,211.72 253.78,213.96 254.01,216.29 254.23,218.7 254.45,221.18 254.67,223.74 254.89,226.35 255.12,229.01 255.34,231.72 255.56,234.47 255.78,237.25 256.01,240.06 256.23,242.87 256.45,245.7 256.67,248.53 256.89,251.34 257.12,254.15 257.34,256.93 257.56,259.68 257.78,262.39 258.01,265.05 258.23,267.66 258.45,270.22 258.67,272.7 258.89,275.11 259.12,277.44 259.34,279.68 259.56,281.83 259.78,283.88 260,285.83 260.23,287.67 260.45,289.39 260.67,290.99 260.89,292.47 261.12,293.81 261.34,295.03 261.56,296.11 261.78,297.06 262,297.86 262.23,298.52 262.45,299.04 262.67,299.4 262.89,299.63 263.12,299.7 263.34,299.63 263.56,299.4 263.78,299.04 264,298.52 264.23,297.86 264.45,297.06 264.67,296.11 264.89,295.03 265.11,293.81 265.34,292.47 265.56,290.99 265.78,289.39 266,287.67 266.23,285.83 266.45,283.88 266.67,281.83 266.89,279.68 267.11,277.44 267.34,275.11 267.56,272.7 267.78,270.22 268,267.66 268.22,265.05 268.45,262.39 268.67,259.68 268.89,256.93 269.11,254.15 269.34,251.34 269.56,248.53 269.78,245.7 270,242.87 270.22,240.06 270.45,237.25 270.67,234.47 270.89,231.72 271.11,229.01 271.34,226.35 271.56,223.74 271.78,221.18 272,218.7 272.22,216.29 272.45,213.96 272.67,211.72 272.89,209.57 273.11,207.52 273.33,205.57 273.56,203.73 273.78,202.01 274,200.41 274.22,198.93 274.45,197.59 274.67,196.37 274.89,195.29 275.11,194.34 275.33,193.54 275.56,192.88 275.78,192.36 276,192 276.22,191.77 276.45,191.7 276.67,191.77 276.89,192 277.11,192.36 277.33,192.88 277.56,193.54 277.78,194.34 278,195.29 278.22,196.37 278.44,197.59 278.67,198.93 278.89,200.41 279.11,202.01 279.33,203.73 279.56,205.57 279.78,207.52 280,209.57 280.22,211.72 280.44,213.96 280.67,216.29 280.89,218.7 281.11,221.18 281.33,223.74 281.55,226.35 281.78,229.01 282,231.72 282.22,234.47 282.44,237.25 282.67,240.06 282.89,242.87 283.11,245.7 283.33,248.53 283.55,251.34 283.78,254.15 284,256.93 284.22,259.68 284.44,262.39 284.67,265.05 284.89,267.66 285.11,270.22 285.33,272.7 285.55,275.11 285.78,277.44 286,279.68 286.22,281.83 286.44,283.88 286.66,285.83 286.89,287.67 287.11,289.39 287.33,290.99 287.55,292.47 287.78,293.81 288,295.03 288.22,296.11 288.44,297.06 288.66,297.86 288.89,298.52 289.11,299.04 289.33,299.4 289.55,299.63 289.77,294.3 290,294.23 290.22,294 290.44,293.64 290.66,293.12 290.89,292.46 291.11,291.66 291.33,290.71 291.55,289.63 291.77,288.41 292,287.07 292.22,285.59 292.44,283.99 292.66,282.27 292.89,280.43 293.11,278.48 293.33,276.43 293.55,274.28 293.77,272.04 294,269.71 294.22,267.3 294.44,264.82 294.66,262.26 294.88,259.65 295.11,256.99 295.33,254.28 295.55,251.53 295.77,248.75 296,245.94 296.22,243.13 296.44,240.3 296.66,237.47 296.88,234.66 297.11,231.85 297.33,229.07 297.55,226.32 297.77,223.61 298,220.95 298.22,218.34 298.44,215.78 298.66,213.3 298.88,210.89 299.11,208.56 299.33,206.32 299.55,204.17 299.77,202.12 299.99,200.17 300.22,198.33 300.44,196.61 300.66,195.01 300.88,193.53 301.11,192.19 301.33,190.97 301.55,189.89 301.77,188.94 301.99,188.14 302.22,187.48 302.44,186.96 302.66,186.6 302.88,186.37 303.11,186.3 303.33,186.37 303.55,186.6 303.77,186.96 303.99,187.48 304.22,188.14 304.44,188.94 304.66,189.89 304.88,190.97 305.1,192.19 305.33,193.53 305.55,195.01 305.77,196.61 305.99,198.33 306.22,200.17 306.44,202.12 306.66,204.17 306.88,206.32 307.1,208.56 307.33,210.89 307.55,213.3 307.77,215.78 307.99,218.34 308.21,220.95 308.44,223.61 308.66,226.32 308.88,229.07 309.1,231.85 309.33,234.66 309.55,237.47 309.77,240.3 309.99,243.13 310.21,245.94 310.44,248.75 310.66,251.53 310.88,254.28 311.1,256.99 311.33,259.65 311.55,262.26 311.77,264.82 311.99,267.3 312.21,269.71 312.44,272.04 312.66,274.28 312.88,276.43 313.1,278.48 313.32,280.43 313.55,282.27 313.77,283.99 313.99,285.59 314.21,287.07 314.44,288.41 314.66,289.63 314.88,290.71 315.1,291.66 315.32,292.46 315.55,293.12 315.77,293.64 315.99,294 316.21,294.23 316.44,294.3 316.66,294.23 316.88,294 317.1,293.64 317.32,293.12 317.55,292.46 317.77,291.66 317.99,290.71 318.21,289.63 318.43,288.41 318.66,287.07 318.88,285.59 319.1,283.99 319.32,282.27 319.55,280.43 319.77,278.48 319.99,276.43 320.21,274.28 320.43,272.04 320.66,269.71 320.88,267.3 321.1,264.82 321.32,262.26 321.54,259.65 321.77,256.99 321.99,254.28 322.21,251.53 322.43,248.75 322.66,245.94 322.88,243.13 323.1,240.3" fill="none" stroke="#ff4040" stroke-width="0.7"/>
<rect x="56.5" y="256.5" width="266.6" height="10.8" fill="#0af2f2"/>
<line x1="56.5" y1="261.9" x2="323.1" y2="261.9" stroke="#107a7a" stroke-width="1"/>
<polyline points="56.5,261.9 56.72,259.07 56.94,256.26 57.17,253.45 57.39,250.67 57.61,247.92 57.83,245.21 58.06,242.55 58.28,239.94 58.5,237.38 58.72,234.9 58.94,232.49 59.17,230.16 59.39,227.92 59.61,225.77 59.83,223.72 60.05,221.77 60.28,219.93 60.5,218.21 60.72,216.61 60.94,215.13 61.17,213.79 61.39,212.57 61.61,211.49 61.83,210.54 62.05,209.74 62.28,209.08 62.5,208.56 62.72,208.2 62.94,207.97 63.16,207.9 63.39,207.97 63.61,208.2 63.83,208.56 64.05,209.08 64.28,209.74 64.5,210.54 64.72,211.49 64.94,212.57 65.16,213.79 65.39,215.13 65.61,216.61 65.83,218.21 66.05,219.93 66.28,221.77 66.5,223.72 66.72,225.77 66.94,227.92 67.16,230.16 67.39,232.49 67.61,234.9 67.83,237.38 68.05,239.94 68.27,242.55 68.5,245.21 68.72,247.92 68.94,250.67 69.16,253.45 69.39,256.26 69.61,259.07 69.83,261.9 70.05,264.73 70.27,267.54 70.5,270.35 70.72,273.13 70.94,275.88 71.16,278.59 71.39,281.25 71.61,283.86 71.83,286.42 72.05,288.9 72.27,291.31 72.5,293.64 72.72,295.88 72.94,298.03 73.16,300.08 73.38,302.03 73.61,303.87 73.83,305.59 74.05,307.19 74.27,308.67 74.5,310.01 74.72,311.23 74.94,312.31 75.16,313.26 75.38,314.06 75.61,314.72 75.83,315.24 76.05,315.6 76.27,315.83 76.5,315.9 76.72,315.83 76.94,315.6 77.16,315.24 77.38,314.72 77.61,314.06 77.83,313.26 78.05,312.31 78.27,311.23 78.49,310.01 78.72,308.67 78.94,307.19 79.16,305.59 79.38,303.87 79.61,302.03 79.83,300.08 80.05,298.03 80.27,295.88 80.49,293.64 80.72,291.31 80.94,288.9 81.16,286.42 81.38,283.86 81.6,281.25 81.83,278.59 82.05,275.88 82.27,273.13 82.49,270.35 82.72,267.54 82.94,264.73 83.16,261.9 83.38,259.07 83.6,256.26 83.83,253.45 84.05,250.67 84.27,247.92 84.49,245.21 84.72,242.55 84.94,239.94 85.16,237.38 85.38,234.9 85.6,232.49 85.83,230.16 86.05,227.92 86.27,225.77 86.49,223.72 86.71,221.77 86.94,219.93 87.16,218.21 87.38,216.61 87.6,215.13 87.83,213.79 88.05,212.57 88.27,211.49 88.49,210.54 88.71,209.74 88.94,209.08 89.16,208.56 89.38,208.2 89.6,207.97 89.83,202.5 90.05,202.57 90.27,202.8 90.49,203.16 90.71,203.68 90.94,204.34 91.16,205.14 91.38,206.09 91.6,207.17 91.82,208.39 92.05,209.73 92.27,211.21 92.49,212.81 92.71,214.53 92.94,216.37 93.16,218.32 93.38,220.37 93.6,222.52 93.82,224.76 94.05,227.09 94.27,229.5 94.49,231.98 94.71,234.54 94.93,237.15 95.16,239.81 95.38,242.52 95.6,245.27 95.82,248.05 96.05,250.86 96.27,253.67 96.49,256.5 96.71,259.33 96.93,262.14 97.16,264.95 97.38,267.73 97.6,270.48 97.82,273.19 98.05,275.85 98.27,278.46 98.49,281.02 98.71,283.5 98.93,285.91 99.16,288.24 99.38,290.48 99.6,292.63 99.82,294.68 100.04,296.63 100.27,298.47 100.49,300.19 100.71,301.79 100.93,303.27 101.16,304.61 101.38,305.83 101.6,306.91 101.82,307.86 102.04,308.66 102.27,309.32 102.49,309.84 102.71,310.2 102.93,310.43 103.16,310.5 103.38,310.43 103.6,310.2 103.82,309.84 104.04,309.32 104.27,308.66 104.49,307.86 104.71,306.91 104.93,305.83 105.15,304.61 105.38,303.27 105.6,301.79 105.82,300.19 106.04,298.47 106.27,296.63 106.49,294.68 106.71,292.63 106.93,290.48 107.15,288.24 107.38,285.91 107.6,283.5 107.82,281.02 108.04,278.46 108.26,275.85 108.49,273.19 108.71,270.48 108.93,267.73 109.15,264.95 109.38,262.14 109.6,259.33 109.82,256.5 110.04,253.67 110.26,250.86 110.49,248.05 110.71,245.27 110.93,242.52 111.15,239.81 111.38,237.15 111.6,234.54 111.82,231.98 112.04,229.5 112.26,227.09 112.49,224.76 112.71,222.52 112.93,220.37 113.15,218.32 113.37,216.37 113.6,214.53 113.82,212.81 114.04,211.21 114.26,209.73 114.49,208.39 114.71,207.17 114.93,206.09 115.15,205.14 115.37,204.34 115.6,203.68 115.82,203.16 116.04,202.8 116.26,202.57 116.48,202.5 116.71,202.57 116.93,202.8 117.15,203.16 117.37,203.68 117.6,204.34 117.82,205.14 118.04,206.09 118.26,207.17 118.48,208.39 118.71,209.73 118.93,211.21 119.15,212.81 119.37,214.53 119.6,216.37 119.82,218.32 120.04,220.37 120.26,222.52 120.48,224.76 120.71,227.09 120.93,229.5 121.15,231.98 121.37,234.54 121.59,237.15 121.82,239.81 122.04,242.52 122.26,245.27 122.48,248.05 122.71,250.86 122.93,253.67 123.15,256.5 123.37,259.33 123.59,262.14 123.82,264.95 124.04,267.73 124.26,270.48 124.48,273.19 124.71,275.85 124.93,278.46 125.15,281.02 125.37,283.5 125.59,285.91 125.82,288.24 126.04,290.48 126.26,292.63 126.48,294.68 126.7,296.63 126.93,298.47 127.15,300.19 127.37,301.79 127.59,303.27 127.82,304.61 128.04,305.83 128.26,306.91 128.48,307.86 128.7,308.66 128.93,309.32 129.15,309.84 129.37,310.2 129.59,310.43 129.81,310.5 130.04,310.43 130.26,310.2 130.48,309.84 130.7,309.32 130.93,308.66 131.15,307.86 131.37,306.91 131.59,305.83 131.81,304.61 132.04,303.27 132.26,301.79 132.48,300.19 132.7,298.47 132.93,296.63 133.15,294.68 133.37,292.63 133.59,290.48 133.81,288.24 134.04,285.91 134.26,283.5 134.48,281.02 134.7,278.46 134.92,275.85 135.15,273.19 135.37,270.48 135.59,267.73 135.81,264.95 136.04,262.14 136.26,259.33 136.48,256.5 136.7,253.67 136.92,250.86 137.15,248.05 137.37,245.27 137.59,242.52 137.81,239.81 138.04,237.15 138.26,234.54 138.48,231.98 138.7,229.5 138.92,227.09 139.15,224.76 139.37,222.52 139.59,220.37 139.81,218.32 140.03,216.37 140.26,214.53 140.48,212.81 140.7,211.21 140.92,209.73 141.15,208.39 141.37,207.17 141.59,206.09 141.81,205.14 142.03,204.34 142.26,203.68 142.48,203.16 142.7,202.8 142.92,202.57 143.14,202.5 143.37,202.57 143.59,202.8 143.81,203.16 144.03,203.68 144.26,204.34 144.48,205.14 144.7,206.09 144.92,207.17 145.14,208.39 145.37,209.73 145.59,211.21 145.81,212.81 146.03,214.53 146.26,216.37 146.48,218.32 146.7,220.37 146.92,222.52 147.14,224.76 147.37,227.09 147.59,229.5 147.81,231.98 148.03,234.54 148.25,237.15 148.48,239.81 148.7,242.52 148.92,245.27 149.14,248.05 149.37,250.86 149.59,253.67 149.81,256.5 150.03,259.33 150.25,262.14 150.48,264.95 150.7,267.73 150.92,270.48 151.14,273.19 151.37,275.85 151.59,278.46 151.81,281.02 152.03,283.5 152.25,285.91 152.48,288.24 152.7,290.48 152.92,292.63 153.14,294.68 153.36,296.63 153.59,298.47 153.81,300.19 154.03,301.79 154.25,303.27 154.48,304.61 154.7,305.83 154.92,306.91 155.14,307.86 155.36,308.66 155.59,309.32 155.81,309.84 156.03,310.2 156.25,310.43 156.47,305.1 156.7,305.03 156.92,304.8 157.14,304.44 157.36,303.92 157.59,303.26 157.81,302.46 158.03,301.51 158.25,300.43 158.47,299.21 158.7,297.87 158.92,296.39 159.14,294.79 159.36,293.07 159.59,291.23 159.81,289.28 160.03,287.23 160.25,285.08 160.47,282.84 160.7,280.51 160.92,278.1 161.14,275.62 161.36,273.06 161.58,270.45 161.81,267.79 162.03,265.08 162.25,262.33 162.47,259.55 162.7,256.74 162.92,253.93 163.14,251.1 163.36,248.27 163.58,245.46 163.81,242.65 164.03,239.87 164.25,237.12 164.47,234.41 164.7,231.75 164.92,229.14 165.14,226.58 165.36,224.1 165.58,221.69 165.81,219.36 166.03,217.12 166.25,214.97 166.47,212.92 166.69,210.97 166.92,209.13 167.14,207.41 167.36,205.81 167.58,204.33 167.81,202.99 168.03,201.77 168.25,200.69 168.47,199.74 168.69,198.94 168.92,198.28 169.14,197.76 169.36,197.4 169.58,197.17 169.81,197.1 170.03,197.17 170.25,197.4 170.47,197.76 170.69,198.28 170.92,198.94 171.14,199.74 171.36,200.69 171.58,201.77 171.8,202.99 172.03,204.33 172.25,205.81 172.47,207.41 172.69,209.13 172.92,210.97 173.14,212.92 173.36,214.97 173.58,217.12 173.8,219.36 174.03,221.69 174.25,224.1 174.47,226.58 174.69,229.14 174.91,231.75 175.14,234.41 175.36,237.12 175.58,239.87 175.8,242.65 176.03,245.46 176.25,248.27 176.47,251.1 176.69,253.93 176.91,256.74 177.14,259.55 177.36,262.33 177.58,265.08 177.8,267.79 178.03,270.45 178.25,273.06 178.47,275.62 178.69,278.1 178.91,280.51 179.14,282.84 179.36,285.08 179.58,287.23 179.8,289.28 180.02,291.23 180.25,293.07 180.47,294.79 180.69,296.39 180.91,297.87 181.14,299.21 181.36,300.43 181.58,301.51 181.8,302.46 182.02,303.26 182.25,303.92 182.47,304.44 182.69,304.8 182.91,305.03 183.13,305.1 183.36,305.03 183.58,304.8 183.8,304.44 184.02,303.92 184.25,303.26 184.47,302.46 184.69,301.51 184.91,300.43 185.13,299.21 185.36,297.87 185.58,296.39 185.8,294.79 186.02,293.07 186.25,291.23 186.47,289.28 186.69,287.23 186.91,285.08 187.13,282.84 187.36,280.51 187.58,278.1 187.8,275.62 188.02,273.06 188.24,270.45 188.47,267.79 188.69,265.08 188.91,262.33 189.13,259.55 189.36,256.74 189.58,253.93 189.8,251.1 190.02,248.27 190.24,245.46 190.47,242.65 190.69,239.87 190.91,237.12 191.13,234.41 191.36,231.75 191.58,229.14 191.8,226.58 192.02,224.1 192.24,221.69 192.47,219.36 192.69,217.12 192.91,214.97 193.13,212.92 193.35,210.97 193.58,209.13 193.8,207.41 194.02,205.81 194.24,204.33 194.47,202.99 194.69,201.77 194.91,200.69 195.13,199.74 195.35,198.94 195.58,198.28 195.8,197.76 196.02,197.4 196.24,197.17 196.47,197.1 196.69,197.17 196.91,197.4 197.13,197.76 197.35,198.28 197.58,198.94 197.8,199.74 198.02,200.69 198.24,201.77 198.46,202.99 198.69,204.33 198.91,205.81 199.13,207.41 199.35,209.13 199.58,210.97 199.8,212.92 200.02,214.97 200.24,217.12 200.46,219.36 200.69,221.69 200.91,224.1 201.13,226.58 201.35,229.14 201.57,231.75 201.8,234.41 202.02,237.12 202.24,239.87 202.46,242.65 202.69,245.46 202.91,248.27 203.13,251.1 203.35,253.93 203.57,256.74 203.8,259.55 204.02,262.33 204.24,265.08 204.46,267.79 204.69,270.45 204.91,273.06 205.13,275.62 205.35,278.1 205.57,280.51 205.8,282.84 206.02,285.08 206.24,287.23 206.46,289.28 206.68,291.23 206.91,293.07 207.13,294.79 207.35,296.39 207.57,297.87 207.8,299.21 208.02,300.43 208.24,301.51 208.46,302.46 208.68,303.26 208.91,303.92 209.13,304.44 209.35,304.8 209.57,305.03 209.8,305.1 210.02,305.03 210.24,304.8 210.46,304.44 210.68,303.92 210.91,303.26 211.13,302.46 211.35,301.51 211.57,300.43 211.79,299.21 212.02,297.87 212.24,296.39 212.46,294.79 212.68,293.07 212.91,291.23 213.13,289.28 213.35,287.23 213.57,285.08 213.79,282.84 214.02,280.51 214.24,278.1 214.46,275.62 214.68,273.06 214.9,270.45 215.13,267.79 215.35,265.08 215.57,262.33 215.79,259.55 216.02,256.74 216.24,253.93 216.46,251.1 216.68,248.27 216.9,245.46 217.13,242.65 217.35,239.87 217.57,237.12 217.79,234.41 218.02,231.75 218.24,229.14 218.46,226.58 218.68,224.1 218.9,221.69 219.13,219.36 219.35,217.12 219.57,214.97 219.79,212.92 220.01,210.97 220.24,209.13 220.46,207.41 220.68,205.81 220.9,204.33 221.13,202.99 221.35,201.77 221.57,200.69 221.79,199.74 222.01,198.94 222.24,198.28 222.46,197.76 222.68,197.4 222.9,197.17 223.12,191.7 223.35,191.77 223.57,192 223.79,192.36 224.01,192.88 224.24,193.54 224.46,194.34 224.68,195.29 224.9,196.37 225.12,197.59 225.35,198.93 225.57,200.41 225.79,202.01 226.01,203.73 226.24,205.57 226.46,207.52 226.68,209.57 226.9,211.72 227.12,213.96 227.35,216.29 227.57,218.7 227.79,221.18 228.01,223.74 228.23,226.35 228.46,229.01 228.68,231.72 228.9,234.47 229.12,237.25 229.35,240.06 229.57,242.87 229.79,245.7 230.01,248.53 230.23,251.34 230.46,254.15 230.68,256.93 230.9,259.68 231.12,262.39 231.35,265.05 231.57,267.66 231.79,270.22 232.01,272.7 232.23,275.11 232.46,277.44 232.68,279.68 232.9,281.83 233.12,283.88 233.34,285.83 233.57,287.67 233.79,289.39 234.01,290.99 234.23,292.47 234.46,293.81 234.68,295.03 234.9,296.11 235.12,297.06 235.34,297.86 235.57,298.52 235.79,299.04 236.01,299.4 236.23,299.63 236.46,299.7 236.68,299.63 236.9,299.4 237.12,299.04 237.34,298.52 237.57,297.86 237.79,297.06 238.01,296.11 238.23,295.03 238.45,293.81 238.68,292.47 238.9,290.99 239.12,289.39 239.34,287.67 239.57,285.83 239.79,283.88 240.01,281.83 240.23,279.68 240.45,277.44 240.68,275.11 240.9,272.7 241.12,270.22 241.34,267.66 241.56,265.05 241.79,262.39 242.01,259.68 242.23,256.93 242.45,254.15 242.68,251.34 242.9,248.53 243.12,245.7 243.34,242.87 243.56,240.06 243.79,237.25 244.01,234.47 244.23,231.72 244.45,229.01 244.68,226.35 244.9,223.74 245.12,221.18 245.34,218.7 245.56,216.29 245.79,213.96 246.01,211.72 246.23,209.57 246.45,207.52 246.67,205.57 246.9,203.73 247.12,202.01 247.34,200.41 247.56,198.93 247.79,197.59 248.01,196.37 248.23,195.29 248.45,194.34 248.67,193.54 248.9,192.88 249.12,192.36 249.34,192 249.56,191.77 249.78,191.7 250.01,191.77 250.23,192 250.45,192.36 250.67,192.88 250.9,193.54 251.12,194.34 251.34,195.29 251.56,196.37 251.78,197.59 252.01,198.93 252.23,200.41 252.45,202.01 252.67,203.73 252.9,205.57 253.12,207.52 253.34,209.57 253.56,211.72 253.78,213.96 254.01,216.29 254.23,218.7 254.45,221.18 254.67,223.74 254.89,226.35 255.12,229.01 255.34,231.72 255.56,234.47 255.78,237.25 256.01,240.06 256.23,242.87 256.45,245.7 256.67,248.53 256.89,251.34 257.12,254.15 257.34,256.93 257.56,259.68 257.78,262.39 258.01,265.05 258.23,267.66 258.45,270.22 258.67,272.7 258.89,275.11 259.12,277.44 259.34,279.68 259.56,281.83 259.78,283.88 260,285.83 260.23,287.67 260.45,289.39 260.67,290.99 260.89,292.47 261.12,293.81 261.34,295.03 261.56,296.11 261.78,297.06 262,297.86 262.23,298.52 262.45,299.04 262.67,299.4 262.89,299.63 263.12,299.7 263.34,299.63 263.56,299.4 263.78,299.04 264,298.52 264.23,297.86 264.45,297.06 264.67,296.11 264.89,295.03 265.11,293.81 265.34,292.47 265.56,290.99 265.78,289.39 266,287.67 266.23,285.83 266.45,283.88 266.67,281.83 266.89,279.68 267.11,277.44 267.34,275.11 267.56,272.7 267.78,270.22 268,267.66 268.22,265.05 268.45,262.39 268.67,259.68 268.89,256.93 269.11,254.15 269.34,251.34 269.56,248.53 269.78,245.7 270,242.87 270.22,240.06 270.45,237.25 270.67,234.47 270.89,231.72 271.11,229.01 271.34,226.35 271.56,223.74 271.78,221.18 272,218.7 272.22,216.29 272.45,213.96 272.67,211.72 272.89,209.57 273.11,207.52 273.33,205.57 273.56,203.73 273.78,202.01 274,200.41 274.22,198.93 274.45,197.59 274.67,196.37 274.89,195.29 275.11,194.34 275.33,193.54 275.56,192.88 275.78,192.36 276,192 276.22,191.77 276.45,191.7 276.67,191.77 276.89,192 277.11,192.36 277.33,192.88 277.56,193.54 277.78,194.34 278,195.29 278.22,196.37 278.44,197.59 278.67,198.93 278.89,200.41 279.11,202.01 279.33,203.73 279.56,205.57 279.78,207.52 280,209.57 280.22,211.72 280.44,213.96 280.67,216.29 280.89,218.7 281.11,221.18 281.33,223.74 281.55,226.35 281.78,229.01 282,231.72 282.22,234.47 282.44,237.25 282.67,240.06 282.89,242.87 283.11,245.7 283.33,248.53 283.55,251.34 283.78,254.15 284,256.93 284.22,259.68 284.44,262.39 284.67,265.05 284.89,267.66 285.11,270.22 285.33,272.7 285.55,275.11 285.78,277.44 286,279.68 286.22,281.83 286.44,283.88 286.66,285.83 286.89,287.67 287.11,289.39 287.33,290.99 287.55,292.47 287.78,293.81 288,295.03 288.22,296.11 288.44,297.06 288.66,297.86 288.89,298.52 289.11,299.04 289.33,299.4 289.55,299.63 289.77,294.3 290,294.23 290.22,294 290.44,293.64 290.66,293.12 290.89,292.46 291.11,291.66 291.33,290.71 291.55,289.63 291.77,288.41 292,287.07 292.22,285.59 292.44,283.99 292.66,282.27 292.89,280.43 293.11,278.48 293.33,276.43 293.55,274.28 293.77,272.04 294,269.71 294.22,267.3 294.44,264.82 294.66,262.26 294.88,259.65 295.11,256.99 295.33,254.28 295.55,251.53 295.77,248.75 296,245.94 296.22,243.13 296.44,240.3 296.66,237.47 296.88,234.66 297.11,231.85 297.33,229.07 297.55,226.32 297.77,223.61 298,220.95 298.22,218.34 298.44,215.78 298.66,213.3 298.88,210.89 299.11,208.56 299.33,206.32 299.55,204.17 299.77,202.12 299.99,200.17 300.22,198.33 300.44,196.61 300.66,195.01 300.88,193.53 301.11,192.19 301.33,190.97 301.55,189.89 301.77,188.94 301.99,188.14 302.22,187.48 302.44,186.96 302.66,186.6 302.88,186.37 303.11,186.3 303.33,186.37 303.55,186.6 303.77,186.96 303.99,187.48 304.22,188.14 304.44,188.94 304.66,189.89 304.88,190.97 305.1,192.19 305.33,193.53 305.55,195.01 305.77,196.61 305.99,198.33 306.22,200.17 306.44,202.12 306.66,204.17 306.88,206.32 307.1,208.56 307.33,210.89 307.55,213.3 307.77,215.78 307.99,218.34 308.21,220.95 308.44,223.61 308.66,226.32 308.88,229.07 309.1,231.85 309.33,234.66 309.55,237.47 309.77,240.3 309.99,243.13 310.21,245.94 310.44,248.75 310.66,251.53 310.88,254.28 311.1,256.99 311.33,259.65 311.55,262.26 311.77,264.82 311.99,267.3 312.21,269.71 312.44,272.04 312.66,274.28 312.88,276.43 313.1,278.48 313.32,280.43 313.55,282.27 313.77,283.99 313.99,285.59 314.21,287.07 314.44,288.41 314.66,289.63 314.88,290.71 315.1,291.66 315.32,292.46 315.55,293.12 315.77,293.64 315.99,294 316.21,294.23 316.44,294.3 316.66,294.23 316.88,294 317.1,293.64 317.32,293.12 317.55,292.46 317.77,291.66 317.99,290.71 318.21,289.63 318.43,288.41 318.66,287.07 318.88,285.59 319.1,283.99 319.32,282.27 319.55,280.43 319.77,278.48 319.99,276.43 320.21,274.28 320.43,272.04 320.66,269.71 320.88,267.3 321.1,264.82 321.32,262.26 321.54,259.65 321.77,256.99 321.99,254.28 322.21,251.53 322.43,248.75 322.66,245.94 322.88,243.13 323.1,240.3" fill="none" stroke="#e80000" stroke-width="2.2" clip-path="url(#clB)"/>
<line x1="89.83" y1="185" x2="89.83" y2="320.9" stroke="#7a7aff" stroke-width="1.3" stroke-dasharray="3.1 2.7"/>
<rect x="87.12" y="256.6" width="5.6" height="9.6" fill="#fff" stroke="#2a2aff" stroke-width="1.1"/>
<line x1="156.47" y1="185" x2="156.47" y2="320.9" stroke="#7a7aff" stroke-width="1.3" stroke-dasharray="3.1 2.7"/>
<rect x="153.78" y="256.6" width="5.6" height="9.6" fill="#fff" stroke="#2a2aff" stroke-width="1.1"/>
<line x1="223.12" y1="185" x2="223.12" y2="320.9" stroke="#7a7aff" stroke-width="1.3" stroke-dasharray="3.1 2.7"/>
<rect x="220.43" y="256.6" width="5.6" height="9.6" fill="#fff" stroke="#2a2aff" stroke-width="1.1"/>
<line x1="289.77" y1="185" x2="289.77" y2="320.9" stroke="#7a7aff" stroke-width="1.3" stroke-dasharray="3.1 2.7"/>
<rect x="287.07" y="256.6" width="5.6" height="9.6" fill="#fff" stroke="#2a2aff" stroke-width="1.1"/>
<rect x="56.5" y="181.3" width="266.6" height="139.6" fill="none" stroke="#383838" stroke-width="1.25"/>
<path d="M56.5 320.9v-3M56.5 181.3v3M89.83 320.9v-1.7M89.83 181.3v1.7M123.15 320.9v-3M123.15 181.3v3M156.48 320.9v-1.7M156.48 181.3v1.7M189.8 320.9v-3M189.8 181.3v3M223.12 320.9v-1.7M223.12 181.3v1.7M256.45 320.9v-3M256.45 181.3v3M289.78 320.9v-1.7M289.78 181.3v1.7M323.1 320.9v-3M323.1 181.3v3M56.5 315.9h3M323.1 315.9h-3M56.5 310.5h1.7M323.1 310.5h-1.7M56.5 305.1h1.7M323.1 305.1h-1.7M56.5 299.7h1.7M323.1 299.7h-1.7M56.5 294.3h1.7M323.1 294.3h-1.7M56.5 288.9h3M323.1 288.9h-3M56.5 283.5h1.7M323.1 283.5h-1.7M56.5 278.1h1.7M323.1 278.1h-1.7M56.5 272.7h1.7M323.1 272.7h-1.7M56.5 267.3h1.7M323.1 267.3h-1.7M56.5 261.9h3M323.1 261.9h-3M56.5 256.5h1.7M323.1 256.5h-1.7M56.5 251.1h1.7M323.1 251.1h-1.7M56.5 245.7h1.7M323.1 245.7h-1.7M56.5 240.3h1.7M323.1 240.3h-1.7M56.5 234.9h3M323.1 234.9h-3M56.5 229.5h1.7M323.1 229.5h-1.7M56.5 224.1h1.7M323.1 224.1h-1.7M56.5 218.7h1.7M323.1 218.7h-1.7M56.5 213.3h1.7M323.1 213.3h-1.7M56.5 207.9h3M323.1 207.9h-3M56.5 202.5h1.7M323.1 202.5h-1.7M56.5 197.1h1.7M323.1 197.1h-1.7M56.5 191.7h1.7M323.1 191.7h-1.7M56.5 186.3h1.7M323.1 186.3h-1.7" stroke="#383838" stroke-width="1.25" fill="none"/>
<text class="tk" x="53.4" y="183.5" text-anchor="end">1.5</text>
<text class="tk" x="53.4" y="210.5" text-anchor="end">1.0</text>
<text class="tk" x="53.4" y="237.5" text-anchor="end">0.5</text>
<text class="tk" x="53.4" y="264.5" text-anchor="end">0.0</text>
<text class="tk" x="53.4" y="291.5" text-anchor="end">-0.5</text>
<text class="tk" x="53.4" y="318.5" text-anchor="end">-1.0</text>
<text class="tk" x="56.5" y="331.5" text-anchor="middle">0.000</text>
<text class="tk" x="123.15" y="331.5" text-anchor="middle">0.025</text>
<text class="tk" x="189.8" y="331.5" text-anchor="middle">0.050</text>
<text class="tk" x="256.45" y="331.5" text-anchor="middle">0.075</text>
<text class="tk" x="323.1" y="331.5" text-anchor="middle">0.100</text>
<text class="tt" transform="translate(30.6 70) rotate(-90)" font-size="10.8" text-anchor="middle">Voltage (V)</text>
<text class="tt" transform="translate(25.6 250) rotate(-90)" font-size="10.8" text-anchor="middle">Voltage (V)</text>
<text class="tt" x="166.8" y="167.2" font-size="10.2">Time (<tspan font-style="italic">f</tspan><tspan font-size="7.5" dy="2.5">PJVS</tspan><tspan font-size="7.5" dy="-6.6">-1</tspan><tspan dy="4.1">)</tspan></text>
<text class="tt" x="172.6" y="347.4" font-size="10.2">Time (<tspan font-style="italic">f</tspan><tspan font-size="7.5" dy="1.6">PJVS</tspan><tspan font-size="7.5" dy="-5.7">-1</tspan><tspan dy="4.1">)</tspan></text>
<text x="-1.0" y="17.6" font-size="15">a)</text>
<text x="-0.5" y="197.2" font-size="15">b)</text>
<text x="193.2" y="34.5" font-size="14.15" fill="#1e1ef4" stroke="#1e1ef4" stroke-width="0.15">voltage limit</text>
<path d="M204.6 36.8h2.4v20.3h3.6l-4.8 9.7l-4.8 -9.7h3.6z" fill="#5010c8"/>
<path d="M205.8 75.5l4.8 9.7h-3.6v20.4h-2.4v-20.4h-3.6z" fill="#5010c8"/>
<text x="66" y="170.8" font-size="14.2" fill="#1e1ef4" stroke="#1e1ef4" stroke-width="0.2">zoom</text>
<circle cx="57" cy="141.8" r="2.45" fill="#1e1ef4"/>
<circle cx="83.7" cy="141.9" r="2.45" fill="#1e1ef4"/>
<path d="M57.2 154V156.9M57.2 158.3V162M57.2 163.2V166.7M57.2 167.8V171M57.2 172.2V179.4" stroke="#1e1ef4" stroke-width="1.6" fill="none"/>
<path d="M54.1 174.0L57.2 179.8L60.3 174.0" fill="none" stroke="#1e1ef4" stroke-width="1.6" stroke-linejoin="miter"/>
<path d="M83.3 142.1L88 142.87M92.8 143.65L98.6 144.6M120.5 148.17L121.9 148.4M126.6 149.16L134.7 150.48M138.3 151.07L146.3 152.38M149.5 152.9L155.3 153.84M159.8 154.58L163.2 155.13M232 166.35L233.3 166.57M238.1 167.35L245.2 168.51M249.3 169.18L256.5 170.35M260.4 170.99L268 172.23M272.1 172.89L278.7 173.97M284.2 174.87L290.7 175.93M295.7 176.74L302.4 177.84M307.2 178.62L316.5 180.14" stroke="#1e1ef4" stroke-width="1.6" fill="none"/>
<path d="M311.6 176.4L317.5 180.3L311.2 183.0" fill="none" stroke="#1e1ef4" stroke-width="1.6"/>
</svg></body></html>
